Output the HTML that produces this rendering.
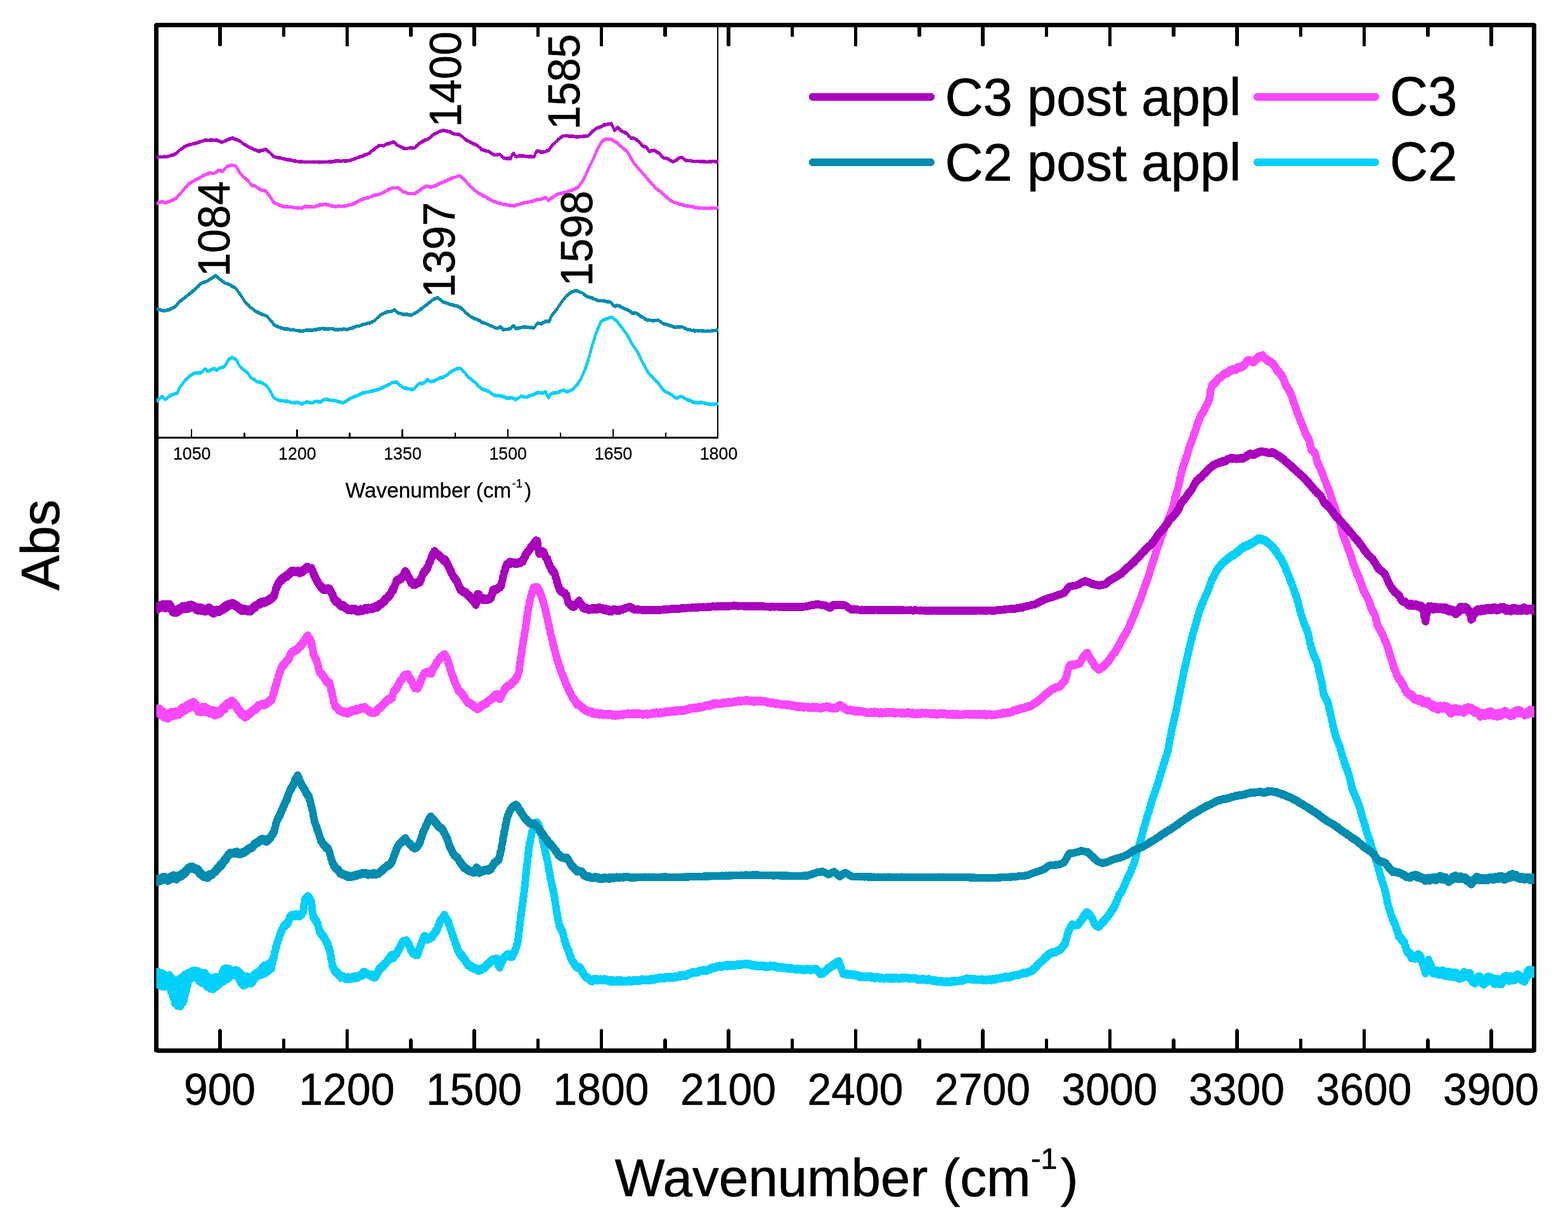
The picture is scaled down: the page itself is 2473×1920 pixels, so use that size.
<!DOCTYPE html>
<html lang="en"><head><meta charset="utf-8"><title>FTIR spectra</title>
<style>html,body{margin:0;padding:0;background:#fff}body{width:2473px;height:1920px;overflow:hidden}svg{display:block}text{font-family:"Liberation Sans",Arial,sans-serif;fill:#000}</style>
</head><body>
<svg xmlns="http://www.w3.org/2000/svg" width="2473" height="1920" viewBox="0 0 2473 1920">
<rect width="2473" height="1920" fill="#fff"/>
<defs><clipPath id="ci"><rect x="246.9" y="39.6" width="886.6" height="650.9"/></clipPath>
<clipPath id="cm"><rect x="246.5" y="39.6" width="2173.4" height="1617.6"/></clipPath></defs>
<g stroke="#000" stroke-width="5.6" stroke-linecap="round" shape-rendering="crispEdges">
<line x1="347.1" y1="39.6" x2="347.1" y2="70.6"/>
<line x1="347.1" y1="1657.2" x2="347.1" y2="1626.2"/>
<line x1="447.4" y1="39.6" x2="447.4" y2="55.6"/>
<line x1="447.4" y1="1657.2" x2="447.4" y2="1641.2"/>
<line x1="547.6" y1="39.6" x2="547.6" y2="70.6"/>
<line x1="547.6" y1="1657.2" x2="547.6" y2="1626.2"/>
<line x1="647.9" y1="39.6" x2="647.9" y2="55.6"/>
<line x1="647.9" y1="1657.2" x2="647.9" y2="1641.2"/>
<line x1="748.1" y1="39.6" x2="748.1" y2="70.6"/>
<line x1="748.1" y1="1657.2" x2="748.1" y2="1626.2"/>
<line x1="848.4" y1="39.6" x2="848.4" y2="55.6"/>
<line x1="848.4" y1="1657.2" x2="848.4" y2="1641.2"/>
<line x1="948.6" y1="39.6" x2="948.6" y2="70.6"/>
<line x1="948.6" y1="1657.2" x2="948.6" y2="1626.2"/>
<line x1="1048.9" y1="39.6" x2="1048.9" y2="55.6"/>
<line x1="1048.9" y1="1657.2" x2="1048.9" y2="1641.2"/>
<line x1="1149.1" y1="39.6" x2="1149.1" y2="70.6"/>
<line x1="1149.1" y1="1657.2" x2="1149.1" y2="1626.2"/>
<line x1="1249.4" y1="39.6" x2="1249.4" y2="55.6"/>
<line x1="1249.4" y1="1657.2" x2="1249.4" y2="1641.2"/>
<line x1="1349.6" y1="39.6" x2="1349.6" y2="70.6"/>
<line x1="1349.6" y1="1657.2" x2="1349.6" y2="1626.2"/>
<line x1="1449.9" y1="39.6" x2="1449.9" y2="55.6"/>
<line x1="1449.9" y1="1657.2" x2="1449.9" y2="1641.2"/>
<line x1="1550.1" y1="39.6" x2="1550.1" y2="70.6"/>
<line x1="1550.1" y1="1657.2" x2="1550.1" y2="1626.2"/>
<line x1="1650.4" y1="39.6" x2="1650.4" y2="55.6"/>
<line x1="1650.4" y1="1657.2" x2="1650.4" y2="1641.2"/>
<line x1="1750.6" y1="39.6" x2="1750.6" y2="70.6"/>
<line x1="1750.6" y1="1657.2" x2="1750.6" y2="1626.2"/>
<line x1="1850.9" y1="39.6" x2="1850.9" y2="55.6"/>
<line x1="1850.9" y1="1657.2" x2="1850.9" y2="1641.2"/>
<line x1="1951.1" y1="39.6" x2="1951.1" y2="70.6"/>
<line x1="1951.1" y1="1657.2" x2="1951.1" y2="1626.2"/>
<line x1="2051.4" y1="39.6" x2="2051.4" y2="55.6"/>
<line x1="2051.4" y1="1657.2" x2="2051.4" y2="1641.2"/>
<line x1="2151.6" y1="39.6" x2="2151.6" y2="70.6"/>
<line x1="2151.6" y1="1657.2" x2="2151.6" y2="1626.2"/>
<line x1="2251.9" y1="39.6" x2="2251.9" y2="55.6"/>
<line x1="2251.9" y1="1657.2" x2="2251.9" y2="1641.2"/>
<line x1="2352.1" y1="39.6" x2="2352.1" y2="70.6"/>
<line x1="2352.1" y1="1657.2" x2="2352.1" y2="1626.2"/>
</g>
<rect x="246.6" y="39.6" width="2172.9" height="1617.6" fill="none" stroke="#000" stroke-width="6.6" stroke-linejoin="round" shape-rendering="crispEdges"/>
<g clip-path="url(#cm)" shape-rendering="crispEdges">
<path d="M246 1551.7L246.1 1551.7L247.1 1532.8L248.1 1553L249.1 1532.5L250.1 1554L251.1 1533.8L252.1 1555.7L253.1 1534.6L254.1 1554.7L255.1 1534.8L256.1 1556.7L257.1 1536.2L258.1 1555.5L259.1 1537.9L260.1 1556.8L261.1 1538.5L262.1 1556.1L263.1 1538.8L264.1 1556.7L265.1 1540.2L266.1 1557.1L267.1 1538.2L268.1 1558.3L269.1 1541L270.1 1565.5L271.1 1544.1L272.1 1571.6L273.1 1544.7L274.1 1576L275.1 1548L276.1 1583.6L277.1 1549.7L278.1 1584.3L279.1 1546.3L280.1 1587.2L281.1 1546.7L282.1 1586L283.1 1546.2L284.1 1588.1L285.1 1542.4L286.1 1583.9L287.1 1541.5L288.1 1582.6L289.1 1541.8L290.1 1578.1L291.1 1537.7L292.1 1569.8L293.1 1537.5L294.1 1562.9L295.1 1535.6L296.1 1554.7L297.1 1534.4L298.1 1546.7L299.1 1534.2L300.1 1544.3L301.1 1533.3L302.1 1543.3L303.1 1531.7L304.1 1542.7L305.1 1531L306.1 1541.5L307.1 1530.8L308.1 1541.2L309.1 1531.1L310.1 1543.5L311.1 1531.5L312.1 1545.6L313.1 1532.6L314.1 1548.4L315.1 1533.3L316.1 1549.6L317.1 1534.3L318.1 1551.5L319.1 1535.2L320.1 1551.4L321.1 1535.6L322.1 1551.9L323.1 1534.7L324.1 1554.3L325.1 1537.6L326.1 1556.2L327.1 1540L328.1 1558L329.1 1541.8L330.1 1558.3L331.1 1543.4L332.1 1560.3L333.1 1542.9L334.1 1560.5L335.1 1542.6L336.1 1560.8L337.1 1542.1L338.1 1558.8L339.1 1542.7L340.1 1557.7L341.1 1541.2L342.1 1555L343.1 1541.3L344.1 1554.3L345.1 1541.4L346.1 1552.6L347.1 1542.1L348.1 1551.1L349.1 1544L350.1 1549.5L351.1 1532.7L352.1 1549L353.1 1528.8L354.1 1547.5L355.1 1527.8L356.1 1545.2L357.1 1527.4L358.1 1545.5L359.1 1527.6L360.1 1543.3L361.1 1528.2L362.1 1541.6L363.1 1530.5L364.1 1540.4L365.1 1531L366.1 1539.5L367.1 1530.8L368.1 1539.2L369.1 1531.2L370.1 1538.8L371.1 1530.2L372.1 1539L373.1 1530.3L374.1 1539.7L375.1 1531.7L376.1 1543.3L377.1 1533.6L378.1 1546.9L379.1 1535.6L380.1 1550.9L381.1 1537.9L382.1 1553.2L383.1 1540.1L384.1 1555.3L385.1 1540.3L386.1 1553.3L387.1 1540.8L388.1 1553.3L389.1 1540.1L390.1 1550.9L391.1 1540.6L392.1 1550.6L393.1 1541.2L394.1 1551.5L395.1 1542.1L396.1 1551.8L397.1 1542.1L398.1 1550.1L399.1 1539.7L400.1 1546.2L401.1 1536.7L402.1 1543.1L403.1 1535.3L404.1 1541.9L405.1 1534.3L406.1 1540.5L407.1 1533L408.1 1539.7L409.1 1531.8L410.1 1538.5L411.1 1529.3L412.1 1538.2L413.1 1527.2L414.1 1537.1L415.1 1524.3L416.1 1536.4L417.1 1522.7L418.1 1535.8L419.1 1523.1L420.1 1534.4L421.1 1522.2L422.1 1532.5L423.1 1520.6L424.1 1531.2L425.1 1518.9L426.1 1529.4L427.1 1517.5L428.1 1528.4L429.1 1514.8L430.1 1518.4L431.1 1511.3L432.1 1510L433.1 1502.2L434.1 1500.9L435.1 1494.4L436.1 1493.6L437.1 1487L438.1 1486.4L439.1 1480.7L440.1 1480.5L441.1 1474.7L442.1 1474.7L443.1 1469.7L444.1 1470.5L445.1 1465.5L446.1 1465.3L447.1 1460.4L448.1 1462.9L449.1 1458.6L450.1 1461L451.1 1456.8L452.1 1459.6L453.1 1454.7L454.1 1457.3L455.1 1451.9L456.1 1451.9L457.1 1445.5L458.1 1446L459.1 1443.8L460.1 1446.3L461.1 1442.7L462.1 1446.1L463.1 1443.3L464.1 1445.2L465.1 1442.4L466.1 1445.7L467.1 1442.2L468.1 1444.6L469.1 1442.5L470.1 1445.7L471.1 1442.8L472.1 1446.4L473.1 1442.2L474.1 1444.7L475.1 1440.9L476.1 1443.1L477.1 1438.4L478.1 1439.9L479.1 1429.7L480.1 1426.2L481.1 1418.2L482.1 1420.6L483.1 1416.1L484.1 1417.8L485.1 1413.4L486.1 1416.8L487.1 1415.1L488.1 1419.5L489.1 1417.8L490.1 1422.9L491.1 1422.4L492.1 1434L493.1 1440.4L494.1 1447.8L495.1 1446.3L496.1 1450.8L497.1 1449.8L498.1 1453.5L499.1 1451.8L500.1 1456.7L501.1 1456.8L502.1 1463.1L503.1 1465.5L504.1 1471L505.1 1469.3L506.1 1473.9L507.1 1471.9L508.1 1476.5L509.1 1474.5L510.1 1479.1L511.1 1477.9L512.1 1482.2L513.1 1481.4L514.1 1485.9L515.1 1485.2L516.1 1490.2L517.1 1488.7L518.1 1496L519.1 1494.8L520.1 1500.5L521.1 1502.5L522.1 1511.7L523.1 1514.8L524.1 1524.3L525.1 1523.9L526.1 1529.6L527.1 1528.2L528.1 1533.2L529.1 1531.6L530.1 1535.6L531.1 1532.6L532.1 1536.2L533.1 1534.9L534.1 1539.2L535.1 1536.9L536.1 1540.5L537.1 1538.6L538.1 1543.2L539.1 1540.3L540.1 1542.9L541.1 1539.8L542.1 1543.7L543.1 1541.3L544.1 1544.6L545.1 1541.6L546.1 1545.4L547.1 1542L548.1 1545.4L549.1 1541.1L550.1 1544.8L551.1 1542.6L552.1 1545L553.1 1541.7L554.1 1544.7L555.1 1540.9L556.1 1543.7L557.1 1541.1L558.1 1543.3L559.1 1539.5L560.1 1543.7L561.1 1540L562.1 1543.3L563.1 1539.6L564.1 1543.1L565.1 1539.3L566.1 1541.1L567.1 1537.9L568.1 1540L569.1 1537.3L570.1 1540.5L571.1 1536.1L572.1 1537.2L573.1 1532.9L574.1 1535.5L575.1 1533.3L576.1 1536.1L577.1 1534.2L578.1 1536.9L579.1 1535.5L580.1 1538L581.1 1536.5L582.1 1538.6L583.1 1536.8L584.1 1540.1L585.1 1536.7L586.1 1540.5L587.1 1538.3L588.1 1542L589.1 1539L590.1 1542.7L591.1 1539.8L592.1 1542.1L593.1 1537.9L594.1 1539L595.1 1534.3L596.1 1535.1L597.1 1530.1L598.1 1531.4L599.1 1526.3L600.1 1529.1L601.1 1525.4L602.1 1527L603.1 1523L604.1 1525.9L605.1 1521.8L606.1 1523.2L607.1 1519.2L608.1 1520.6L609.1 1518.3L610.1 1518.2L611.1 1514.9L612.1 1516.1L613.1 1511.8L614.1 1513.9L615.1 1509.8L616.1 1511.3L617.1 1506.3L618.1 1509.1L619.1 1505.6L620.1 1512.1L621.1 1508.6L622.1 1509.2L623.1 1505.3L624.1 1506.5L625.1 1502.5L626.1 1504.8L627.1 1499.6L628.1 1500.9L629.1 1496.4L630.1 1497.3L631.1 1492.7L632.1 1494L633.1 1488.7L634.1 1489.1L635.1 1484.9L636.1 1487.4L637.1 1483.7L638.1 1486.9L639.1 1483.6L640.1 1486.3L641.1 1483.1L642.1 1485.7L643.1 1486L644.1 1489.9L645.1 1489.2L646.1 1494.6L647.1 1494.3L648.1 1500L649.1 1498.2L650.1 1503.1L651.1 1500.9L652.1 1505.5L653.1 1504.4L654.1 1506.7L655.1 1504.4L656.1 1506.8L657.1 1504.2L658.1 1507.5L659.1 1503.1L660.1 1503.2L661.1 1496.9L662.1 1496.6L663.1 1491.7L664.1 1492L665.1 1485.5L666.1 1485.8L667.1 1480.6L668.1 1481.4L669.1 1476.3L670.1 1478.9L671.1 1476.9L672.1 1480.8L673.1 1478.8L674.1 1482.8L675.1 1480.1L676.1 1481.6L677.1 1478.4L678.1 1481.2L679.1 1478.1L680.1 1480L681.1 1476.3L682.1 1478.2L683.1 1474.2L684.1 1475.1L685.1 1471.5L686.1 1472.4L687.1 1467.8L688.1 1469.7L689.1 1465.9L690.1 1466.2L691.1 1460.3L692.1 1460.6L693.1 1454.8L694.1 1454.9L695.1 1450.4L696.1 1451.9L697.1 1448.3L698.1 1450.9L699.1 1445.6L700.1 1445.9L701.1 1442.9L702.1 1447.1L703.1 1447.5L704.1 1451.2L705.1 1450.4L706.1 1454.3L707.1 1453L708.1 1459.1L709.1 1459.6L710.1 1465.3L711.1 1465.7L712.1 1471.2L713.1 1471.8L714.1 1477.2L715.1 1477.3L716.1 1482.5L717.1 1483.2L718.1 1488.6L719.1 1488.9L720.1 1494.2L721.1 1494.5L722.1 1500L723.1 1499.8L724.1 1504.2L725.1 1502.6L726.1 1507.2L727.1 1505.2L728.1 1509.1L729.1 1507.2L730.1 1511.9L731.1 1510.3L732.1 1514.1L733.1 1512.7L734.1 1517.3L735.1 1516.2L736.1 1520.7L737.1 1519.6L738.1 1523.3L739.1 1520.9L740.1 1524.4L741.1 1522.5L742.1 1526.2L743.1 1524.1L744.1 1526.7L745.1 1525.1L746.1 1528.6L747.1 1525.4L748.1 1528.3L749.1 1527L750.1 1529.7L751.1 1527.9L752.1 1530.8L753.1 1528.4L754.1 1532L755.1 1529.1L756.1 1531.6L757.1 1527.7L758.1 1531.4L759.1 1527.9L760.1 1529.9L761.1 1526.8L762.1 1528.6L763.1 1525.5L764.1 1528L765.1 1524.5L766.1 1525.8L767.1 1522.2L768.1 1523.3L769.1 1519.8L770.1 1521.8L771.1 1518.4L772.1 1519.9L773.1 1516.2L774.1 1518.1L775.1 1515.4L776.1 1516.7L777.1 1513.2L778.1 1515.7L779.1 1512.8L780.1 1515.7L781.1 1512.3L782.1 1514.9L783.1 1512.1L784.1 1517.5L785.1 1518.4L786.1 1524.3L787.1 1523.7L788.1 1526.7L789.1 1521.4L790.1 1521.9L791.1 1517.3L792.1 1517.4L793.1 1512.2L794.1 1512.3L795.1 1509.5L796.1 1511.2L797.1 1508.5L798.1 1509.7L799.1 1506.1L800.1 1507L801.1 1504.7L802.1 1508.7L803.1 1506.1L804.1 1509.3L805.1 1507.2L806.1 1510.5L807.1 1508.3L808.1 1509.8L809.1 1504.7L810.1 1505.3L811.1 1500.7L812.1 1501.1L813.1 1496.5L814.1 1495.3L815.1 1490.3L816.1 1489L817.1 1482.2L818.1 1475.9L819.1 1463.3L820.1 1457.7L821.1 1446.6L822.1 1442.5L823.1 1432.1L824.1 1427.7L825.1 1417.3L826.1 1412L827.1 1402.7L828.1 1395.1L829.1 1382.8L830.1 1375.7L831.1 1363.7L832.1 1357.3L833.1 1346.5L834.1 1339.2L835.1 1330.4L836.1 1329.2L837.1 1321.8L838.1 1318.5L839.1 1311.8L840.1 1311.3L841.1 1305.8L842.1 1305.1L843.1 1298.5L844.1 1300.3L845.1 1297.3L846.1 1300L847.1 1297.1L848.1 1299.5L849.1 1299.7L850.1 1304.8L851.1 1304.9L852.1 1310.3L853.1 1310L854.1 1317.8L855.1 1320.1L856.1 1327.5L857.1 1328.8L858.1 1335.8L859.1 1338.7L860.1 1345.7L861.1 1347.7L862.1 1353.9L863.1 1355.5L864.1 1363.2L865.1 1366.4L866.1 1374.9L867.1 1377.9L868.1 1386.2L869.1 1388.9L870.1 1395.6L871.1 1397.6L872.1 1405L873.1 1406.9L874.1 1413.6L875.1 1417.2L876.1 1426.9L877.1 1431.4L878.1 1440.2L879.1 1443L880.1 1450.9L881.1 1454L882.1 1461.3L883.1 1460.8L884.1 1465.2L885.1 1465.4L886.1 1469.5L887.1 1468.9L888.1 1474.3L889.1 1476.6L890.1 1483.5L891.1 1484.5L892.1 1489.8L893.1 1490.1L894.1 1494.8L895.1 1495.4L896.1 1500.6L897.1 1500L898.1 1505.9L899.1 1507.1L900.1 1511.6L901.1 1510.9L902.1 1516.6L903.1 1515.6L904.1 1519.5L905.1 1518.1L906.1 1522.3L907.1 1521.7L908.1 1525.5L909.1 1523.8L910.1 1527L911.1 1524.4L912.1 1527.1L913.1 1524.7L914.1 1527.2L915.1 1526L916.1 1529.8L917.1 1529.7L918.1 1533.8L919.1 1532.6L920.1 1537L921.1 1536.4L922.1 1540.1L923.1 1538.6L924.1 1542.3L925.1 1540.5L926.1 1543.3L927.1 1541.7L928.1 1545L929.1 1543.4L930.1 1546L931.1 1545.5L932.1 1548.1L933.1 1545.9L934.1 1548.7L935.1 1545.5L936.1 1547.3L937.1 1544L938.1 1546.3L939.1 1544.1L940.1 1546.4L941.1 1544.2L942.1 1547.2L943.1 1544.6L944.1 1547L945.1 1544.8L946.1 1546.8L947.1 1544.4L948.1 1546.9L949.1 1544.7L950.1 1547.5L951.1 1545.4L952.1 1547L953.1 1544.2L954.1 1547L955.1 1545.4L956.1 1547.1L957.1 1545L958.1 1547.7L959.1 1545.6L960.1 1548L961.1 1546.2L962.1 1549L963.1 1546.4L964.1 1548.3L965.1 1546L966.1 1548.9L967.1 1546.2L968.1 1548L969.1 1547.7L970.1 1549.4L971.1 1547L972.1 1549.1L973.1 1546.1L974.1 1548.5L975.1 1546.8L976.1 1548.8L977.1 1546L978.1 1548L979.1 1546.1L980.1 1548.8L981.1 1546.6L982.1 1549.5L983.1 1546.6L984.1 1548.9L985.1 1546.9L986.1 1548.9L987.1 1547.4L988.1 1549.3L989.1 1546.5L990.1 1548.1L991.1 1546.3L992.1 1548.3L993.1 1546.3L994.1 1548.7L995.1 1546.5L996.1 1548.8L997.1 1546.7L998.1 1548.2L999.1 1545.9L1000.1 1547.2L1001.1 1545.7L1002.1 1547.9L1003.1 1545.9L1004.1 1547.8L1005.1 1546L1006.1 1548.2L1007.1 1546.3L1008.1 1547.8L1009.1 1546.5L1010.1 1547.7L1011.1 1545L1012.1 1546.3L1013.1 1544.4L1014.1 1546.7L1015.1 1545.1L1016.1 1546.5L1017.1 1545.2L1018.1 1546.8L1019.1 1544.9L1020.1 1547.4L1021.1 1545.5L1022.1 1547.1L1023.1 1545.2L1024.1 1547.1L1025.1 1544.8L1026.1 1546.7L1027.1 1543.9L1028.1 1546.1L1029.1 1543.9L1030.1 1545.3L1031.1 1543.8L1032.1 1545.7L1033.1 1543.4L1034.1 1545.1L1035.1 1543.3L1036.1 1544.8L1037.1 1542.3L1038.1 1544.4L1039.1 1542.4L1040.1 1544.3L1041.1 1542.4L1042.1 1544.2L1043.1 1542L1044.1 1543.6L1045.1 1541.9L1046.1 1543.9L1047.1 1542.1L1048.1 1543.7L1049.1 1541.3L1050.1 1543L1051.1 1541.2L1052.1 1543.1L1053.1 1541L1054.1 1542.9L1055.1 1540.8L1056.1 1543.1L1057.1 1541.5L1058.1 1543.5L1059.1 1541.8L1060.1 1542.9L1061.1 1540.8L1062.1 1542.8L1063.1 1540.5L1064.1 1542L1065.1 1540.1L1066.1 1541.8L1067.1 1540L1068.1 1541.7L1069.1 1539.3L1070.1 1540.8L1071.1 1538.9L1072.1 1540.4L1073.1 1538.2L1074.1 1540.9L1075.1 1538.7L1076.1 1539.7L1077.1 1537.8L1078.1 1540L1079.1 1537.6L1080.1 1539.5L1081.1 1537.9L1082.1 1540L1083.1 1537.2L1084.1 1538.4L1085.1 1536.1L1086.1 1537.9L1087.1 1535.4L1088.1 1536.8L1089.1 1534.3L1090.1 1536.2L1091.1 1534.5L1092.1 1535.6L1093.1 1533.1L1094.1 1535.5L1095.1 1533.7L1096.1 1535.5L1097.1 1533.7L1098.1 1535.3L1099.1 1532.6L1100.1 1534.5L1101.1 1532L1102.1 1533.7L1103.1 1531.4L1104.1 1532.6L1105.1 1530.5L1106.1 1532.2L1107.1 1530.9L1108.1 1532.2L1109.1 1530.1L1110.1 1532.3L1111.1 1530.1L1112.1 1531.9L1113.1 1530.3L1114.1 1531.9L1115.1 1529.7L1116.1 1531.6L1117.1 1529L1118.1 1530.5L1119.1 1527.9L1120.1 1529.8L1121.1 1527.3L1122.1 1528.6L1123.1 1526.2L1124.1 1528.4L1125.1 1526.7L1126.1 1528L1127.1 1525.6L1128.1 1527.2L1129.1 1525.1L1130.1 1526.4L1131.1 1524L1132.1 1525.8L1133.1 1523.7L1134.1 1525.2L1135.1 1523.4L1136.1 1525.2L1137.1 1524.1L1138.1 1525.9L1139.1 1523.9L1140.1 1525.1L1141.1 1522.9L1142.1 1524.5L1143.1 1522.9L1144.1 1524.1L1145.1 1522.2L1146.1 1524.7L1147.1 1521.9L1148.1 1524.6L1149.1 1522.2L1150.1 1524.5L1151.1 1522.7L1152.1 1524.1L1153.1 1522L1154.1 1523.9L1155.1 1522.3L1156.1 1524.5L1157.1 1522.4L1158.1 1524.1L1159.1 1521.7L1160.1 1523.7L1161.1 1521.8L1162.1 1522.9L1163.1 1520.9L1164.1 1522.7L1165.1 1521L1166.1 1522.9L1167.1 1520.9L1168.1 1522.9L1169.1 1520.6L1170.1 1522.5L1171.1 1520.6L1172.1 1522.3L1173.1 1520.3L1174.1 1521.8L1175.1 1520.3L1176.1 1521.9L1177.1 1520.2L1178.1 1521.7L1179.1 1520L1180.1 1522.2L1181.1 1520.1L1182.1 1522.3L1183.1 1520.7L1184.1 1522.8L1185.1 1521.5L1186.1 1524L1187.1 1522L1188.1 1524.1L1189.1 1522.8L1190.1 1524.1L1191.1 1522.1L1192.1 1524.6L1193.1 1522.9L1194.1 1524.7L1195.1 1522.6L1196.1 1524.7L1197.1 1523.1L1198.1 1525.2L1199.1 1523L1200.1 1525.5L1201.1 1523.3L1202.1 1525.2L1203.1 1523L1204.1 1524.8L1205.1 1523.2L1206.1 1525.6L1207.1 1524.3L1208.1 1526.3L1209.1 1524.3L1210.1 1525.8L1211.1 1523.8L1212.1 1525.7L1213.1 1523.6L1214.1 1525.2L1215.1 1522.9L1216.1 1525.1L1217.1 1523.4L1218.1 1525.5L1219.1 1523.7L1220.1 1525.1L1221.1 1523.2L1222.1 1525.8L1223.1 1523.5L1224.1 1525.8L1225.1 1524.6L1226.1 1526.9L1227.1 1525L1228.1 1526.9L1229.1 1525.2L1230.1 1527.3L1231.1 1525.5L1232.1 1526.7L1233.1 1525.3L1234.1 1527.6L1235.1 1526.3L1236.1 1527.7L1237.1 1526.3L1238.1 1528.1L1239.1 1526.1L1240.1 1528.5L1241.1 1526.6L1242.1 1528.4L1243.1 1526.8L1244.1 1529.1L1245.1 1527L1246.1 1529.4L1247.1 1527.9L1248.1 1529.5L1249.1 1527.1L1250.1 1529.3L1251.1 1527.5L1252.1 1529L1253.1 1527.6L1254.1 1529.8L1255.1 1527.9L1256.1 1529.7L1257.1 1527.8L1258.1 1530.2L1259.1 1528.4L1260.1 1530.3L1261.1 1528L1262.1 1529.8L1263.1 1528.6L1264.1 1530.5L1265.1 1528.8L1266.1 1531.1L1267.1 1529.5L1268.1 1531.1L1269.1 1529L1270.1 1530.8L1271.1 1528.3L1272.1 1530.1L1273.1 1527.9L1274.1 1529.5L1275.1 1528.3L1276.1 1530.5L1277.1 1528.7L1278.1 1531.1L1279.1 1529.1L1280.1 1530.5L1281.1 1528.8L1282.1 1530.4L1283.1 1528.7L1284.1 1530L1285.1 1528.1L1286.1 1530.1L1287.1 1528.2L1288.1 1531L1289.1 1529.9L1290.1 1532.6L1291.1 1532.3L1292.1 1535.6L1293.1 1534.7L1294.1 1537.5L1295.1 1535.5L1296.1 1536.9L1297.1 1534.8L1298.1 1536.1L1299.1 1533.5L1300.1 1534.2L1301.1 1531.4L1302.1 1532.9L1303.1 1530.7L1304.1 1531.1L1305.1 1527.9L1306.1 1528.9L1307.1 1526.1L1308.1 1527.9L1309.1 1525.3L1310.1 1526.6L1311.1 1523.7L1312.1 1524.8L1313.1 1521.9L1314.1 1522.7L1315.1 1520.6L1316.1 1522.7L1317.1 1520L1318.1 1521.1L1319.1 1518L1320.1 1519.7L1321.1 1516.7L1322.1 1518L1323.1 1515.9L1324.1 1520.6L1325.1 1522.2L1326.1 1526.7L1327.1 1527.7L1328.1 1532L1329.1 1533.7L1330.1 1536.9L1331.1 1534.9L1332.1 1537.2L1333.1 1535.2L1334.1 1537.8L1335.1 1535.5L1336.1 1537.5L1337.1 1536.1L1338.1 1538.3L1339.1 1536.5L1340.1 1538.3L1341.1 1536.3L1342.1 1538.5L1343.1 1536.6L1344.1 1538.8L1345.1 1537.2L1346.1 1538.9L1347.1 1536.9L1348.1 1539.5L1349.1 1537.4L1350.1 1539.6L1351.1 1537.9L1352.1 1540.5L1353.1 1538.7L1354.1 1540.9L1355.1 1538.6L1356.1 1541.8L1357.1 1539.6L1358.1 1540.7L1359.1 1539.6L1360.1 1542L1361.1 1539.9L1362.1 1542L1363.1 1539.6L1364.1 1542.1L1365.1 1539.8L1366.1 1541.8L1367.1 1539.8L1368.1 1542.3L1369.1 1540.4L1370.1 1542.1L1371.1 1540.2L1372.1 1541.8L1373.1 1539.9L1374.1 1542.6L1375.1 1541.6L1376.1 1542.8L1377.1 1541L1378.1 1543L1379.1 1541.6L1380.1 1543.9L1381.1 1541.4L1382.1 1543.4L1383.1 1541.2L1384.1 1543.2L1385.1 1541.4L1386.1 1543.6L1387.1 1541.8L1388.1 1543.7L1389.1 1541.8L1390.1 1544L1391.1 1542L1392.1 1544.1L1393.1 1542.5L1394.1 1544.6L1395.1 1542.5L1396.1 1543.9L1397.1 1542.3L1398.1 1544.1L1399.1 1541.7L1400.1 1543.4L1401.1 1541.9L1402.1 1543.6L1403.1 1541.6L1404.1 1544.8L1405.1 1542.5L1406.1 1544.3L1407.1 1542.3L1408.1 1544.6L1409.1 1543.1L1410.1 1544.4L1411.1 1541.6L1412.1 1544.1L1413.1 1541.8L1414.1 1544L1415.1 1542.5L1416.1 1544.4L1417.1 1543L1418.1 1544.7L1419.1 1542.6L1420.1 1543.8L1421.1 1542.2L1422.1 1543.8L1423.1 1542.1L1424.1 1544.3L1425.1 1542L1426.1 1543.7L1427.1 1541.8L1428.1 1543.4L1429.1 1541.8L1430.1 1543.5L1431.1 1541.5L1432.1 1543.9L1433.1 1542.7L1434.1 1544.6L1435.1 1543L1436.1 1544.4L1437.1 1542.5L1438.1 1544.4L1439.1 1542.5L1440.1 1544.4L1441.1 1542.7L1442.1 1544.1L1443.1 1542.4L1444.1 1544.6L1445.1 1543.3L1446.1 1545.2L1447.1 1543.9L1448.1 1546.2L1449.1 1544.4L1450.1 1546.4L1451.1 1544.6L1452.1 1546.4L1453.1 1544.6L1454.1 1546.2L1455.1 1543.5L1456.1 1545.6L1457.1 1544L1458.1 1546.5L1459.1 1544.6L1460.1 1546L1461.1 1544.7L1462.1 1547L1463.1 1544.5L1464.1 1546.1L1465.1 1544.2L1466.1 1546.4L1467.1 1545.1L1468.1 1547.4L1469.1 1546L1470.1 1547.7L1471.1 1546.3L1472.1 1547.8L1473.1 1546.2L1474.1 1548L1475.1 1546L1476.1 1548L1477.1 1546.7L1478.1 1549L1479.1 1547L1480.1 1548.6L1481.1 1547L1482.1 1548.5L1483.1 1547.2L1484.1 1549.3L1485.1 1547.5L1486.1 1549.6L1487.1 1547.5L1488.1 1549.4L1489.1 1547.8L1490.1 1550.4L1491.1 1548.3L1492.1 1550.2L1493.1 1548.6L1494.1 1550.3L1495.1 1548.1L1496.1 1549.6L1497.1 1548.4L1498.1 1549.7L1499.1 1547.9L1500.1 1550L1501.1 1547.2L1502.1 1548.9L1503.1 1546.9L1504.1 1548.7L1505.1 1547.1L1506.1 1548.9L1507.1 1546.7L1508.1 1548.8L1509.1 1547L1510.1 1548.5L1511.1 1546.5L1512.1 1548.1L1513.1 1546.8L1514.1 1547.8L1515.1 1546.1L1516.1 1547.1L1517.1 1545.3L1518.1 1547.7L1519.1 1545L1520.1 1546L1521.1 1544.5L1522.1 1546.1L1523.1 1544L1524.1 1545.3L1525.1 1543.1L1526.1 1545.4L1527.1 1543.7L1528.1 1545L1529.1 1543.5L1530.1 1545.2L1531.1 1543.9L1532.1 1545.6L1533.1 1544.6L1534.1 1546.3L1535.1 1544.2L1536.1 1546L1537.1 1544.2L1538.1 1545.9L1539.1 1544.5L1540.1 1546.4L1541.1 1544.6L1542.1 1546.5L1543.1 1544.5L1544.1 1546.2L1545.1 1544.5L1546.1 1546L1547.1 1544.6L1548.1 1546.5L1549.1 1544.4L1550.1 1546.8L1551.1 1545.3L1552.1 1546.9L1553.1 1545.7L1554.1 1547.1L1555.1 1545.3L1556.1 1547L1557.1 1545L1558.1 1546.5L1559.1 1544.8L1560.1 1546L1561.1 1544.4L1562.1 1546.6L1563.1 1544.5L1564.1 1546.6L1565.1 1544.3L1566.1 1546.1L1567.1 1544.3L1568.1 1545.8L1569.1 1543.9L1570.1 1545.7L1571.1 1543.6L1572.1 1544.9L1573.1 1542.6L1574.1 1544.5L1575.1 1542.6L1576.1 1544.2L1577.1 1542.5L1578.1 1544.1L1579.1 1541.6L1580.1 1543.4L1581.1 1541.5L1582.1 1543.1L1583.1 1541L1584.1 1542.9L1585.1 1541.1L1586.1 1542.3L1587.1 1540.2L1588.1 1542L1589.1 1541.1L1590.1 1542.7L1591.1 1540.5L1592.1 1541.7L1593.1 1539.9L1594.1 1541.8L1595.1 1539.1L1596.1 1540.6L1597.1 1538.9L1598.1 1540.2L1599.1 1538.3L1600.1 1539.6L1601.1 1538L1602.1 1539.4L1603.1 1537.5L1604.1 1539.4L1605.1 1537.5L1606.1 1538.8L1607.1 1536.8L1608.1 1538L1609.1 1536.5L1610.1 1537.5L1611.1 1535.3L1612.1 1536.3L1613.1 1534.5L1614.1 1535.8L1615.1 1534.2L1616.1 1535.9L1617.1 1534.4L1618.1 1536.1L1619.1 1533.9L1620.1 1535.3L1621.1 1533.2L1622.1 1534.5L1623.1 1532.5L1624.1 1533.6L1625.1 1531.4L1626.1 1532.8L1627.1 1530.6L1628.1 1532L1629.1 1528.9L1630.1 1530.1L1631.1 1527.1L1632.1 1528.2L1633.1 1525.9L1634.1 1526L1635.1 1522.4L1636.1 1523.7L1637.1 1520.8L1638.1 1521.6L1639.1 1518.8L1640.1 1519.5L1641.1 1517.3L1642.1 1517.7L1643.1 1515.6L1644.1 1515.7L1645.1 1513.6L1646.1 1514.1L1647.1 1510.6L1648.1 1512.1L1649.1 1509.1L1650.1 1510.6L1651.1 1508.2L1652.1 1508.4L1653.1 1506.1L1654.1 1507L1655.1 1504.1L1656.1 1505.3L1657.1 1503.1L1658.1 1504.3L1659.1 1502L1660.1 1503.8L1661.1 1501.6L1662.1 1502.8L1663.1 1501.3L1664.1 1503.3L1665.1 1500.4L1666.1 1502L1667.1 1499.3L1668.1 1500.9L1669.1 1498.4L1670.1 1499.7L1671.1 1497.6L1672.1 1498.7L1673.1 1496.2L1674.1 1496.8L1675.1 1494L1676.1 1494.5L1677.1 1490.6L1678.1 1491.5L1679.1 1488.3L1680.1 1489L1681.1 1483.5L1682.1 1481.5L1683.1 1475L1684.1 1472.8L1685.1 1468.9L1686.1 1469.1L1687.1 1465.1L1688.1 1464.5L1689.1 1460.9L1690.1 1461.2L1691.1 1458.1L1692.1 1460.5L1693.1 1458.5L1694.1 1460.6L1695.1 1458.9L1696.1 1460.4L1697.1 1458.8L1698.1 1460.5L1699.1 1459.4L1700.1 1459.7L1701.1 1456.4L1702.1 1457.1L1703.1 1454L1704.1 1454.8L1705.1 1451.7L1706.1 1451.6L1707.1 1448.2L1708.1 1449.1L1709.1 1445.4L1710.1 1445.5L1711.1 1442.7L1712.1 1442.3L1713.1 1439.2L1714.1 1440.2L1715.1 1439.2L1716.1 1441.7L1717.1 1441.1L1718.1 1444L1719.1 1443.1L1720.1 1446.4L1721.1 1445.7L1722.1 1448.3L1723.1 1449.5L1724.1 1453.2L1725.1 1453.9L1726.1 1457.8L1727.1 1456.9L1728.1 1460L1729.1 1459.1L1730.1 1461.9L1731.1 1460.8L1732.1 1462.7L1733.1 1460.9L1734.1 1462L1735.1 1458.8L1736.1 1459.4L1737.1 1456.6L1738.1 1457L1739.1 1453.7L1740.1 1455.2L1741.1 1452.1L1742.1 1452.9L1743.1 1449.9L1744.1 1450.5L1745.1 1447.5L1746.1 1448.4L1747.1 1444.7L1748.1 1445L1749.1 1442.5L1750.1 1442.8L1751.1 1439.6L1752.1 1439.8L1753.1 1436.2L1754.1 1436.1L1755.1 1433.2L1756.1 1433.5L1757.1 1430.1L1758.1 1430.4L1759.1 1426.2L1760.1 1425.4L1761.1 1421.4L1762.1 1420.4L1763.1 1416.3L1764.1 1415.5L1765.1 1411.1L1766.1 1411.4L1767.1 1408.4L1768.1 1408.6L1769.1 1405.2L1770.1 1405.7L1771.1 1401.6L1772.1 1401L1773.1 1397L1774.1 1396.1L1775.1 1392L1776.1 1391.5L1777.1 1386.9L1778.1 1386.7L1779.1 1383.2L1780.1 1383.2L1781.1 1378.8L1782.1 1378.7L1783.1 1375.1L1784.1 1374.4L1785.1 1369.5L1786.1 1369.2L1787.1 1365.2L1788.1 1364L1789.1 1359.2L1790.1 1357.8L1791.1 1351.4L1792.1 1349.3L1793.1 1343.3L1794.1 1341.5L1795.1 1337L1796.1 1335.7L1797.1 1331.1L1798.1 1329.9L1799.1 1324.2L1800.1 1323.3L1801.1 1317.5L1802.1 1314.6L1803.1 1308.2L1804.1 1306.6L1805.1 1301.6L1806.1 1300.6L1807.1 1294.9L1808.1 1293.7L1809.1 1288.6L1810.1 1286.8L1811.1 1281.8L1812.1 1280.6L1813.1 1274.9L1814.1 1274.1L1815.1 1268.5L1816.1 1266.6L1817.1 1261.9L1818.1 1260.8L1819.1 1255.9L1820.1 1254.8L1821.1 1249.7L1822.1 1249L1823.1 1243.8L1824.1 1243.2L1825.1 1238.4L1826.1 1237.1L1827.1 1231.8L1828.1 1230.4L1829.1 1225.3L1830.1 1223.7L1831.1 1218.6L1832.1 1217.3L1833.1 1211.8L1834.1 1210.7L1835.1 1205.6L1836.1 1204.1L1837.1 1199.2L1838.1 1198.2L1839.1 1192.9L1840.1 1191.6L1841.1 1186.8L1842.1 1184.6L1843.1 1177.1L1844.1 1174L1845.1 1166.7L1846.1 1162.5L1847.1 1155.6L1848.1 1152.1L1849.1 1146.7L1850.1 1143.7L1851.1 1137L1852.1 1135L1853.1 1129.6L1854.1 1126.6L1855.1 1119.9L1856.1 1116.1L1857.1 1108.7L1858.1 1106.2L1859.1 1099.5L1860.1 1095.8L1861.1 1089.8L1862.1 1086.3L1863.1 1079.7L1864.1 1076.3L1865.1 1069.3L1866.1 1066.4L1867.1 1059.2L1868.1 1057.3L1869.1 1050.9L1870.1 1048.2L1871.1 1042.2L1872.1 1039.4L1873.1 1033.2L1874.1 1031.3L1875.1 1024.6L1876.1 1022.4L1877.1 1015.7L1878.1 1013.5L1879.1 1007.6L1880.1 1006L1881.1 999.9L1882.1 998.6L1883.1 993.4L1884.1 991.9L1885.1 986.8L1886.1 984.7L1887.1 979.1L1888.1 977.8L1889.1 972.3L1890.1 970.7L1891.1 964.9L1892.1 963.5L1893.1 959.1L1894.1 958.9L1895.1 954.1L1896.1 953.7L1897.1 949.4L1898.1 948.8L1899.1 944.5L1900.1 943.9L1901.1 940L1902.1 939.4L1903.1 935.9L1904.1 935.2L1905.1 931.2L1906.1 929.9L1907.1 926.4L1908.1 924.8L1909.1 919.8L1910.1 918.8L1911.1 914.3L1912.1 914.3L1913.1 911.2L1914.1 910.9L1915.1 907.1L1916.1 907L1917.1 902.9L1918.1 903L1919.1 898.6L1920.1 900L1921.1 896.3L1922.1 896.8L1923.1 893.4L1924.1 894L1925.1 891L1926.1 891.9L1927.1 888.4L1928.1 889.4L1929.1 886.5L1930.1 887.8L1931.1 885.1L1932.1 886.1L1933.1 883.5L1934.1 884.4L1935.1 881.8L1936.1 883L1937.1 880L1938.1 881.1L1939.1 878.3L1940.1 879.9L1941.1 876.5L1942.1 878.3L1943.1 875.2L1944.1 877.1L1945.1 874.6L1946.1 876.1L1947.1 873.4L1948.1 874.9L1949.1 871.5L1950.1 872.9L1951.1 869.8L1952.1 871.7L1953.1 868.9L1954.1 870.1L1955.1 867.1L1956.1 868.1L1957.1 865.1L1958.1 866L1959.1 863.2L1960.1 865.5L1961.1 861.7L1962.1 864.1L1963.1 862.2L1964.1 862.8L1965.1 860.2L1966.1 861.9L1967.1 859.2L1968.1 862.1L1969.1 859L1970.1 860.2L1971.1 857.2L1972.1 859.5L1973.1 856.8L1974.1 857.8L1975.1 855.5L1976.1 857.2L1977.1 854.7L1978.1 856L1979.1 853.3L1980.1 854.6L1981.1 851.4L1982.1 853.2L1983.1 850.3L1984.1 851.6L1985.1 848.8L1986.1 851L1987.1 848.8L1988.1 851.1L1989.1 850.3L1990.1 852.6L1991.1 850.3L1992.1 852.9L1993.1 850.6L1994.1 852.5L1995.1 851.5L1996.1 853.5L1997.1 853.1L1998.1 856L1999.1 854.6L2000.1 857.7L2001.1 856.7L2002.1 859.6L2003.1 858.5L2004.1 860.8L2005.1 859.5L2006.1 863.4L2007.1 862.4L2008.1 865.4L2009.1 864.1L2010.1 867.6L2011.1 866.7L2012.1 871L2013.1 869.2L2014.1 873.4L2015.1 873.2L2016.1 877.1L2017.1 876.1L2018.1 878.7L2019.1 878.8L2020.1 881.8L2021.1 882.4L2022.1 886.3L2023.1 886.3L2024.1 889.8L2025.1 890L2026.1 894.5L2027.1 894.4L2028.1 899.5L2029.1 899.5L2030.1 904.4L2031.1 904.3L2032.1 908.5L2033.1 909.1L2034.1 913.9L2035.1 914.9L2036.1 919.2L2037.1 919.3L2038.1 924.4L2039.1 925.5L2040.1 929.7L2041.1 930.8L2042.1 936L2043.1 936.5L2044.1 941.1L2045.1 941.5L2046.1 947.4L2047.1 948.8L2048.1 955.3L2049.1 957.7L2050.1 962.8L2051.1 965L2052.1 970.2L2053.1 971.5L2054.1 975.8L2055.1 977.4L2056.1 982.2L2057.1 982.8L2058.1 987.7L2059.1 988.3L2060.1 992.5L2061.1 992.4L2062.1 997.3L2063.1 998.9L2064.1 1005.3L2065.1 1008.2L2066.1 1015.1L2067.1 1016.9L2068.1 1022.5L2069.1 1023.8L2070.1 1029.3L2071.1 1030.9L2072.1 1034.4L2073.1 1034.7L2074.1 1039.1L2075.1 1039.1L2076.1 1042.9L2077.1 1043.9L2078.1 1050.1L2079.1 1052.3L2080.1 1059L2081.1 1061.8L2082.1 1068.3L2083.1 1069.7L2084.1 1076L2085.1 1077.8L2086.1 1086.1L2087.1 1091.8L2088.1 1097.6L2089.1 1096.7L2090.1 1101.2L2091.1 1100.9L2092.1 1104.8L2093.1 1104.8L2094.1 1108.4L2095.1 1110.5L2096.1 1117.6L2097.1 1119.7L2098.1 1125.7L2099.1 1128.1L2100.1 1135.2L2101.1 1138L2102.1 1144.8L2103.1 1146.4L2104.1 1152.4L2105.1 1154.4L2106.1 1161.1L2107.1 1161.8L2108.1 1166.4L2109.1 1167.2L2110.1 1171.4L2111.1 1172.3L2112.1 1176.4L2113.1 1177.8L2114.1 1183L2115.1 1184.3L2116.1 1189.9L2117.1 1191.3L2118.1 1196.6L2119.1 1197.2L2120.1 1203.6L2121.1 1204.7L2122.1 1209L2123.1 1209L2124.1 1214.2L2125.1 1214.1L2126.1 1219.4L2127.1 1220.4L2128.1 1226.1L2129.1 1228.4L2130.1 1234.4L2131.1 1236.7L2132.1 1243.7L2133.1 1243.8L2134.1 1248.9L2135.1 1248.9L2136.1 1253.5L2137.1 1254.2L2138.1 1258.5L2139.1 1258.7L2140.1 1263.3L2141.1 1263L2142.1 1268L2143.1 1268.7L2144.1 1274.2L2145.1 1275.1L2146.1 1280.8L2147.1 1282.3L2148.1 1288.4L2149.1 1289.5L2150.1 1295.1L2151.1 1295.6L2152.1 1301.5L2153.1 1302.8L2154.1 1307.8L2155.1 1309.1L2156.1 1314.9L2157.1 1316.1L2158.1 1320.6L2159.1 1321.7L2160.1 1327L2161.1 1327.3L2162.1 1333.4L2163.1 1335L2164.1 1339.7L2165.1 1340.1L2166.1 1344.5L2167.1 1345.5L2168.1 1351.1L2169.1 1352L2170.1 1358.2L2171.1 1359.4L2172.1 1364.8L2173.1 1366.3L2174.1 1371.8L2175.1 1373.6L2176.1 1379.2L2177.1 1379.8L2178.1 1385.9L2179.1 1387L2180.1 1392.7L2181.1 1393.2L2182.1 1398.2L2183.1 1399.4L2184.1 1405.1L2185.1 1407L2186.1 1412.8L2187.1 1416.2L2188.1 1423.6L2189.1 1426.4L2190.1 1431.6L2191.1 1433.1L2192.1 1437.8L2193.1 1439.2L2194.1 1444.6L2195.1 1445.8L2196.1 1450.7L2197.1 1450.3L2198.1 1454.8L2199.1 1454.7L2200.1 1458.8L2201.1 1459.3L2202.1 1464.8L2203.1 1464.7L2204.1 1470.4L2205.1 1471.7L2206.1 1477.8L2207.1 1477.1L2208.1 1480L2209.1 1478.3L2210.1 1482.9L2211.1 1481.2L2212.1 1485.6L2213.1 1483.9L2214.1 1487.2L2215.1 1486.1L2216.1 1493.1L2217.1 1492.8L2218.1 1499.2L2219.1 1498.8L2220.1 1503.7L2221.1 1500.9L2222.1 1505.2L2223.1 1502.4L2224.1 1507.7L2225.1 1505.2L2226.1 1511.8L2227.1 1508.8L2228.1 1512.1L2229.1 1507.4L2230.1 1512.5L2231.1 1508.1L2232.1 1512.9L2233.1 1507.7L2234.1 1511.1L2235.1 1506.4L2236.1 1509.7L2237.1 1504.7L2238.1 1508.7L2239.1 1506.4L2240.1 1513.4L2241.1 1510.3L2242.1 1517.3L2243.1 1516.2L2244.1 1522.2L2245.1 1520.9L2246.1 1528.7L2247.1 1525.9L2248.1 1535.8L2249.1 1529.6L2250.1 1530.6L2251.1 1519L2252.1 1519.6L2253.1 1513.8L2254.1 1522.8L2255.1 1518.8L2256.1 1526.7L2257.1 1523.3L2258.1 1533.2L2259.1 1530.2L2260.1 1535.9L2261.1 1529.3L2262.1 1534L2263.1 1529.6L2264.1 1536.2L2265.1 1530.4L2266.1 1537.4L2267.1 1532.1L2268.1 1538.1L2269.1 1532.3L2270.1 1538L2271.1 1533.3L2272.1 1537.7L2273.1 1532.1L2274.1 1537.4L2275.1 1530.4L2276.1 1539L2277.1 1532.9L2278.1 1537.1L2279.1 1534.3L2280.1 1540.5L2281.1 1532.6L2282.1 1539.1L2283.1 1533.6L2284.1 1538.6L2285.1 1532.7L2286.1 1541.3L2287.1 1533.3L2288.1 1541.3L2289.1 1535.9L2290.1 1541.7L2291.1 1535.9L2292.1 1542.3L2293.1 1534.2L2294.1 1542.4L2295.1 1533.7L2296.1 1540.8L2297.1 1534.8L2298.1 1542L2299.1 1537.4L2300.1 1544L2301.1 1538L2302.1 1544.6L2303.1 1539.4L2304.1 1542.9L2305.1 1537.1L2306.1 1543.3L2307.1 1536.7L2308.1 1540.1L2309.1 1533.2L2310.1 1540.8L2311.1 1535.9L2312.1 1541L2313.1 1535.5L2314.1 1541.6L2315.1 1534.7L2316.1 1541.3L2317.1 1534.5L2318.1 1542.6L2319.1 1536.4L2320.1 1546L2321.1 1542.1L2322.1 1549.4L2323.1 1544.1L2324.1 1550.5L2325.1 1545.2L2326.1 1551.9L2327.1 1544.8L2328.1 1548.6L2329.1 1542.7L2330.1 1548.8L2331.1 1540.7L2332.1 1546.4L2333.1 1539.7L2334.1 1548.2L2335.1 1542.6L2336.1 1550.5L2337.1 1547.6L2338.1 1552.4L2339.1 1546.7L2340.1 1553.6L2341.1 1546.6L2342.1 1552.1L2343.1 1545.1L2344.1 1550.2L2345.1 1541.7L2346.1 1547.2L2347.1 1540.3L2348.1 1548.7L2349.1 1540.9L2350.1 1548.3L2351.1 1541.7L2352.1 1547.6L2353.1 1542.2L2354.1 1548.7L2355.1 1545.1L2356.1 1552.2L2357.1 1546.7L2358.1 1552.8L2359.1 1545.1L2360.1 1549.5L2361.1 1543.7L2362.1 1550.6L2363.1 1545.1L2364.1 1552.9L2365.1 1545L2366.1 1551.2L2367.1 1547.2L2368.1 1553.3L2369.1 1547.7L2370.1 1549.9L2371.1 1541.7L2372.1 1545.9L2373.1 1540.7L2374.1 1544.8L2375.1 1539.1L2376.1 1546.5L2377.1 1540.2L2378.1 1547L2379.1 1540.2L2380.1 1547.8L2381.1 1542.1L2382.1 1547.4L2383.1 1540.1L2384.1 1547.2L2385.1 1542L2386.1 1546.4L2387.1 1543.2L2388.1 1546.8L2389.1 1539.6L2390.1 1544.9L2391.1 1539.8L2392.1 1544.8L2393.1 1537L2394.1 1542.1L2395.1 1537.8L2396.1 1544.2L2397.1 1539.4L2398.1 1545.7L2399.1 1540.9L2400.1 1547.5L2401.1 1541.4L2402.1 1547.2L2403.1 1540.6L2404.1 1549.2L2405.1 1541.3L2406.1 1544.9L2407.1 1538.2L2408.1 1541.4L2409.1 1532L2410.1 1538.1L2411.1 1529.5L2412.1 1536.9L2413.1 1530.6L2414.1 1535.9L2415.1 1530.4L2416.1 1537.3L2417.1 1530.1L2418.1 1535.3L2419.1 1530.7L2420.1 1537.6L2420 1537.6" fill="none" stroke="#00D0FA" stroke-width="12" stroke-linejoin="round" stroke-linecap="butt"/>
<path d="M246 1391.9L246.4 1391.9L247.4 1386.8L248.4 1390.7L249.4 1385.6L250.4 1391.2L251.4 1387L252.4 1390.5L253.4 1384.8L254.4 1389.3L255.4 1384.3L256.4 1388.9L257.4 1382.8L258.4 1386.4L259.4 1382.9L260.4 1387.6L261.4 1384L262.4 1388.5L263.4 1385.1L264.4 1390L265.4 1384.9L266.4 1389.1L267.4 1384.2L268.4 1387.8L269.4 1382.5L270.4 1386.7L271.4 1381.5L272.4 1385.2L273.4 1380.4L274.4 1385.3L275.4 1382.4L276.4 1387.4L277.4 1383L278.4 1387.7L279.4 1383.8L280.4 1386L281.4 1380.5L282.4 1384.2L283.4 1379.8L284.4 1383.9L285.4 1379.9L286.4 1382.7L287.4 1377.6L288.4 1380.8L289.4 1377.5L290.4 1379.9L291.4 1374.1L292.4 1377.8L293.4 1372.9L294.4 1375.5L295.4 1370.2L296.4 1372.6L297.4 1368.4L298.4 1371.8L299.4 1367.2L300.4 1371L301.4 1367.1L302.4 1369.8L303.4 1366.8L304.4 1370.5L305.4 1367.6L306.4 1371.6L307.4 1368.9L308.4 1373L309.4 1369.7L310.4 1373.5L311.4 1370.4L312.4 1375.4L313.4 1372.4L314.4 1378.2L315.4 1375.3L316.4 1380.2L317.4 1377.6L318.4 1381L319.4 1378.9L320.4 1383.7L321.4 1381.3L322.4 1384L323.4 1380.9L324.4 1384.2L325.4 1381.7L326.4 1385.6L327.4 1382.1L328.4 1385L329.4 1379.7L330.4 1382L331.4 1378.7L332.4 1381.9L333.4 1378.3L334.4 1380.8L335.4 1377.1L336.4 1378.1L337.4 1375.2L338.4 1376.8L339.4 1373.4L340.4 1375.6L341.4 1371L342.4 1372.8L343.4 1368.5L344.4 1370.9L345.4 1366L346.4 1368.6L347.4 1363.6L348.4 1367.2L349.4 1362.8L350.4 1364.3L351.4 1359.1L352.4 1361.4L353.4 1356.9L354.4 1359.2L355.4 1354.9L356.4 1356.6L357.4 1351.9L358.4 1353.1L359.4 1348.2L360.4 1349.5L361.4 1346.1L362.4 1348.7L363.4 1345.1L364.4 1347.4L365.4 1344.9L366.4 1347.3L367.4 1344.7L368.4 1346.8L369.4 1344.4L370.4 1346.8L371.4 1344.4L372.4 1347.1L373.4 1343.2L374.4 1347L375.4 1345L376.4 1348.1L377.4 1345.6L378.4 1347.5L379.4 1344.7L380.4 1347.8L381.4 1344.2L382.4 1346.8L383.4 1343.8L384.4 1346L385.4 1343.5L386.4 1345L387.4 1341.4L388.4 1343.8L389.4 1340L390.4 1341.5L391.4 1338.4L392.4 1340.3L393.4 1337.2L394.4 1339.4L395.4 1337.4L396.4 1338.7L397.4 1335L398.4 1337.3L399.4 1333.3L400.4 1334.4L401.4 1330.3L402.4 1332.4L403.4 1329.2L404.4 1330.3L405.4 1328.1L406.4 1330L407.4 1327.1L408.4 1329L409.4 1325.8L410.4 1327L411.4 1323.8L412.4 1325.8L413.4 1323L414.4 1326L415.4 1323.4L416.4 1327L417.4 1324.2L418.4 1326.9L419.4 1325.8L420.4 1328.5L421.4 1325.7L422.4 1326.8L423.4 1322.5L424.4 1324.3L425.4 1321.3L426.4 1322.8L427.4 1319L428.4 1319.3L429.4 1315.5L430.4 1316.6L431.4 1312.7L432.4 1312.9L433.4 1306.3L434.4 1304.4L435.4 1298L436.4 1296.7L437.4 1292.8L438.4 1292.8L439.4 1288.4L440.4 1289L441.4 1285L442.4 1285L443.4 1279.9L444.4 1279.9L445.4 1275.3L446.4 1275.3L447.4 1270.4L448.4 1270.7L449.4 1266.6L450.4 1266.5L451.4 1261.9L452.4 1262.8L453.4 1256.6L454.4 1256.2L455.4 1251.5L456.4 1250L457.4 1246L458.4 1246.5L459.4 1242.2L460.4 1243.3L461.4 1239.3L462.4 1239.3L463.4 1235.1L464.4 1234L465.4 1229.9L466.4 1230.4L467.4 1226.8L468.4 1227.2L469.4 1223L470.4 1226.5L471.4 1226.8L472.4 1231.5L473.4 1231.8L474.4 1236.4L475.4 1236L476.4 1240.1L477.4 1240.2L478.4 1243.6L479.4 1242.9L480.4 1246.6L481.4 1246.4L482.4 1251.3L483.4 1250.6L484.4 1254.3L485.4 1253.4L486.4 1256.7L487.4 1256.7L488.4 1262.9L489.4 1264.3L490.4 1270.8L491.4 1272.4L492.4 1278L493.4 1281.2L494.4 1287.9L495.4 1291.6L496.4 1297.8L497.4 1299.1L498.4 1303.3L499.4 1304.1L500.4 1309.5L501.4 1310.2L502.4 1314.8L503.4 1315.7L504.4 1321.3L505.4 1322.9L506.4 1327.8L507.4 1326.5L508.4 1331L509.4 1329.9L510.4 1333.3L511.4 1332.7L512.4 1335.9L513.4 1334.3L514.4 1338.3L515.4 1336.7L516.4 1339.4L517.4 1338L518.4 1341.5L519.4 1343L520.4 1348.3L521.4 1350.8L522.4 1356L523.4 1357.1L524.4 1362L525.4 1361.6L526.4 1366.1L527.4 1365.2L528.4 1369.6L529.4 1368.7L530.4 1371.4L531.4 1369.9L532.4 1372.4L533.4 1371.5L534.4 1375.3L535.4 1374.2L536.4 1378.3L537.4 1376.6L538.4 1379.3L539.4 1378L540.4 1380.4L541.4 1378.2L542.4 1380.7L543.4 1379.1L544.4 1381.9L545.4 1380.1L546.4 1382.1L547.4 1380.5L548.4 1383.9L549.4 1380.9L550.4 1383.7L551.4 1381.9L552.4 1384.1L553.4 1381.6L554.4 1383.8L555.4 1381.3L556.4 1383.1L557.4 1380.9L558.4 1383.1L559.4 1380.4L560.4 1382.5L561.4 1380L562.4 1382.2L563.4 1379.2L564.4 1381.2L565.4 1378.7L566.4 1380.5L567.4 1378.3L568.4 1380L569.4 1377.9L570.4 1379.6L571.4 1376.8L572.4 1379.2L573.4 1377L574.4 1378.7L575.4 1376.6L576.4 1378.7L577.4 1377.2L578.4 1379.8L579.4 1378L580.4 1380.8L581.4 1379L582.4 1380.5L583.4 1378.4L584.4 1380L585.4 1378L586.4 1380.2L587.4 1377.7L588.4 1379.7L589.4 1377.1L590.4 1380L591.4 1377.8L592.4 1379.8L593.4 1377.8L594.4 1379.7L595.4 1377.7L596.4 1378.9L597.4 1376.9L598.4 1378.2L599.4 1374.9L600.4 1375.8L601.4 1373.4L602.4 1374.8L603.4 1371.2L604.4 1372.6L605.4 1369.9L606.4 1370.8L607.4 1367.9L608.4 1369L609.4 1366.5L610.4 1367.7L611.4 1364.6L612.4 1366.6L613.4 1364L614.4 1365.3L615.4 1363L616.4 1363.4L617.4 1359.6L618.4 1360.1L619.4 1355.6L620.4 1353.8L621.4 1349.5L622.4 1348.8L623.4 1344.4L624.4 1343.8L625.4 1338.2L626.4 1338.1L627.4 1335L628.4 1335L629.4 1331.2L630.4 1331.8L631.4 1329.1L632.4 1330.3L633.4 1327.4L634.4 1328.6L635.4 1325.7L636.4 1327L637.4 1323.5L638.4 1324.8L639.4 1321.8L640.4 1325.3L641.4 1324.9L642.4 1328.7L643.4 1328.5L644.4 1330.8L645.4 1329.3L646.4 1332.5L647.4 1331.6L648.4 1334.9L649.4 1334.2L650.4 1337.1L651.4 1335.8L652.4 1338.3L653.4 1336.6L654.4 1338.9L655.4 1336.1L656.4 1338.2L657.4 1335.5L658.4 1336.4L659.4 1332.4L660.4 1332.7L661.4 1329.4L662.4 1329.6L663.4 1324.5L664.4 1323.2L665.4 1318L666.4 1316.6L667.4 1311.7L668.4 1311.7L669.4 1308.1L670.4 1307.5L671.4 1302.8L672.4 1302.7L673.4 1299.4L674.4 1298.7L675.4 1294.3L676.4 1294.5L677.4 1290.4L678.4 1289.7L679.4 1287.7L680.4 1290.7L681.4 1290.2L682.4 1293.4L683.4 1291.9L684.4 1295.2L685.4 1294.2L686.4 1298.1L687.4 1297.2L688.4 1300.4L689.4 1299.4L690.4 1303.8L691.4 1302.8L692.4 1305.4L693.4 1303.8L694.4 1306.3L695.4 1305.6L696.4 1308.8L697.4 1307.5L698.4 1310.8L699.4 1310.7L700.4 1314.4L701.4 1314.5L702.4 1317.9L703.4 1318.1L704.4 1322.4L705.4 1322.5L706.4 1327.3L707.4 1328.6L708.4 1334L709.4 1334.1L710.4 1338.9L711.4 1337.9L712.4 1342.8L713.4 1342.8L714.4 1346.8L715.4 1347.3L716.4 1350.1L717.4 1349.4L718.4 1351.6L719.4 1351L720.4 1353.3L721.4 1352.6L722.4 1355.7L723.4 1355.9L724.4 1359.2L725.4 1358.6L726.4 1362.6L727.4 1361.6L728.4 1365L729.4 1364.6L730.4 1368L731.4 1366.5L732.4 1370.1L733.4 1368.6L734.4 1370.1L735.4 1369.4L736.4 1372.7L737.4 1371.2L738.4 1374.1L739.4 1372.2L740.4 1375.1L741.4 1373.6L742.4 1375.3L743.4 1374.1L744.4 1375.9L745.4 1374.4L746.4 1377.2L747.4 1375.5L748.4 1377.1L749.4 1373.3L750.4 1372.5L751.4 1368.3L752.4 1369.9L753.4 1369.9L754.4 1374.9L755.4 1375.8L756.4 1377.6L757.4 1374.8L758.4 1375.9L759.4 1373.7L760.4 1375.5L761.4 1373.1L762.4 1375.1L763.4 1372L764.4 1373.3L765.4 1371.6L766.4 1373.1L767.4 1371.4L768.4 1373.6L769.4 1371.3L770.4 1373.8L771.4 1371.2L772.4 1373L773.4 1370.5L774.4 1371.7L775.4 1367.6L776.4 1368.2L777.4 1364.8L778.4 1365.1L779.4 1360.9L780.4 1362.1L781.4 1359.8L782.4 1360.3L783.4 1357.7L784.4 1359.2L785.4 1356.1L786.4 1357.2L787.4 1352L788.4 1350L789.4 1343.4L790.4 1341.8L791.4 1334L792.4 1330.4L793.4 1322.2L794.4 1318.6L795.4 1311.5L796.4 1308L797.4 1301.4L798.4 1298.4L799.4 1291L800.4 1290.4L801.4 1285.6L802.4 1284.9L803.4 1280.1L804.4 1279.5L805.4 1276.3L806.4 1277.2L807.4 1273.9L808.4 1274.6L809.4 1271.7L810.4 1272.6L811.4 1270.5L812.4 1272.1L813.4 1269.4L814.4 1272.7L815.4 1270.5L816.4 1272.5L817.4 1273.2L818.4 1276.8L819.4 1277.2L820.4 1280.3L821.4 1279.4L822.4 1283.2L823.4 1282.9L824.4 1286.4L825.4 1285.9L826.4 1289.8L827.4 1289.2L828.4 1292.2L829.4 1291.8L830.4 1294.5L831.4 1293.3L832.4 1296.7L833.4 1295L834.4 1298.8L835.4 1297.2L836.4 1299.3L837.4 1297.9L838.4 1300.7L839.4 1298.8L840.4 1301.1L841.4 1299.5L842.4 1301.5L843.4 1299.4L844.4 1302.2L845.4 1301.1L846.4 1305.1L847.4 1304.2L848.4 1307L849.4 1306.7L850.4 1310.2L851.4 1309.6L852.4 1313.2L853.4 1311.8L854.4 1314.6L855.4 1313.8L856.4 1318.1L857.4 1317.4L858.4 1320.7L859.4 1320L860.4 1323.8L861.4 1323.3L862.4 1326.4L863.4 1325.4L864.4 1329.4L865.4 1328.5L866.4 1331.5L867.4 1330.6L868.4 1333.6L869.4 1332.4L870.4 1335.8L871.4 1334.9L872.4 1338.1L873.4 1337.2L874.4 1340L875.4 1340.2L876.4 1343.3L877.4 1342.1L878.4 1345.7L879.4 1345.8L880.4 1349.3L881.4 1347.7L882.4 1350.6L883.4 1349.5L884.4 1352.8L885.4 1350.6L886.4 1353.2L887.4 1352L888.4 1354.2L889.4 1352.4L890.4 1354.5L891.4 1352.6L892.4 1354.7L893.4 1352.5L894.4 1353.9L895.4 1354L896.4 1357.3L897.4 1357.8L898.4 1361L899.4 1361.2L900.4 1365L901.4 1364.4L902.4 1367.4L903.4 1365.8L904.4 1368.8L905.4 1368.5L906.4 1371.6L907.4 1370.7L908.4 1373.7L909.4 1372.9L910.4 1375.5L911.4 1373.2L912.4 1375.2L913.4 1373.4L914.4 1375.2L915.4 1373.7L916.4 1375.8L917.4 1374.5L918.4 1377.8L919.4 1377.4L920.4 1380.4L921.4 1379L922.4 1382.2L923.4 1380.8L924.4 1383.2L925.4 1381.4L926.4 1383.9L927.4 1382.2L928.4 1384.4L929.4 1382.3L930.4 1384.8L931.4 1383.2L932.4 1385.2L933.4 1383.8L934.4 1385.6L935.4 1383.6L936.4 1385.3L937.4 1383.2L938.4 1385.1L939.4 1382.9L940.4 1385.4L941.4 1384L942.4 1386.2L943.4 1383.9L944.4 1386.7L945.4 1384.9L946.4 1387.2L947.4 1384.7L948.4 1387L949.4 1385.1L950.4 1387.1L951.4 1384.5L952.4 1386.5L953.4 1384.4L954.4 1386.2L955.4 1384.3L956.4 1386.4L957.4 1384.8L958.4 1386.4L959.4 1384.9L960.4 1387.1L961.4 1384.1L962.4 1385.7L963.4 1384L964.4 1385.7L965.4 1384.4L966.4 1386.1L967.4 1384.3L968.4 1385.8L969.4 1384.4L970.4 1385.5L971.4 1383.6L972.4 1385.1L973.4 1383.4L974.4 1385L975.4 1384.3L976.4 1385.4L977.4 1384L978.4 1384.9L979.4 1383.5L980.4 1384.5L981.4 1383.7L982.4 1384.7L983.4 1383.2L984.4 1384.6L985.4 1383.1L986.4 1384.1L987.4 1383.4L988.4 1384.1L989.4 1383.3L990.4 1384.2L991.4 1383.3L992.4 1384.3L993.4 1383.7L994.4 1384.8L995.4 1384.1L996.4 1384.7L997.4 1384.3L998.4 1384.8L999.4 1384.4L1000.4 1384.7L1001.4 1384.1L1002.4 1384.5L1003.4 1384.1L1004.4 1384.5L1005.4 1384L1006.4 1384.5L1007.4 1384.2L1008.4 1384.4L1009.4 1383.9L1010.4 1384.3L1011.4 1383.8L1012.4 1384.4L1013.4 1383.8L1014.4 1384.3L1015.4 1383.7L1016.4 1384L1017.4 1383.5L1018.4 1384L1019.4 1383.6L1020.4 1384.2L1021.4 1383.7L1022.4 1384.2L1023.4 1383.5L1024.4 1384.2L1025.4 1383.7L1026.4 1384.1L1027.4 1383.6L1028.4 1384.1L1029.4 1383.5L1030.4 1384.1L1031.4 1383.6L1032.4 1384.1L1033.4 1383.8L1034.4 1384.2L1035.4 1383.8L1036.4 1384.2L1037.4 1383.8L1038.4 1384.1L1039.4 1383.6L1040.4 1384L1041.4 1383.7L1042.4 1384.1L1043.4 1383.5L1044.4 1384.1L1045.4 1383.5L1046.4 1384L1047.4 1383.4L1048.4 1384L1049.4 1383.4L1050.4 1383.8L1051.4 1383.4L1052.4 1384.1L1053.4 1383.7L1054.4 1384.2L1055.4 1383.8L1056.4 1384.2L1057.4 1383.7L1058.4 1383.9L1059.4 1383.6L1060.4 1384L1061.4 1383.7L1062.4 1384L1063.4 1383.6L1064.4 1383.9L1065.4 1383.6L1066.4 1384L1067.4 1383.6L1068.4 1384.1L1069.4 1383.8L1070.4 1384.3L1071.4 1383.7L1072.4 1384.2L1073.4 1383.7L1074.4 1384.1L1075.4 1383.5L1076.4 1384L1077.4 1383.5L1078.4 1383.9L1079.4 1383.5L1080.4 1383.9L1081.4 1383.4L1082.4 1383.8L1083.4 1383.2L1084.4 1383.6L1085.4 1383.1L1086.4 1383.6L1087.4 1382.9L1088.4 1383.2L1089.4 1382.7L1090.4 1383.3L1091.4 1382.7L1092.4 1383.1L1093.4 1382.7L1094.4 1383.3L1095.4 1383L1096.4 1383.3L1097.4 1382.8L1098.4 1383.1L1099.4 1382.8L1100.4 1383.3L1101.4 1382.8L1102.4 1383.1L1103.4 1382.7L1104.4 1383.2L1105.4 1382.8L1106.4 1383.1L1107.4 1382.6L1108.4 1383.1L1109.4 1382.5L1110.4 1383L1111.4 1382.4L1112.4 1383L1113.4 1382.4L1114.4 1382.8L1115.4 1382.3L1116.4 1382.7L1117.4 1382.3L1118.4 1382.6L1119.4 1382.1L1120.4 1382.5L1121.4 1382L1122.4 1382.5L1123.4 1382.1L1124.4 1382.4L1125.4 1381.8L1126.4 1382.4L1127.4 1382L1128.4 1382.4L1129.4 1381.8L1130.4 1382L1131.4 1381.7L1132.4 1382.1L1133.4 1381.6L1134.4 1382L1135.4 1381.6L1136.4 1381.8L1137.4 1381.5L1138.4 1382.1L1139.4 1381.5L1140.4 1381.9L1141.4 1381.5L1142.4 1382L1143.4 1381.5L1144.4 1381.9L1145.4 1381.4L1146.4 1381.9L1147.4 1381.6L1148.4 1382L1149.4 1381.4L1150.4 1381.8L1151.4 1381.2L1152.4 1381.6L1153.4 1381.1L1154.4 1381.5L1155.4 1380.9L1156.4 1381.3L1157.4 1381L1158.4 1381.4L1159.4 1380.8L1160.4 1381.2L1161.4 1380.8L1162.4 1381.1L1163.4 1380.7L1164.4 1381.1L1165.4 1380.6L1166.4 1381L1167.4 1380.6L1168.4 1381.1L1169.4 1380.5L1170.4 1381L1171.4 1380.6L1172.4 1381L1173.4 1380.6L1174.4 1381L1175.4 1380.4L1176.4 1381L1177.4 1380.4L1178.4 1380.9L1179.4 1380.6L1180.4 1381L1181.4 1380.5L1182.4 1380.9L1183.4 1380.5L1184.4 1380.9L1185.4 1380.5L1186.4 1380.9L1187.4 1380.4L1188.4 1380.8L1189.4 1380.3L1190.4 1380.8L1191.4 1380.3L1192.4 1380.7L1193.4 1380.3L1194.4 1380.9L1195.4 1380.4L1196.4 1380.9L1197.4 1380.6L1198.4 1381.1L1199.4 1380.7L1200.4 1381.2L1201.4 1380.7L1202.4 1381.3L1203.4 1380.8L1204.4 1381.2L1205.4 1380.9L1206.4 1381.3L1207.4 1381L1208.4 1381.3L1209.4 1380.9L1210.4 1381.4L1211.4 1381L1212.4 1381.4L1213.4 1380.9L1214.4 1381.4L1215.4 1380.9L1216.4 1381.4L1217.4 1381L1218.4 1381.5L1219.4 1381.1L1220.4 1381.6L1221.4 1381.1L1222.4 1381.5L1223.4 1381L1224.4 1381.4L1225.4 1381.1L1226.4 1381.5L1227.4 1381L1228.4 1381.5L1229.4 1381.2L1230.4 1381.8L1231.4 1381.5L1232.4 1381.9L1233.4 1381.4L1234.4 1381.8L1235.4 1381.2L1236.4 1381.7L1237.4 1381.2L1238.4 1381.7L1239.4 1381.3L1240.4 1381.7L1241.4 1381.4L1242.4 1381.8L1243.4 1381.5L1244.4 1381.9L1245.4 1381.6L1246.4 1382.2L1247.4 1381.7L1248.4 1382L1249.4 1381.6L1250.4 1382.1L1251.4 1381.7L1252.4 1382.1L1253.4 1381.7L1254.4 1382.1L1255.4 1381.7L1256.4 1382.1L1257.4 1381.6L1258.4 1382L1259.4 1381.6L1260.4 1382L1261.4 1381.7L1262.4 1382L1263.4 1381.6L1264.4 1381.9L1265.4 1381.5L1266.4 1382L1267.4 1381.5L1268.4 1381.8L1269.4 1381.4L1270.4 1381.8L1271.4 1381.2L1272.4 1381.7L1273.4 1381.3L1274.4 1381.6L1275.4 1380.9L1276.4 1380.9L1277.4 1380.1L1278.4 1380.2L1279.4 1379.5L1280.4 1379.4L1281.4 1378.7L1282.4 1378.9L1283.4 1377.9L1284.4 1378L1285.4 1377.3L1286.4 1377.3L1287.4 1376.5L1288.4 1376.7L1289.4 1376.1L1290.4 1376.4L1291.4 1375.8L1292.4 1376L1293.4 1375.5L1294.4 1375.7L1295.4 1375.1L1296.4 1375.4L1297.4 1374.8L1298.4 1375.8L1299.4 1375.8L1300.4 1376.8L1301.4 1376.9L1302.4 1377.7L1303.4 1377.8L1304.4 1378.7L1305.4 1378.8L1306.4 1379.7L1307.4 1379.4L1308.4 1379.3L1309.4 1378.2L1310.4 1378L1311.4 1376.8L1312.4 1376.7L1313.4 1375.8L1314.4 1375.6L1315.4 1375.2L1316.4 1376.3L1317.4 1376.7L1318.4 1377.9L1319.4 1378.4L1320.4 1379.7L1321.4 1380.1L1322.4 1381.5L1323.4 1381.9L1324.4 1383L1325.4 1382.2L1326.4 1381.8L1327.4 1380.5L1328.4 1380.1L1329.4 1378.8L1330.4 1378.4L1331.4 1377.3L1332.4 1376.8L1333.4 1376.6L1334.4 1377.7L1335.4 1377.9L1336.4 1378.8L1337.4 1378.9L1338.4 1380L1339.4 1380.1L1340.4 1381.2L1341.4 1381.3L1342.4 1382.3L1343.4 1382.5L1344.4 1383.1L1345.4 1382.8L1346.4 1383.1L1347.4 1382.7L1348.4 1383.2L1349.4 1382.8L1350.4 1383.3L1351.4 1383L1352.4 1383.3L1353.4 1382.9L1354.4 1383.3L1355.4 1382.9L1356.4 1383.4L1357.4 1383.1L1358.4 1383.4L1359.4 1383.1L1360.4 1383.5L1361.4 1383.1L1362.4 1383.4L1363.4 1383L1364.4 1383.6L1365.4 1383.1L1366.4 1383.5L1367.4 1383.2L1368.4 1383.6L1369.4 1383.3L1370.4 1383.7L1371.4 1383.2L1372.4 1383.8L1373.4 1383.4L1374.4 1383.8L1375.4 1383.4L1376.4 1383.9L1377.4 1383.5L1378.4 1383.8L1379.4 1383.5L1380.4 1384L1381.4 1383.6L1382.4 1384L1383.4 1383.6L1384.4 1383.9L1385.4 1383.5L1386.4 1384.1L1387.4 1383.8L1388.4 1384.1L1389.4 1383.6L1390.4 1384.1L1391.4 1383.7L1392.4 1384L1393.4 1383.6L1394.4 1384L1395.4 1383.5L1396.4 1383.9L1397.4 1383.6L1398.4 1383.9L1399.4 1383.5L1400.4 1383.9L1401.4 1383.5L1402.4 1383.9L1403.4 1383.5L1404.4 1384L1405.4 1383.6L1406.4 1383.8L1407.4 1383.7L1408.4 1384.1L1409.4 1383.7L1410.4 1384.2L1411.4 1383.7L1412.4 1384.1L1413.4 1383.7L1414.4 1384.1L1415.4 1383.8L1416.4 1384.1L1417.4 1383.8L1418.4 1384.2L1419.4 1383.8L1420.4 1384.1L1421.4 1383.5L1422.4 1383.9L1423.4 1383.5L1424.4 1383.9L1425.4 1383.6L1426.4 1384.1L1427.4 1383.7L1428.4 1384.2L1429.4 1383.8L1430.4 1384.2L1431.4 1383.7L1432.4 1384.2L1433.4 1383.8L1434.4 1384.1L1435.4 1383.8L1436.4 1384.1L1437.4 1383.7L1438.4 1384.1L1439.4 1383.7L1440.4 1384L1441.4 1383.6L1442.4 1384L1443.4 1383.7L1444.4 1384L1445.4 1383.8L1446.4 1384.1L1447.4 1383.7L1448.4 1384.1L1449.4 1383.6L1450.4 1384L1451.4 1383.7L1452.4 1384.2L1453.4 1383.7L1454.4 1384.1L1455.4 1383.8L1456.4 1384.1L1457.4 1383.8L1458.4 1384.2L1459.4 1383.7L1460.4 1384.1L1461.4 1383.9L1462.4 1384.2L1463.4 1383.7L1464.4 1384.1L1465.4 1383.6L1466.4 1384.1L1467.4 1383.7L1468.4 1384.2L1469.4 1383.6L1470.4 1384.1L1471.4 1383.7L1472.4 1384.2L1473.4 1383.9L1474.4 1384.2L1475.4 1383.6L1476.4 1384L1477.4 1383.6L1478.4 1383.8L1479.4 1383.6L1480.4 1384L1481.4 1383.5L1482.4 1384L1483.4 1383.6L1484.4 1384L1485.4 1383.6L1486.4 1383.9L1487.4 1383.5L1488.4 1383.9L1489.4 1383.7L1490.4 1384L1491.4 1383.8L1492.4 1384.2L1493.4 1383.9L1494.4 1384.1L1495.4 1383.8L1496.4 1384.1L1497.4 1383.7L1498.4 1384L1499.4 1383.7L1500.4 1384L1501.4 1383.6L1502.4 1384L1503.4 1383.7L1504.4 1384.2L1505.4 1383.8L1506.4 1384.1L1507.4 1383.8L1508.4 1384L1509.4 1383.7L1510.4 1384L1511.4 1383.9L1512.4 1384.1L1513.4 1383.8L1514.4 1384.3L1515.4 1383.9L1516.4 1384.3L1517.4 1383.9L1518.4 1384.3L1519.4 1384L1520.4 1384.4L1521.4 1383.9L1522.4 1384.4L1523.4 1384.2L1524.4 1384.5L1525.4 1384.2L1526.4 1384.5L1527.4 1384.1L1528.4 1384.6L1529.4 1384.2L1530.4 1384.6L1531.4 1384.2L1532.4 1384.6L1533.4 1384.2L1534.4 1384.6L1535.4 1384.3L1536.4 1384.7L1537.4 1384.4L1538.4 1384.9L1539.4 1384.6L1540.4 1384.8L1541.4 1384.6L1542.4 1385L1543.4 1384.7L1544.4 1385L1545.4 1384.8L1546.4 1385L1547.4 1384.6L1548.4 1385.1L1549.4 1384.8L1550.4 1385.1L1551.4 1384.7L1552.4 1385.2L1553.4 1384.8L1554.4 1385.2L1555.4 1384.9L1556.4 1385.3L1557.4 1385L1558.4 1385.5L1559.4 1385.1L1560.4 1385.4L1561.4 1385L1562.4 1385.3L1563.4 1384.9L1564.4 1385.3L1565.4 1384.9L1566.4 1385.2L1567.4 1384.8L1568.4 1385.1L1569.4 1384.8L1570.4 1385.1L1571.4 1384.6L1572.4 1384.9L1573.4 1384.5L1574.4 1384.8L1575.4 1384.5L1576.4 1384.8L1577.4 1384.4L1578.4 1384.6L1579.4 1384L1580.4 1384.3L1581.4 1384L1582.4 1384.4L1583.4 1384L1584.4 1384.3L1585.4 1383.9L1586.4 1384.2L1587.4 1383.7L1588.4 1384L1589.4 1383.6L1590.4 1384L1591.4 1383.5L1592.4 1383.9L1593.4 1383.5L1594.4 1383.7L1595.4 1383.2L1596.4 1383.6L1597.4 1383.2L1598.4 1383.5L1599.4 1383.1L1600.4 1383.5L1601.4 1383.1L1602.4 1383.3L1603.4 1382.8L1604.4 1383.1L1605.4 1382.4L1606.4 1382.6L1607.4 1382.2L1608.4 1382.4L1609.4 1382L1610.4 1382.2L1611.4 1381.9L1612.4 1382.1L1613.4 1381.6L1614.4 1381.8L1615.4 1381.5L1616.4 1381.7L1617.4 1381.2L1618.4 1381.4L1619.4 1380.9L1620.4 1381L1621.4 1380.2L1622.4 1380.1L1623.4 1379.6L1624.4 1379.5L1625.4 1378.8L1626.4 1378.7L1627.4 1378L1628.4 1377.9L1629.4 1377.2L1630.4 1377.1L1631.4 1376.4L1632.4 1376.5L1633.4 1375.8L1634.4 1375.6L1635.4 1375.1L1636.4 1375.1L1637.4 1374.5L1638.4 1374.5L1639.4 1373.8L1640.4 1373.8L1641.4 1373.1L1642.4 1373L1643.4 1372.3L1644.4 1372.4L1645.4 1371.7L1646.4 1371.7L1647.4 1370.6L1648.4 1370.2L1649.4 1369.2L1650.4 1368.8L1651.4 1367.6L1652.4 1367.2L1653.4 1366.2L1654.4 1365.8L1655.4 1365.2L1656.4 1365.4L1657.4 1365L1658.4 1365.3L1659.4 1364.9L1660.4 1365.1L1661.4 1364.6L1662.4 1364.9L1663.4 1364.5L1664.4 1364.8L1665.4 1364.3L1666.4 1364.6L1667.4 1364.2L1668.4 1364.5L1669.4 1364.1L1670.4 1364L1671.4 1363.4L1672.4 1363.3L1673.4 1362.6L1674.4 1362.5L1675.4 1361.8L1676.4 1361.7L1677.4 1361.2L1678.4 1360.4L1679.4 1358.5L1680.4 1357L1681.4 1355L1682.4 1353.6L1683.4 1351.5L1684.4 1350.2L1685.4 1348.1L1686.4 1346.6L1687.4 1346.1L1688.4 1346.3L1689.4 1345.9L1690.4 1346.1L1691.4 1345.6L1692.4 1345.8L1693.4 1345.5L1694.4 1345.6L1695.4 1345L1696.4 1345.2L1697.4 1344.5L1698.4 1344.5L1699.4 1344L1700.4 1344L1701.4 1343.3L1702.4 1343.3L1703.4 1342.6L1704.4 1342.7L1705.4 1342.1L1706.4 1342.6L1707.4 1342.5L1708.4 1343L1709.4 1342.9L1710.4 1343.5L1711.4 1343.4L1712.4 1343.9L1713.4 1343.7L1714.4 1344.2L1715.4 1343.9L1716.4 1345L1717.4 1345.7L1718.4 1347.1L1719.4 1347.8L1720.4 1349.1L1721.4 1349.7L1722.4 1351L1723.4 1351.6L1724.4 1353L1725.4 1353.5L1726.4 1355.1L1727.4 1355.6L1728.4 1356.9L1729.4 1357.5L1730.4 1358.8L1731.4 1358.9L1732.4 1359.7L1733.4 1359.6L1734.4 1360.4L1735.4 1360.4L1736.4 1361.3L1737.4 1361.2L1738.4 1362.1L1739.4 1361.7L1740.4 1361.8L1741.4 1360.9L1742.4 1361L1743.4 1360.3L1744.4 1360.7L1745.4 1360L1746.4 1360.3L1747.4 1359.3L1748.4 1359.3L1749.4 1358.5L1750.4 1358.6L1751.4 1357.6L1752.4 1357.7L1753.4 1356.6L1754.4 1356.9L1755.4 1356.2L1756.4 1356.2L1757.4 1355.2L1758.4 1355.3L1759.4 1354.4L1760.4 1354.7L1761.4 1353.9L1762.4 1354.3L1763.4 1353.5L1764.4 1353.9L1765.4 1352.8L1766.4 1353.3L1767.4 1352.4L1768.4 1352.8L1769.4 1351.7L1770.4 1352.1L1771.4 1351.3L1772.4 1351.2L1773.4 1350.1L1774.4 1350.4L1775.4 1349.3L1776.4 1349.4L1777.4 1348.1L1778.4 1348.1L1779.4 1347L1780.4 1347L1781.4 1345.8L1782.4 1345.8L1783.4 1344.5L1784.4 1344.4L1785.4 1343.2L1786.4 1343.4L1787.4 1341.7L1788.4 1342L1789.4 1340.9L1790.4 1341.3L1791.4 1339.8L1792.4 1340.3L1793.4 1339.2L1794.4 1339.4L1795.4 1338L1796.4 1338.5L1797.4 1337.2L1798.4 1337.8L1799.4 1336.7L1800.4 1337.2L1801.4 1335.9L1802.4 1336.3L1803.4 1334.9L1804.4 1335.1L1805.4 1333.6L1806.4 1333.8L1807.4 1332.6L1808.4 1332.7L1809.4 1331.3L1810.4 1331.5L1811.4 1330.2L1812.4 1330.3L1813.4 1328.7L1814.4 1329L1815.4 1327.5L1816.4 1327.8L1817.4 1326.4L1818.4 1326.6L1819.4 1325.3L1820.4 1325.4L1821.4 1324.1L1822.4 1324.1L1823.4 1322.5L1824.4 1322.6L1825.4 1321.3L1826.4 1321.4L1827.4 1320.2L1828.4 1320.4L1829.4 1318.6L1830.4 1318.8L1831.4 1317.1L1832.4 1317.2L1833.4 1315.7L1834.4 1316L1835.4 1314.2L1836.4 1314.8L1837.4 1313.3L1838.4 1313.4L1839.4 1311.9L1840.4 1312.2L1841.4 1310.7L1842.4 1311.2L1843.4 1309.4L1844.4 1309.8L1845.4 1308.6L1846.4 1308.4L1847.4 1307L1848.4 1307.1L1849.4 1305.7L1850.4 1305.7L1851.4 1304.3L1852.4 1304.6L1853.4 1303.1L1854.4 1303.1L1855.4 1301.7L1856.4 1301.9L1857.4 1300.3L1858.4 1300.7L1859.4 1298.9L1860.4 1298.9L1861.4 1297L1862.4 1297.1L1863.4 1295.4L1864.4 1295.9L1865.4 1294.5L1866.4 1294.8L1867.4 1293.3L1868.4 1293.2L1869.4 1291.4L1870.4 1291.8L1871.4 1290.3L1872.4 1290.5L1873.4 1289.2L1874.4 1289.2L1875.4 1287.4L1876.4 1287.8L1877.4 1286.3L1878.4 1286.5L1879.4 1284.8L1880.4 1285.1L1881.4 1283.8L1882.4 1284.2L1883.4 1282.6L1884.4 1282.9L1885.4 1281.4L1886.4 1282L1887.4 1280.3L1888.4 1280.7L1889.4 1279.1L1890.4 1279.6L1891.4 1278L1892.4 1278.2L1893.4 1276.6L1894.4 1276.9L1895.4 1275.3L1896.4 1275.8L1897.4 1274.2L1898.4 1274.7L1899.4 1273.1L1900.4 1273.4L1901.4 1272.2L1902.4 1272.6L1903.4 1271L1904.4 1271.5L1905.4 1270.3L1906.4 1270.7L1907.4 1269.1L1908.4 1269.2L1909.4 1268.2L1910.4 1269L1911.4 1267.4L1912.4 1267.7L1913.4 1266.3L1914.4 1266.7L1915.4 1265.3L1916.4 1265.6L1917.4 1264.2L1918.4 1264.7L1919.4 1263.2L1920.4 1263.8L1921.4 1262.4L1922.4 1263.1L1923.4 1262.1L1924.4 1262.7L1925.4 1261.6L1926.4 1262L1927.4 1260.7L1928.4 1261.7L1929.4 1260.3L1930.4 1261.2L1931.4 1260.3L1932.4 1260.7L1933.4 1259.8L1934.4 1260.6L1935.4 1259.3L1936.4 1259.9L1937.4 1258.9L1938.4 1259.3L1939.4 1258.1L1940.4 1258.9L1941.4 1257.4L1942.4 1258L1943.4 1256.6L1944.4 1257.6L1945.4 1256.6L1946.4 1257.2L1947.4 1255.7L1948.4 1256.7L1949.4 1254.9L1950.4 1255.9L1951.4 1255L1952.4 1255.9L1953.4 1254.8L1954.4 1255.3L1955.4 1254.1L1956.4 1254.8L1957.4 1253.9L1958.4 1254.8L1959.4 1253.6L1960.4 1254.4L1961.4 1253.1L1962.4 1254L1963.4 1252.6L1964.4 1253L1965.4 1252.1L1966.4 1252.8L1967.4 1251.5L1968.4 1252.5L1969.4 1251.2L1970.4 1251.8L1971.4 1250.4L1972.4 1251.5L1973.4 1250.3L1974.4 1251.2L1975.4 1250L1976.4 1251.2L1977.4 1250L1978.4 1251.1L1979.4 1249.8L1980.4 1250.7L1981.4 1249.7L1982.4 1250.5L1983.4 1249.5L1984.4 1250.3L1985.4 1249.1L1986.4 1249.9L1987.4 1248.5L1988.4 1249.9L1989.4 1249.5L1990.4 1250.6L1991.4 1249.6L1992.4 1250.7L1993.4 1249.5L1994.4 1250.7L1995.4 1249.7L1996.4 1250.4L1997.4 1249.4L1998.4 1250.3L1999.4 1247.8L2000.4 1248.2L2001.4 1247.5L2002.4 1249L2003.4 1248.3L2004.4 1249L2005.4 1248.3L2006.4 1249.4L2007.4 1248.5L2008.4 1249.5L2009.4 1248.8L2010.4 1250.4L2011.4 1249.1L2012.4 1249.9L2013.4 1249.3L2014.4 1251L2015.4 1250.2L2016.4 1251.6L2017.4 1250.9L2018.4 1252.5L2019.4 1251.6L2020.4 1253.2L2021.4 1252.1L2022.4 1253.9L2023.4 1252.9L2024.4 1254.2L2025.4 1253.6L2026.4 1254.9L2027.4 1254.4L2028.4 1255.9L2029.4 1255.1L2030.4 1257L2031.4 1256.2L2032.4 1257.8L2033.4 1256.9L2034.4 1258.5L2035.4 1257.8L2036.4 1259.1L2037.4 1258.6L2038.4 1260.6L2039.4 1260.1L2040.4 1261.8L2041.4 1260.7L2042.4 1262.6L2043.4 1262.2L2044.4 1263.5L2045.4 1262.8L2046.4 1264.8L2047.4 1264.5L2048.4 1266.4L2049.4 1265.7L2050.4 1267.2L2051.4 1266.9L2052.4 1268.7L2053.4 1268.1L2054.4 1269.7L2055.4 1268.9L2056.4 1270.7L2057.4 1270.5L2058.4 1272L2059.4 1271.8L2060.4 1273.1L2061.4 1272.6L2062.4 1274.6L2063.4 1273.7L2064.4 1275.7L2065.4 1275.1L2066.4 1276.9L2067.4 1276.6L2068.4 1278.3L2069.4 1278L2070.4 1279.7L2071.4 1279.1L2072.4 1281.1L2073.4 1280.3L2074.4 1282.1L2075.4 1281.6L2076.4 1283.4L2077.4 1283L2078.4 1284.9L2079.4 1284.7L2080.4 1286.3L2081.4 1285.9L2082.4 1288L2083.4 1287.6L2084.4 1289.9L2085.4 1289.3L2086.4 1291.4L2087.4 1290.7L2088.4 1292.5L2089.4 1291.9L2090.4 1293.5L2091.4 1293.6L2092.4 1295.6L2093.4 1295L2094.4 1296.8L2095.4 1296.3L2096.4 1297.9L2097.4 1297.3L2098.4 1298.9L2099.4 1298.2L2100.4 1299.9L2101.4 1299.4L2102.4 1301.2L2103.4 1300.5L2104.4 1302.6L2105.4 1302L2106.4 1303.8L2107.4 1303.2L2108.4 1305.5L2109.4 1304.4L2110.4 1306.4L2111.4 1306.1L2112.4 1308.1L2113.4 1308L2114.4 1309.6L2115.4 1309.1L2116.4 1311.3L2117.4 1310.9L2118.4 1312.5L2119.4 1312.1L2120.4 1313.8L2121.4 1313.7L2122.4 1315.3L2123.4 1314.6L2124.4 1316.6L2125.4 1316L2126.4 1318.3L2127.4 1317.4L2128.4 1319.1L2129.4 1319.1L2130.4 1320.9L2131.4 1320.6L2132.4 1322.3L2133.4 1321.9L2134.4 1323.6L2135.4 1323.3L2136.4 1325.2L2137.4 1324.1L2138.4 1326.3L2139.4 1325.5L2140.4 1327.5L2141.4 1327.6L2142.4 1329.8L2143.4 1329.2L2144.4 1331L2145.4 1330.9L2146.4 1332.9L2147.4 1332.1L2148.4 1334.1L2149.4 1333.6L2150.4 1336.4L2151.4 1335.6L2152.4 1337.8L2153.4 1337.4L2154.4 1339.1L2155.4 1338.5L2156.4 1340.5L2157.4 1339.6L2158.4 1341.4L2159.4 1341.2L2160.4 1343.1L2161.4 1342.6L2162.4 1344.6L2163.4 1344.3L2164.4 1346.2L2165.4 1346.2L2166.4 1348.5L2167.4 1348.5L2168.4 1351.3L2169.4 1351.4L2170.4 1353.4L2171.4 1353.7L2172.4 1356.4L2173.4 1356.2L2174.4 1358L2175.4 1357.8L2176.4 1359.6L2177.4 1358.3L2178.4 1359.5L2179.4 1358.8L2180.4 1360.3L2181.4 1359.6L2182.4 1361L2183.4 1360.1L2184.4 1361.8L2185.4 1361.3L2186.4 1364.2L2187.4 1364.5L2188.4 1366.6L2189.4 1366.5L2190.4 1369.1L2191.4 1369.2L2192.4 1371.6L2193.4 1371.7L2194.4 1373.9L2195.4 1374L2196.4 1375.9L2197.4 1374.5L2198.4 1375.9L2199.4 1374.4L2200.4 1376L2201.4 1374.8L2202.4 1376.5L2203.4 1375.9L2204.4 1377.4L2205.4 1376.2L2206.4 1377.8L2207.4 1376.4L2208.4 1377.9L2209.4 1377.2L2210.4 1379.3L2211.4 1378.2L2212.4 1380.8L2213.4 1379.1L2214.4 1381.5L2215.4 1380.4L2216.4 1382.9L2217.4 1381.8L2218.4 1384.2L2219.4 1383L2220.4 1384.4L2221.4 1383.4L2222.4 1384.7L2223.4 1382.6L2224.4 1385L2225.4 1382L2226.4 1383.6L2227.4 1380.9L2228.4 1383.4L2229.4 1380.9L2230.4 1382.7L2231.4 1379.9L2232.4 1382.3L2233.4 1380.3L2234.4 1383.4L2235.4 1380.4L2236.4 1385.2L2237.4 1382.5L2238.4 1385.2L2239.4 1382.8L2240.4 1386.1L2241.4 1383.2L2242.4 1386.7L2243.4 1384.5L2244.4 1386.6L2245.4 1384.7L2246.4 1388.2L2247.4 1385.8L2248.4 1390.3L2249.4 1387.2L2250.4 1389.1L2251.4 1384.9L2252.4 1387.9L2253.4 1384.5L2254.4 1389.8L2255.4 1386.4L2256.4 1389.2L2257.4 1384.9L2258.4 1388.3L2259.4 1384.1L2260.4 1388.5L2261.4 1383.8L2262.4 1387.8L2263.4 1383.9L2264.4 1389.3L2265.4 1384.5L2266.4 1386.6L2267.4 1383.8L2268.4 1387.3L2269.4 1382.5L2270.4 1386.3L2271.4 1381.5L2272.4 1386.1L2273.4 1383.1L2274.4 1388L2275.4 1382.8L2276.4 1387.9L2277.4 1384.3L2278.4 1387.8L2279.4 1383.6L2280.4 1388.7L2281.4 1385.9L2282.4 1390.1L2283.4 1387.3L2284.4 1391.8L2285.4 1387.3L2286.4 1391L2287.4 1386.4L2288.4 1389.3L2289.4 1385.6L2290.4 1388.4L2291.4 1382.9L2292.4 1386L2293.4 1382.7L2294.4 1384.9L2295.4 1380.9L2296.4 1386L2297.4 1383.1L2298.4 1387L2299.4 1383.6L2300.4 1386.8L2301.4 1383.5L2302.4 1387L2303.4 1382.3L2304.4 1386.5L2305.4 1383.4L2306.4 1386.5L2307.4 1383.6L2308.4 1387.6L2309.4 1384L2310.4 1387.9L2311.4 1384.2L2312.4 1389.9L2313.4 1386.6L2314.4 1390.4L2315.4 1387.6L2316.4 1391.3L2317.4 1388.6L2318.4 1393.3L2319.4 1389.6L2320.4 1395.6L2321.4 1390L2322.4 1393.1L2323.4 1388.7L2324.4 1391.1L2325.4 1386.1L2326.4 1389.4L2327.4 1385L2328.4 1387.1L2329.4 1382.7L2330.4 1387.8L2331.4 1383.8L2332.4 1388.7L2333.4 1385.9L2334.4 1388.5L2335.4 1385.2L2336.4 1389.2L2337.4 1385.2L2338.4 1389.5L2339.4 1384.9L2340.4 1387.6L2341.4 1384.6L2342.4 1388.1L2343.4 1386L2344.4 1388.9L2345.4 1385.9L2346.4 1389L2347.4 1384.9L2348.4 1387.7L2349.4 1384.1L2350.4 1387.1L2351.4 1384.4L2352.4 1387.7L2353.4 1385L2354.4 1388L2355.4 1384L2356.4 1387.9L2357.4 1384.2L2358.4 1387.6L2359.4 1382.6L2360.4 1386.6L2361.4 1382.9L2362.4 1387.1L2363.4 1382.4L2364.4 1384.8L2365.4 1382.4L2366.4 1385.3L2367.4 1382.3L2368.4 1386.6L2369.4 1382.1L2370.4 1386.4L2371.4 1384.1L2372.4 1388.3L2373.4 1383.8L2374.4 1387.7L2375.4 1383.1L2376.4 1386.4L2377.4 1383.1L2378.4 1385.9L2379.4 1381.8L2380.4 1385.6L2381.4 1379.9L2382.4 1383.4L2383.4 1380L2384.4 1383.2L2385.4 1378.3L2386.4 1383L2387.4 1379.8L2388.4 1384.3L2389.4 1380.7L2390.4 1384.2L2391.4 1380L2392.4 1385.2L2393.4 1382.1L2394.4 1385.9L2395.4 1383.3L2396.4 1386.8L2397.4 1382.8L2398.4 1387.1L2399.4 1383L2400.4 1387.1L2401.4 1383.3L2402.4 1387.5L2403.4 1383.6L2404.4 1388.1L2405.4 1384.7L2406.4 1387.4L2407.4 1384.6L2408.4 1387.3L2409.4 1383.5L2410.4 1387.4L2411.4 1383.7L2412.4 1388.8L2413.4 1385.1L2414.4 1389.4L2415.4 1385L2416.4 1388.5L2417.4 1383.9L2418.4 1388.6L2419.4 1386.1L2420 1386.1" fill="none" stroke="#008CAF" stroke-width="12" stroke-linejoin="round" stroke-linecap="butt"/>
<path d="M246 1123.6L246.4 1123.6L247.4 1119.4L248.4 1123.1L249.4 1117.3L250.4 1124.9L251.4 1117.7L252.4 1127.7L253.4 1123.1L254.4 1129.2L255.4 1123.1L256.4 1129.8L257.4 1122.2L258.4 1132L259.4 1125.2L260.4 1130.4L261.4 1124.4L262.4 1130.9L263.4 1124.7L264.4 1134L265.4 1126.2L266.4 1131.9L267.4 1124.9L268.4 1129.7L269.4 1123.2L270.4 1130.7L271.4 1123.1L272.4 1130L273.4 1123L274.4 1128.7L275.4 1122.7L276.4 1129L277.4 1122.2L278.4 1127.6L279.4 1122.4L280.4 1128.3L281.4 1122.5L282.4 1128L283.4 1120.3L284.4 1123.5L285.4 1117.9L286.4 1124.5L287.4 1116.2L288.4 1122.9L289.4 1116.3L290.4 1122.1L291.4 1115.1L292.4 1121L293.4 1113.5L294.4 1118.9L295.4 1111.6L296.4 1118.5L297.4 1114.1L298.4 1117.6L299.4 1109.9L300.4 1113.7L301.4 1108.4L302.4 1114.6L303.4 1108.4L304.4 1112.6L305.4 1107.1L306.4 1112.8L307.4 1109.6L308.4 1116.6L309.4 1111.2L310.4 1119.8L311.4 1115.3L312.4 1123.1L313.4 1119.4L314.4 1123.1L315.4 1118L316.4 1124.3L317.4 1117.1L318.4 1121.6L319.4 1115.2L320.4 1121.1L321.4 1115.4L322.4 1120.4L323.4 1115L324.4 1123.7L325.4 1119L326.4 1123.5L327.4 1117.7L328.4 1123.6L329.4 1119.2L330.4 1125.9L331.4 1122.1L332.4 1126.3L333.4 1122.7L334.4 1126.8L335.4 1119.7L336.4 1125.7L337.4 1120.6L338.4 1129.1L339.4 1122.5L340.4 1128.3L341.4 1122.7L342.4 1127.2L343.4 1122L344.4 1127L345.4 1122.9L346.4 1126.3L347.4 1120.3L348.4 1124.3L349.4 1118.2L350.4 1121.3L351.4 1115.7L352.4 1119.7L353.4 1114.8L354.4 1119.5L355.4 1112.6L356.4 1115.4L357.4 1109.9L358.4 1113.5L359.4 1108.7L360.4 1113.6L361.4 1109.1L362.4 1111.8L363.4 1106.6L364.4 1111.1L365.4 1105L366.4 1110.4L367.4 1107.8L368.4 1112.8L369.4 1108L370.4 1113.8L371.4 1111.3L372.4 1116.6L373.4 1113.6L374.4 1119.3L375.4 1116.7L376.4 1122.6L377.4 1119.6L378.4 1125L379.4 1121.9L380.4 1127.3L381.4 1124.3L382.4 1129.2L383.4 1125.7L384.4 1130.2L385.4 1128.1L386.4 1132.2L387.4 1128L388.4 1131.2L389.4 1126.8L390.4 1130.1L391.4 1126L392.4 1128.4L393.4 1124.3L394.4 1126.9L395.4 1122.8L396.4 1125.2L397.4 1121L398.4 1122.6L399.4 1119.3L400.4 1121.3L401.4 1118.6L402.4 1120.6L403.4 1116.8L404.4 1119.3L405.4 1114.3L406.4 1116.4L407.4 1112.1L408.4 1114.7L409.4 1111.5L410.4 1113.4L411.4 1110.7L412.4 1113.4L413.4 1109.9L414.4 1112.9L415.4 1110.4L416.4 1112.9L417.4 1109.9L418.4 1111.9L419.4 1108.9L420.4 1111.1L421.4 1108.1L422.4 1109.5L423.4 1106.5L424.4 1107.8L425.4 1104.7L426.4 1107.2L427.4 1102.7L428.4 1104.7L429.4 1099.9L430.4 1098.9L431.4 1092.6L432.4 1091.7L433.4 1085L434.4 1084.8L435.4 1079.3L436.4 1079L437.4 1072.5L438.4 1071.1L439.4 1065.3L440.4 1063.9L441.4 1059.6L442.4 1059L443.4 1054L444.4 1054L445.4 1049.5L446.4 1050.8L447.4 1047.8L448.4 1049.4L449.4 1045.5L450.4 1045.5L451.4 1042L452.4 1044.2L453.4 1040.2L454.4 1041.9L455.4 1038.2L456.4 1038.2L457.4 1032.7L458.4 1033.1L459.4 1029.7L460.4 1030.8L461.4 1027.4L462.4 1029.5L463.4 1026.1L464.4 1027.7L465.4 1025.5L466.4 1027.1L467.4 1024.2L468.4 1026.1L469.4 1022.6L470.4 1023.8L471.4 1020.3L472.4 1021.2L473.4 1017.8L474.4 1019.8L475.4 1016.1L476.4 1017.9L477.4 1013.5L478.4 1014.5L479.4 1010.2L480.4 1011.2L481.4 1007.2L482.4 1007.7L483.4 1004.6L484.4 1005.3L485.4 1002.3L486.4 1006.4L487.4 1005.8L488.4 1009.2L489.4 1008.1L490.4 1012.3L491.4 1013.3L492.4 1021.4L493.4 1024.7L494.4 1032.7L495.4 1033.3L496.4 1037.3L497.4 1036.9L498.4 1041.4L499.4 1040.8L500.4 1046.2L501.4 1048.6L502.4 1055L503.4 1057.4L504.4 1061.8L505.4 1060.4L506.4 1063.9L507.4 1061.9L508.4 1066L509.4 1065L510.4 1069L511.4 1067.3L512.4 1071.9L513.4 1070.9L514.4 1075.4L515.4 1073.4L516.4 1077.7L517.4 1075.2L518.4 1077.9L519.4 1076.4L520.4 1081.3L521.4 1083.6L522.4 1089.5L523.4 1091.1L524.4 1098.7L525.4 1100.6L526.4 1108.6L527.4 1110.8L528.4 1114.5L529.4 1113.4L530.4 1116.8L531.4 1115.7L532.4 1118.9L533.4 1117.8L534.4 1121.2L535.4 1119.6L536.4 1122.3L537.4 1120.4L538.4 1123L539.4 1121.3L540.4 1123.3L541.4 1121.9L542.4 1124.5L543.4 1122.4L544.4 1125.4L545.4 1122.6L546.4 1125.4L547.4 1123.4L548.4 1126.2L549.4 1123.5L550.4 1124.7L551.4 1122L552.4 1123.9L553.4 1121.1L554.4 1123.5L555.4 1119.8L556.4 1122L557.4 1119.8L558.4 1122.3L559.4 1119.7L560.4 1120.9L561.4 1118.1L562.4 1120.9L563.4 1118.3L564.4 1120.6L565.4 1117.7L566.4 1120.4L567.4 1117.2L568.4 1118.7L569.4 1115.9L570.4 1117.8L571.4 1116.2L572.4 1118.5L573.4 1116.1L574.4 1117.9L575.4 1115L576.4 1118.9L577.4 1117L578.4 1119.5L579.4 1118.7L580.4 1121.4L581.4 1120.6L582.4 1123.7L583.4 1121.5L584.4 1124.5L585.4 1122.2L586.4 1124.8L587.4 1123.4L588.4 1124.8L589.4 1122.7L590.4 1125L591.4 1122.7L592.4 1124.4L593.4 1121.5L594.4 1122.7L595.4 1118.9L596.4 1119.4L597.4 1116.2L598.4 1118.5L599.4 1115.1L600.4 1116.6L601.4 1113.6L602.4 1114.8L603.4 1111.1L604.4 1112.5L605.4 1109.2L606.4 1109.9L607.4 1106.8L608.4 1109L609.4 1105.1L610.4 1107L611.4 1103.3L612.4 1105.4L613.4 1101.9L614.4 1104.6L615.4 1101L616.4 1102.7L617.4 1100.2L618.4 1101.6L619.4 1095.8L620.4 1092.6L621.4 1089.1L622.4 1090.3L623.4 1087.3L624.4 1088.4L625.4 1084.7L626.4 1085.6L627.4 1081.3L628.4 1082.2L629.4 1077.5L630.4 1078L631.4 1073.3L632.4 1073.8L633.4 1071L634.4 1072.1L635.4 1067.7L636.4 1068.7L637.4 1065.1L638.4 1066L639.4 1063.9L640.4 1066.2L641.4 1063.9L642.4 1065.6L643.4 1063.2L644.4 1067L645.4 1066.9L646.4 1071.7L647.4 1070.2L648.4 1074.9L649.4 1074.3L650.4 1078.3L651.4 1078.3L652.4 1082.6L653.4 1081.1L654.4 1086.2L655.4 1083.7L656.4 1085.9L657.4 1083.5L658.4 1086.8L659.4 1084.1L660.4 1083.6L661.4 1079L662.4 1079.3L663.4 1074.2L664.4 1073.4L665.4 1068.9L666.4 1069.4L667.4 1064.8L668.4 1065.1L669.4 1061.2L670.4 1063.3L671.4 1060.9L672.4 1062.3L673.4 1059.6L674.4 1061.7L675.4 1059.4L676.4 1062.4L677.4 1059.7L678.4 1062.6L679.4 1060.5L680.4 1063.2L681.4 1058.8L682.4 1057.8L683.4 1053L684.4 1053.9L685.4 1050L686.4 1050.7L687.4 1047.5L688.4 1047.6L689.4 1043.5L690.4 1044.2L691.4 1040.9L692.4 1042L693.4 1038L694.4 1039.4L695.4 1035.9L696.4 1037.2L697.4 1034.1L698.4 1035.7L699.4 1032.5L700.4 1034.4L701.4 1032L702.4 1034.2L703.4 1034.7L704.4 1039.1L705.4 1038.7L706.4 1044.4L707.4 1044.5L708.4 1050L709.4 1051.6L710.4 1057.1L711.4 1059L712.4 1063.8L713.4 1064L714.4 1069.3L715.4 1069.5L716.4 1074.4L717.4 1074.7L718.4 1079.4L719.4 1079.8L720.4 1083.9L721.4 1084.5L722.4 1089.3L723.4 1088L724.4 1091.4L725.4 1089.8L726.4 1093L727.4 1091.6L728.4 1095.5L729.4 1094.4L730.4 1098.7L731.4 1097.5L732.4 1101.6L733.4 1100.2L734.4 1104.1L735.4 1103.8L736.4 1107.6L737.4 1106.6L738.4 1109.8L739.4 1107.3L740.4 1110.6L741.4 1108.6L742.4 1111.8L743.4 1110.1L744.4 1113.5L745.4 1111.4L746.4 1114.6L747.4 1113.2L748.4 1116.5L749.4 1114.6L750.4 1117L751.4 1115.9L752.4 1118.9L753.4 1117.7L754.4 1118.7L755.4 1116.6L756.4 1117.1L757.4 1114.5L758.4 1116.2L759.4 1112.7L760.4 1113.6L761.4 1110.9L762.4 1112.2L763.4 1109.9L764.4 1111.9L765.4 1109.9L766.4 1111.1L767.4 1107.8L768.4 1109.4L769.4 1105.9L770.4 1107.1L771.4 1104.1L772.4 1105.7L773.4 1103.4L774.4 1104.1L775.4 1101L776.4 1103.4L777.4 1100.2L778.4 1101.8L779.4 1097.7L780.4 1098.9L781.4 1095.3L782.4 1096.4L783.4 1094.5L784.4 1097.7L785.4 1096.4L786.4 1100.2L787.4 1099.1L788.4 1103.1L789.4 1099.5L790.4 1099.5L791.4 1095.4L792.4 1095.2L793.4 1091.3L794.4 1091.7L795.4 1087.3L796.4 1088.4L797.4 1084.8L798.4 1085.7L799.4 1082L800.4 1084.2L801.4 1081.1L802.4 1083.1L803.4 1080.2L804.4 1081.8L805.4 1079.6L806.4 1080.4L807.4 1076.9L808.4 1077.8L809.4 1074.5L810.4 1076.2L811.4 1073L812.4 1074L813.4 1069.9L814.4 1070.4L815.4 1066.8L816.4 1067.3L817.4 1063.3L818.4 1060.8L819.4 1051.5L820.4 1046L821.4 1036.7L822.4 1032.2L823.4 1023.1L824.4 1018.8L825.4 1010.6L826.4 1006.4L827.4 998.6L828.4 994.4L829.4 985.7L830.4 980.6L831.4 971L832.4 965.6L833.4 958.3L834.4 955L835.4 948L836.4 945.1L837.4 940L838.4 939L839.4 933.4L840.4 931.6L841.4 926.9L842.4 928.2L843.4 925.9L844.4 927.4L845.4 925.9L846.4 927.1L847.4 926L848.4 930.1L849.4 929.5L850.4 933.1L851.4 932.5L852.4 937.5L853.4 937.9L854.4 942.9L855.4 944.1L856.4 949.7L857.4 950.6L858.4 956.4L859.4 958.6L860.4 964.4L861.4 966.7L862.4 973.2L863.4 976.1L864.4 982.4L865.4 984.7L866.4 991.5L867.4 993.8L868.4 1000.2L869.4 1002.4L870.4 1008.6L871.4 1010.7L872.4 1017.6L873.4 1018.8L874.4 1025.1L875.4 1027.1L876.4 1033.4L877.4 1034L878.4 1040.1L879.4 1040.7L880.4 1046.9L881.4 1047.9L882.4 1052.9L883.4 1053.2L884.4 1058.2L885.4 1059.8L886.4 1063.9L887.4 1064.3L888.4 1068.6L889.4 1069.1L890.4 1073.7L891.4 1073.8L892.4 1079L893.4 1079.6L894.4 1084L895.4 1084.3L896.4 1088.8L897.4 1088L898.4 1092.5L899.4 1092.4L900.4 1096.1L901.4 1096.4L902.4 1100.1L903.4 1099.8L904.4 1103.6L905.4 1102.4L906.4 1105.7L907.4 1105.6L908.4 1109.5L909.4 1109.2L910.4 1112.3L911.4 1109.6L912.4 1112.6L913.4 1111.4L914.4 1114L915.4 1113.5L916.4 1116.1L917.4 1115.3L918.4 1117.9L919.4 1115.9L920.4 1119L921.4 1117.6L922.4 1120.7L923.4 1118.8L924.4 1122.2L925.4 1120.3L926.4 1123.1L927.4 1121.9L928.4 1123.4L929.4 1122.3L930.4 1124.3L931.4 1121.7L932.4 1124.2L933.4 1122.3L934.4 1126.1L935.4 1124.3L936.4 1126.5L937.4 1124.4L938.4 1126.3L939.4 1124.8L940.4 1126.9L941.4 1124.5L942.4 1126.8L943.4 1124.8L944.4 1127.7L945.4 1125.4L946.4 1127.5L947.4 1124.8L948.4 1127.5L949.4 1125.4L950.4 1127.6L951.4 1125.8L952.4 1128.5L953.4 1126.7L954.4 1128L955.4 1126L956.4 1127.8L957.4 1125.7L958.4 1128.5L959.4 1126.3L960.4 1128.5L961.4 1126.4L962.4 1128.2L963.4 1125.9L964.4 1128.4L965.4 1127.7L966.4 1129.5L967.4 1127.3L968.4 1129.1L969.4 1127.4L970.4 1129.7L971.4 1127.5L972.4 1129.4L973.4 1126.6L974.4 1129.2L975.4 1127.1L976.4 1128.9L977.4 1127.1L978.4 1128.4L979.4 1127.1L980.4 1128.1L981.4 1126.7L982.4 1128.5L983.4 1126.1L984.4 1127.9L985.4 1126.3L986.4 1127.2L987.4 1125.6L988.4 1127L989.4 1125.4L990.4 1127L991.4 1125.2L992.4 1127.3L993.4 1125.6L994.4 1127.1L995.4 1125.2L996.4 1126.9L997.4 1125L998.4 1126.9L999.4 1126L1000.4 1126.4L1001.4 1125.3L1002.4 1127.1L1003.4 1124.8L1004.4 1126.4L1005.4 1125.2L1006.4 1127.2L1007.4 1124.8L1008.4 1126.7L1009.4 1125.1L1010.4 1126.8L1011.4 1125.6L1012.4 1127.6L1013.4 1125.9L1014.4 1127.6L1015.4 1126.1L1016.4 1127.6L1017.4 1125.7L1018.4 1126.9L1019.4 1125.4L1020.4 1126.7L1021.4 1125.5L1022.4 1127.9L1023.4 1126L1024.4 1127.2L1025.4 1125.6L1026.4 1126.3L1027.4 1124.9L1028.4 1126.6L1029.4 1124.6L1030.4 1125.7L1031.4 1124L1032.4 1126.2L1033.4 1124.2L1034.4 1125.3L1035.4 1123.3L1036.4 1125.5L1037.4 1123.6L1038.4 1125.6L1039.4 1123.8L1040.4 1125.6L1041.4 1123.2L1042.4 1125.5L1043.4 1124.4L1044.4 1125.6L1045.4 1123.7L1046.4 1125.3L1047.4 1123.6L1048.4 1124.4L1049.4 1122.4L1050.4 1123.4L1051.4 1121.6L1052.4 1124L1053.4 1122.4L1054.4 1123.7L1055.4 1121.5L1056.4 1123.8L1057.4 1121.6L1058.4 1123.1L1059.4 1121.2L1060.4 1123.2L1061.4 1121.1L1062.4 1122.7L1063.4 1121.1L1064.4 1123.1L1065.4 1121.1L1066.4 1122.8L1067.4 1120.1L1068.4 1121.9L1069.4 1120.6L1070.4 1122.3L1071.4 1121.1L1072.4 1122.3L1073.4 1120L1074.4 1122.1L1075.4 1119.9L1076.4 1121.9L1077.4 1119.9L1078.4 1121.7L1079.4 1119.5L1080.4 1120.6L1081.4 1119.2L1082.4 1120.8L1083.4 1118.6L1084.4 1120L1085.4 1118L1086.4 1118.9L1087.4 1116.8L1088.4 1119L1089.4 1116.9L1090.4 1118.6L1091.4 1116.9L1092.4 1118.4L1093.4 1116.3L1094.4 1117.9L1095.4 1116.2L1096.4 1117.7L1097.4 1116L1098.4 1117.7L1099.4 1115.8L1100.4 1116.9L1101.4 1114.9L1102.4 1116.8L1103.4 1115.3L1104.4 1116.8L1105.4 1114.7L1106.4 1116.1L1107.4 1114.5L1108.4 1115.9L1109.4 1114.4L1110.4 1115.4L1111.4 1113.2L1112.4 1114.9L1113.4 1113.2L1114.4 1114.5L1115.4 1112.4L1116.4 1113.8L1117.4 1112.2L1118.4 1114L1119.4 1111.4L1120.4 1112.7L1121.4 1110.9L1122.4 1112.7L1123.4 1110.2L1124.4 1112L1125.4 1109.4L1126.4 1111.2L1127.4 1109.6L1128.4 1111.6L1129.4 1109.4L1130.4 1111.3L1131.4 1109.5L1132.4 1111.3L1133.4 1109.7L1134.4 1111.3L1135.4 1109.7L1136.4 1111.2L1137.4 1108.9L1138.4 1110.5L1139.4 1108.5L1140.4 1109.9L1141.4 1108L1142.4 1109.9L1143.4 1107.8L1144.4 1109.4L1145.4 1107.8L1146.4 1109.6L1147.4 1107.5L1148.4 1109.5L1149.4 1107.2L1150.4 1109.1L1151.4 1107.6L1152.4 1109.4L1153.4 1108.2L1154.4 1108.9L1155.4 1106.9L1156.4 1108.4L1157.4 1106.8L1158.4 1107.8L1159.4 1105.9L1160.4 1107.8L1161.4 1106.1L1162.4 1107.5L1163.4 1105.2L1164.4 1107.5L1165.4 1105.5L1166.4 1107.1L1167.4 1105.4L1168.4 1107.1L1169.4 1105.4L1170.4 1106.8L1171.4 1105.1L1172.4 1106.3L1173.4 1104.6L1174.4 1106.5L1175.4 1104.4L1176.4 1106.3L1177.4 1104.3L1178.4 1106.1L1179.4 1104.3L1180.4 1106.3L1181.4 1104.9L1182.4 1106.8L1183.4 1105.1L1184.4 1106.4L1185.4 1105.1L1186.4 1106.8L1187.4 1105.3L1188.4 1107.7L1189.4 1105.7L1190.4 1107.6L1191.4 1105L1192.4 1106.3L1193.4 1105.3L1194.4 1106.8L1195.4 1105.4L1196.4 1106.9L1197.4 1104.9L1198.4 1107.2L1199.4 1104.9L1200.4 1107.2L1201.4 1105.4L1202.4 1107L1203.4 1105.5L1204.4 1107.3L1205.4 1106.2L1206.4 1107.4L1207.4 1105.9L1208.4 1108.2L1209.4 1107.4L1210.4 1109.1L1211.4 1107.8L1212.4 1109.4L1213.4 1107.4L1214.4 1109.6L1215.4 1108.2L1216.4 1109.3L1217.4 1107.6L1218.4 1110.1L1219.4 1108.6L1220.4 1110.4L1221.4 1108.6L1222.4 1110.6L1223.4 1109L1224.4 1111.1L1225.4 1109.7L1226.4 1111.3L1227.4 1109.5L1228.4 1111.1L1229.4 1109.8L1230.4 1111.3L1231.4 1110.3L1232.4 1112.5L1233.4 1110.7L1234.4 1112.2L1235.4 1110.6L1236.4 1112.4L1237.4 1110.9L1238.4 1112.4L1239.4 1111.1L1240.4 1113.1L1241.4 1111.5L1242.4 1112.9L1243.4 1111L1244.4 1112.5L1245.4 1111.8L1246.4 1113.4L1247.4 1112.7L1248.4 1114L1249.4 1112.2L1250.4 1113.6L1251.4 1112.5L1252.4 1114.4L1253.4 1113L1254.4 1115L1255.4 1113.1L1256.4 1115.6L1257.4 1113.9L1258.4 1115.8L1259.4 1113.5L1260.4 1115.3L1261.4 1114L1262.4 1116.1L1263.4 1114.2L1264.4 1116L1265.4 1114.7L1266.4 1116.2L1267.4 1114.2L1268.4 1116.6L1269.4 1114.7L1270.4 1115.9L1271.4 1114.5L1272.4 1116.4L1273.4 1115.1L1274.4 1116.8L1275.4 1115.2L1276.4 1117.5L1277.4 1115.7L1278.4 1117.2L1279.4 1115.5L1280.4 1117.1L1281.4 1115.2L1282.4 1116.8L1283.4 1114.9L1284.4 1116.7L1285.4 1115L1286.4 1116.6L1287.4 1115.3L1288.4 1117.1L1289.4 1115.4L1290.4 1117L1291.4 1115.5L1292.4 1117.6L1293.4 1116.3L1294.4 1117.8L1295.4 1115.6L1296.4 1117.7L1297.4 1115.5L1298.4 1116.9L1299.4 1114.6L1300.4 1116.4L1301.4 1114.7L1302.4 1116.3L1303.4 1113.8L1304.4 1115.7L1305.4 1114.3L1306.4 1116.1L1307.4 1114.5L1308.4 1116.9L1309.4 1115.7L1310.4 1117.7L1311.4 1116L1312.4 1118.3L1313.4 1116.9L1314.4 1118.4L1315.4 1116.2L1316.4 1118.4L1317.4 1117.2L1318.4 1118.5L1319.4 1115.7L1320.4 1116.4L1321.4 1114L1322.4 1115.3L1323.4 1113.2L1324.4 1114.1L1325.4 1111.6L1326.4 1114.5L1327.4 1113.7L1328.4 1115.5L1329.4 1114.4L1330.4 1117.2L1331.4 1116.1L1332.4 1118.8L1333.4 1117.6L1334.4 1119.8L1335.4 1118.8L1336.4 1121.1L1337.4 1119.5L1338.4 1121.3L1339.4 1119.6L1340.4 1121.2L1341.4 1119.3L1342.4 1121.4L1343.4 1120.1L1344.4 1122.1L1345.4 1120.3L1346.4 1122.2L1347.4 1120.4L1348.4 1122.6L1349.4 1120.8L1350.4 1122.8L1351.4 1121L1352.4 1123.4L1353.4 1121L1354.4 1123.1L1355.4 1121.3L1356.4 1122.7L1357.4 1121.4L1358.4 1123.1L1359.4 1121.6L1360.4 1122.9L1361.4 1121.7L1362.4 1123.6L1363.4 1122.4L1364.4 1124.4L1365.4 1123L1366.4 1124.9L1367.4 1124.1L1368.4 1125.3L1369.4 1123.8L1370.4 1125.1L1371.4 1123.5L1372.4 1124.8L1373.4 1123.3L1374.4 1124.7L1375.4 1122.8L1376.4 1124.7L1377.4 1122.7L1378.4 1123.9L1379.4 1122.4L1380.4 1125.1L1381.4 1122.9L1382.4 1124.7L1383.4 1123.1L1384.4 1125.3L1385.4 1123.9L1386.4 1125.8L1387.4 1123.8L1388.4 1125.3L1389.4 1123.3L1390.4 1125.6L1391.4 1123.7L1392.4 1125.6L1393.4 1123.8L1394.4 1125.5L1395.4 1123.7L1396.4 1125.4L1397.4 1122.9L1398.4 1125L1399.4 1123.4L1400.4 1125.2L1401.4 1122.9L1402.4 1124.9L1403.4 1123.2L1404.4 1125.1L1405.4 1123.2L1406.4 1124.8L1407.4 1122.9L1408.4 1125.1L1409.4 1123.1L1410.4 1125.6L1411.4 1123.8L1412.4 1125.9L1413.4 1123.6L1414.4 1124.8L1415.4 1123.7L1416.4 1125.3L1417.4 1123.9L1418.4 1125.5L1419.4 1124L1420.4 1125.6L1421.4 1124.4L1422.4 1125.8L1423.4 1124.3L1424.4 1125.8L1425.4 1124.4L1426.4 1126.4L1427.4 1124.5L1428.4 1126.1L1429.4 1123.8L1430.4 1125L1431.4 1123.2L1432.4 1124.9L1433.4 1123.4L1434.4 1125.8L1435.4 1124.4L1436.4 1126.4L1437.4 1124.7L1438.4 1126.6L1439.4 1124.4L1440.4 1126.6L1441.4 1124.9L1442.4 1126.8L1443.4 1125.4L1444.4 1127.5L1445.4 1125L1446.4 1126.4L1447.4 1124.8L1448.4 1127L1449.4 1125.1L1450.4 1127.1L1451.4 1125.2L1452.4 1126.2L1453.4 1124.3L1454.4 1125.8L1455.4 1124.4L1456.4 1126.4L1457.4 1124.6L1458.4 1126L1459.4 1124.3L1460.4 1125.9L1461.4 1124.9L1462.4 1126.4L1463.4 1125.4L1464.4 1126.5L1465.4 1125L1466.4 1126.7L1467.4 1125.3L1468.4 1126.4L1469.4 1124.5L1470.4 1126.9L1471.4 1124.8L1472.4 1126.3L1473.4 1125.2L1474.4 1126.9L1475.4 1125.2L1476.4 1127.3L1477.4 1125.9L1478.4 1127.9L1479.4 1125.7L1480.4 1127.4L1481.4 1125.1L1482.4 1126.7L1483.4 1124.7L1484.4 1126.7L1485.4 1125.1L1486.4 1126.9L1487.4 1125.3L1488.4 1126.4L1489.4 1124.8L1490.4 1127.1L1491.4 1125.7L1492.4 1127.5L1493.4 1126L1494.4 1127.8L1495.4 1125.9L1496.4 1127.2L1497.4 1125.9L1498.4 1128.2L1499.4 1126.5L1500.4 1128L1501.4 1126L1502.4 1127.5L1503.4 1125.8L1504.4 1127.9L1505.4 1125.9L1506.4 1128.1L1507.4 1126.5L1508.4 1128L1509.4 1126.2L1510.4 1127.9L1511.4 1126.4L1512.4 1128.5L1513.4 1126.7L1514.4 1128.3L1515.4 1126.8L1516.4 1128.1L1517.4 1126.6L1518.4 1128.1L1519.4 1126.2L1520.4 1127.9L1521.4 1126.2L1522.4 1127.6L1523.4 1125.8L1524.4 1127.4L1525.4 1125.8L1526.4 1127.3L1527.4 1126.1L1528.4 1127.7L1529.4 1126L1530.4 1128.2L1531.4 1126.5L1532.4 1127.9L1533.4 1126.6L1534.4 1127.9L1535.4 1126.1L1536.4 1127.6L1537.4 1125.8L1538.4 1128.1L1539.4 1126.9L1540.4 1128.1L1541.4 1126.5L1542.4 1128.1L1543.4 1126L1544.4 1127.8L1545.4 1125.8L1546.4 1127.9L1547.4 1126.5L1548.4 1128.2L1549.4 1126.5L1550.4 1128.1L1551.4 1126.4L1552.4 1127.8L1553.4 1126L1554.4 1128.7L1555.4 1126.7L1556.4 1128.6L1557.4 1126.7L1558.4 1128.2L1559.4 1126.3L1560.4 1127.8L1561.4 1126.4L1562.4 1127.8L1563.4 1126.7L1564.4 1128.8L1565.4 1126.8L1566.4 1128.3L1567.4 1126.8L1568.4 1128.2L1569.4 1126.6L1570.4 1127.9L1571.4 1126.3L1572.4 1127.9L1573.4 1126.1L1574.4 1127.3L1575.4 1125.8L1576.4 1127.2L1577.4 1125.5L1578.4 1127.2L1579.4 1124.7L1580.4 1126.3L1581.4 1124.3L1582.4 1126.2L1583.4 1124.3L1584.4 1126L1585.4 1124.4L1586.4 1125.6L1587.4 1123.9L1588.4 1125.4L1589.4 1123.5L1590.4 1125.4L1591.4 1123.5L1592.4 1124.7L1593.4 1122.9L1594.4 1123.9L1595.4 1122.3L1596.4 1123.5L1597.4 1121.3L1598.4 1122.1L1599.4 1119.8L1600.4 1121.2L1601.4 1120.1L1602.4 1121.3L1603.4 1119.1L1604.4 1120.7L1605.4 1118.5L1606.4 1120L1607.4 1118.5L1608.4 1119.4L1609.4 1117.4L1610.4 1118.7L1611.4 1117.2L1612.4 1118.1L1613.4 1116.6L1614.4 1118.2L1615.4 1116.4L1616.4 1117.4L1617.4 1114.9L1618.4 1116.3L1619.4 1114.8L1620.4 1116.3L1621.4 1114.1L1622.4 1115.3L1623.4 1113.5L1624.4 1115.4L1625.4 1112.7L1626.4 1114L1627.4 1111.8L1628.4 1112.5L1629.4 1110.5L1630.4 1111.2L1631.4 1109.1L1632.4 1110.2L1633.4 1108L1634.4 1108.7L1635.4 1106L1636.4 1107L1637.4 1104.9L1638.4 1106L1639.4 1103.6L1640.4 1104L1641.4 1101.8L1642.4 1102.4L1643.4 1100.1L1644.4 1100.3L1645.4 1097.9L1646.4 1099.1L1647.4 1096.2L1648.4 1096.5L1649.4 1094.3L1650.4 1095.3L1651.4 1093L1652.4 1094L1653.4 1091.3L1654.4 1092.2L1655.4 1089.7L1656.4 1090.9L1657.4 1088.4L1658.4 1089.2L1659.4 1087L1660.4 1087.7L1661.4 1086.1L1662.4 1087.1L1663.4 1085.2L1664.4 1085.9L1665.4 1084L1666.4 1085.4L1667.4 1083.8L1668.4 1084.7L1669.4 1083.2L1670.4 1084.2L1671.4 1081.7L1672.4 1082.9L1673.4 1079.9L1674.4 1080.2L1675.4 1077.2L1676.4 1078L1677.4 1075.4L1678.4 1075.8L1679.4 1072.8L1680.4 1072.6L1681.4 1067.8L1682.4 1065.7L1683.4 1060.5L1684.4 1058.1L1685.4 1053L1686.4 1050.8L1687.4 1049.1L1688.4 1050.6L1689.4 1048.3L1690.4 1049.8L1691.4 1048L1692.4 1050.1L1693.4 1048.6L1694.4 1049.8L1695.4 1048.1L1696.4 1049.4L1697.4 1047.3L1698.4 1048.5L1699.4 1046.5L1700.4 1047.9L1701.4 1046.3L1702.4 1047.5L1703.4 1044.2L1704.4 1044.4L1705.4 1041.2L1706.4 1040.8L1707.4 1037.4L1708.4 1037.4L1709.4 1034.6L1710.4 1034.9L1711.4 1032.1L1712.4 1032.5L1713.4 1030L1714.4 1030.1L1715.4 1030L1716.4 1034.3L1717.4 1034.2L1718.4 1037.6L1719.4 1037.7L1720.4 1040.9L1721.4 1040.6L1722.4 1044.4L1723.4 1043.3L1724.4 1046.9L1725.4 1047.3L1726.4 1051.2L1727.4 1050L1728.4 1053.1L1729.4 1052.1L1730.4 1054.8L1731.4 1054.1L1732.4 1056.7L1733.4 1055.5L1734.4 1056.3L1735.4 1053.9L1736.4 1054.8L1737.4 1052L1738.4 1053.5L1739.4 1051.1L1740.4 1052.3L1741.4 1049.8L1742.4 1050.2L1743.4 1046.9L1744.4 1048L1745.4 1045L1746.4 1045.4L1747.4 1042.8L1748.4 1043.6L1749.4 1040.1L1750.4 1040.8L1751.4 1037.3L1752.4 1037.6L1753.4 1034.2L1754.4 1034.5L1755.4 1031.7L1756.4 1032.1L1757.4 1029.3L1758.4 1030.4L1759.4 1026.4L1760.4 1026.3L1761.4 1022.8L1762.4 1023.4L1763.4 1019.5L1764.4 1019.6L1765.4 1015.3L1766.4 1016.5L1767.4 1012.5L1768.4 1012.4L1769.4 1008.7L1770.4 1008.5L1771.4 1004.5L1772.4 1004.8L1773.4 1001.2L1774.4 1002.1L1775.4 998.2L1776.4 998.2L1777.4 994.6L1778.4 995.1L1779.4 990.8L1780.4 990.7L1781.4 986.7L1782.4 986L1783.4 981L1784.4 980.8L1785.4 977.3L1786.4 976.7L1787.4 972.8L1788.4 972L1789.4 967.2L1790.4 966.5L1791.4 962.4L1792.4 961.6L1793.4 957.5L1794.4 956.3L1795.4 952L1796.4 952L1797.4 947.4L1798.4 946.5L1799.4 942.1L1800.4 941L1801.4 936.2L1802.4 935.9L1803.4 930.5L1804.4 929.4L1805.4 924.3L1806.4 924.2L1807.4 919L1808.4 918.9L1809.4 914.1L1810.4 913.1L1811.4 908.7L1812.4 907L1813.4 901.7L1814.4 900.4L1815.4 894.9L1816.4 894.1L1817.4 888.5L1818.4 887.6L1819.4 882.5L1820.4 881.7L1821.4 876.4L1822.4 874.7L1823.4 869.8L1824.4 869.3L1825.4 863.9L1826.4 862.7L1827.4 857.5L1828.4 856.6L1829.4 851.5L1830.4 850.8L1831.4 846.2L1832.4 846L1833.4 841.6L1834.4 841.4L1835.4 836.1L1836.4 835.3L1837.4 830.2L1838.4 829.9L1839.4 825.8L1840.4 825.3L1841.4 820.8L1842.4 821.1L1843.4 816.3L1844.4 816.2L1845.4 811.9L1846.4 810.6L1847.4 806.6L1848.4 805.9L1849.4 800.1L1850.4 798.3L1851.4 792.8L1852.4 790L1853.4 784.3L1854.4 783L1855.4 778L1856.4 776.2L1857.4 770.8L1858.4 769.4L1859.4 762.9L1860.4 760.5L1861.4 753.5L1862.4 750.9L1863.4 745L1864.4 743.3L1865.4 737.1L1866.4 736.2L1867.4 731L1868.4 730.5L1869.4 725.3L1870.4 724.7L1871.4 719.5L1872.4 718.2L1873.4 712.7L1874.4 711.3L1875.4 705.9L1876.4 705.5L1877.4 700.6L1878.4 699.5L1879.4 695L1880.4 694.3L1881.4 689.9L1882.4 688.4L1883.4 683.5L1884.4 683.3L1885.4 678.4L1886.4 676.5L1887.4 671.8L1888.4 670.7L1889.4 665.5L1890.4 665.3L1891.4 660.1L1892.4 660L1893.4 655.9L1894.4 655.9L1895.4 652L1896.4 652.7L1897.4 649.1L1898.4 649.3L1899.4 645.8L1900.4 646.1L1901.4 641.7L1902.4 641.2L1903.4 637.8L1904.4 638.1L1905.4 633.8L1906.4 633L1907.4 628L1908.4 625.1L1909.4 615L1910.4 612.1L1911.4 607.9L1912.4 608.5L1913.4 605.3L1914.4 606.8L1915.4 603.9L1916.4 604.5L1917.4 601.4L1918.4 602.4L1919.4 599.3L1920.4 599.9L1921.4 596.6L1922.4 597.8L1923.4 595.4L1924.4 596.8L1925.4 594.1L1926.4 595.1L1927.4 592.4L1928.4 593.2L1929.4 590.1L1930.4 591.8L1931.4 589L1932.4 590.3L1933.4 587.7L1934.4 589.3L1935.4 587L1936.4 589.1L1937.4 586.3L1938.4 587.2L1939.4 584.1L1940.4 586.1L1941.4 583.4L1942.4 584.7L1943.4 582.3L1944.4 584.6L1945.4 582.4L1946.4 583.6L1947.4 581.7L1948.4 584L1949.4 581.5L1950.4 583L1951.4 579.4L1952.4 581L1953.4 578.9L1954.4 581.3L1955.4 579.1L1956.4 580.5L1957.4 578.1L1958.4 579.9L1959.4 577.8L1960.4 578.7L1961.4 575.5L1962.4 576.7L1963.4 573L1964.4 574.3L1965.4 570.6L1966.4 571.8L1967.4 568.6L1968.4 569.2L1969.4 567.5L1970.4 570L1971.4 568.5L1972.4 570.5L1973.4 568.9L1974.4 570.9L1975.4 569.9L1976.4 572.3L1977.4 569.5L1978.4 570.8L1979.4 567.4L1980.4 568.2L1981.4 565.2L1982.4 567L1983.4 563.3L1984.4 564.3L1985.4 561.9L1986.4 563.6L1987.4 561.2L1988.4 563L1989.4 561.2L1990.4 562.3L1991.4 559.9L1992.4 563L1993.4 562.6L1994.4 565.2L1995.4 564.6L1996.4 567.4L1997.4 567L1998.4 569.6L1999.4 567.4L2000.4 570.3L2001.4 568.8L2002.4 571.4L2003.4 570L2004.4 572.5L2005.4 571.1L2006.4 573.2L2007.4 572.6L2008.4 576.2L2009.4 575.3L2010.4 578.4L2011.4 577.8L2012.4 582.1L2013.4 581.6L2014.4 585.5L2015.4 584.4L2016.4 587.3L2017.4 586.2L2018.4 589.5L2019.4 589.2L2020.4 592.2L2021.4 591.4L2022.4 595.1L2023.4 595.2L2024.4 599.9L2025.4 600.5L2026.4 605L2027.4 604.7L2028.4 609.5L2029.4 609.2L2030.4 612.8L2031.4 612.4L2032.4 615.5L2033.4 615.6L2034.4 619.1L2035.4 619.1L2036.4 624L2037.4 624.5L2038.4 629.2L2039.4 630.1L2040.4 635.7L2041.4 636.7L2042.4 641.2L2043.4 642L2044.4 646.7L2045.4 647.8L2046.4 652.5L2047.4 653L2048.4 657.9L2049.4 659.3L2050.4 663.2L2051.4 662.9L2052.4 667.8L2053.4 668.3L2054.4 672.5L2055.4 673.2L2056.4 678L2057.4 678.8L2058.4 683.6L2059.4 683.8L2060.4 687.9L2061.4 687.3L2062.4 691L2063.4 690.8L2064.4 694.3L2065.4 696.1L2066.4 702.5L2067.4 704.8L2068.4 710.5L2069.4 709.8L2070.4 711.9L2071.4 711.1L2072.4 714.3L2073.4 713.3L2074.4 716.7L2075.4 718.8L2076.4 724.8L2077.4 727.1L2078.4 731.5L2079.4 731.7L2080.4 735.9L2081.4 736.3L2082.4 740.3L2083.4 740.7L2084.4 744.6L2085.4 745.5L2086.4 750L2087.4 751L2088.4 755.5L2089.4 756.3L2090.4 759.9L2091.4 760.8L2092.4 766L2093.4 766.1L2094.4 770.3L2095.4 770.6L2096.4 775.7L2097.4 776.6L2098.4 781.2L2099.4 782.8L2100.4 787.9L2101.4 788.4L2102.4 794L2103.4 794.5L2104.4 799.1L2105.4 799.6L2106.4 804.7L2107.4 805.8L2108.4 811L2109.4 812L2110.4 816.8L2111.4 817.3L2112.4 822.7L2113.4 825L2114.4 831.4L2115.4 833.6L2116.4 839.1L2117.4 840.8L2118.4 845.7L2119.4 846.2L2120.4 850.9L2121.4 851.4L2122.4 855.8L2123.4 856L2124.4 861.4L2125.4 861.7L2126.4 866.6L2127.4 867.2L2128.4 872L2129.4 872.3L2130.4 878.1L2131.4 878.4L2132.4 884.2L2133.4 885.1L2134.4 891.1L2135.4 890.9L2136.4 895.6L2137.4 896L2138.4 900.9L2139.4 901.3L2140.4 906.5L2141.4 906.5L2142.4 910.8L2143.4 910.8L2144.4 915.6L2145.4 915.7L2146.4 920.3L2147.4 921.3L2148.4 927.2L2149.4 927.3L2150.4 932.3L2151.4 932.2L2152.4 935.9L2153.4 935.5L2154.4 939.6L2155.4 939.8L2156.4 943.7L2157.4 944.4L2158.4 948.1L2159.4 948.4L2160.4 953.7L2161.4 954L2162.4 959.5L2163.4 960.4L2164.4 963.6L2165.4 963.5L2166.4 967.5L2167.4 967.4L2168.4 971.3L2169.4 973L2170.4 978.9L2171.4 980.5L2172.4 986.7L2173.4 986.9L2174.4 991L2175.4 990.7L2176.4 994.1L2177.4 994.3L2178.4 998L2179.4 997.8L2180.4 1001.7L2181.4 1002L2182.4 1006.3L2183.4 1007.6L2184.4 1011.4L2185.4 1011.6L2186.4 1015.6L2187.4 1015.9L2188.4 1021.2L2189.4 1022.2L2190.4 1028.2L2191.4 1029.4L2192.4 1034.8L2193.4 1036.3L2194.4 1041L2195.4 1041.9L2196.4 1047.3L2197.4 1048.4L2198.4 1053.4L2199.4 1054.1L2200.4 1058.8L2201.4 1059.4L2202.4 1064L2203.4 1064.1L2204.4 1068.7L2205.4 1068L2206.4 1072.1L2207.4 1070.4L2208.4 1074.7L2209.4 1073.6L2210.4 1078.1L2211.4 1076.9L2212.4 1081.3L2213.4 1079.9L2214.4 1084.9L2215.4 1085L2216.4 1089.8L2217.4 1088.5L2218.4 1093.3L2219.4 1091.3L2220.4 1094.8L2221.4 1093.3L2222.4 1097L2223.4 1093.7L2224.4 1097.5L2225.4 1094.6L2226.4 1099L2227.4 1096.3L2228.4 1101.3L2229.4 1100L2230.4 1103.3L2231.4 1101L2232.4 1104.3L2233.4 1101.9L2234.4 1105.1L2235.4 1102.4L2236.4 1105.9L2237.4 1102.1L2238.4 1105.4L2239.4 1101.7L2240.4 1106.9L2241.4 1103.3L2242.4 1107.6L2243.4 1104L2244.4 1109.5L2245.4 1106L2246.4 1110L2247.4 1107.4L2248.4 1109.3L2249.4 1106.1L2250.4 1109.9L2251.4 1105.5L2252.4 1111.3L2253.4 1108.1L2254.4 1113.2L2255.4 1110L2256.4 1114.1L2257.4 1110.2L2258.4 1115.2L2259.4 1111.8L2260.4 1117.3L2261.4 1112L2262.4 1117.2L2263.4 1114.1L2264.4 1118.2L2265.4 1113.9L2266.4 1119.5L2267.4 1116.8L2268.4 1120L2269.4 1115.1L2270.4 1118.3L2271.4 1113.4L2272.4 1117.6L2273.4 1115L2274.4 1118.6L2275.4 1114.7L2276.4 1117.5L2277.4 1113.3L2278.4 1117.4L2279.4 1114.4L2280.4 1118.4L2281.4 1114L2282.4 1118.7L2283.4 1114.9L2284.4 1121.2L2285.4 1118.9L2286.4 1124.6L2287.4 1120.6L2288.4 1126.3L2289.4 1120.5L2290.4 1124.6L2291.4 1118.2L2292.4 1123.5L2293.4 1119L2294.4 1122.3L2295.4 1116.9L2296.4 1122.9L2297.4 1117.1L2298.4 1123.6L2299.4 1118.2L2300.4 1122.2L2301.4 1118.4L2302.4 1122.8L2303.4 1119.1L2304.4 1122.5L2305.4 1118.6L2306.4 1123L2307.4 1119.1L2308.4 1124.9L2309.4 1119.7L2310.4 1122.6L2311.4 1116.5L2312.4 1120L2313.4 1116.3L2314.4 1120.2L2315.4 1115.3L2316.4 1119.5L2317.4 1116.5L2318.4 1119.8L2319.4 1115.7L2320.4 1120.1L2321.4 1117.3L2322.4 1122.8L2323.4 1119.5L2324.4 1124L2325.4 1119.5L2326.4 1125L2327.4 1121.3L2328.4 1124.9L2329.4 1121.4L2330.4 1126L2331.4 1122.8L2332.4 1127.1L2333.4 1125.4L2334.4 1131L2335.4 1125.9L2336.4 1129.4L2337.4 1124.4L2338.4 1129.1L2339.4 1125.9L2340.4 1129.4L2341.4 1124.6L2342.4 1129.9L2343.4 1124.5L2344.4 1127.9L2345.4 1123.7L2346.4 1127.3L2347.4 1122.7L2348.4 1128.7L2349.4 1122.3L2350.4 1127.5L2351.4 1121.9L2352.4 1128.5L2353.4 1123.9L2354.4 1129.4L2355.4 1124.5L2356.4 1130.2L2357.4 1124.8L2358.4 1129.4L2359.4 1125.8L2360.4 1129.9L2361.4 1124.7L2362.4 1130.9L2363.4 1126.5L2364.4 1130.5L2365.4 1125.5L2366.4 1129.6L2367.4 1123.7L2368.4 1128.6L2369.4 1124.2L2370.4 1127.7L2371.4 1122.7L2372.4 1125.9L2373.4 1121.4L2374.4 1125.7L2375.4 1122L2376.4 1127.6L2377.4 1123.9L2378.4 1126.9L2379.4 1125.5L2380.4 1129L2381.4 1124.6L2382.4 1130L2383.4 1125L2384.4 1128.8L2385.4 1124.8L2386.4 1129.3L2387.4 1122.9L2388.4 1126.6L2389.4 1121.3L2390.4 1126.6L2391.4 1120.7L2392.4 1123.2L2393.4 1119.9L2394.4 1125L2395.4 1120.3L2396.4 1124.8L2397.4 1120.5L2398.4 1126.4L2399.4 1123.5L2400.4 1126.4L2401.4 1123.2L2402.4 1126.4L2403.4 1124.1L2404.4 1128.9L2405.4 1123.6L2406.4 1128L2407.4 1123.7L2408.4 1125.9L2409.4 1121.9L2410.4 1127L2411.4 1121.6L2412.4 1124.7L2413.4 1119.3L2414.4 1124.2L2415.4 1119.7L2416.4 1124.8L2417.4 1120L2418.4 1126.4L2419.4 1120.8L2420 1120.8" fill="none" stroke="#FA48FF" stroke-width="12" stroke-linejoin="round" stroke-linecap="butt"/>
<path d="M246 961.6L246.4 961.6L247.4 956.1L248.4 962L249.4 956.4L250.4 960.6L251.4 954.8L252.4 958.8L253.4 954L254.4 959.4L255.4 954.1L256.4 957.6L257.4 952.7L258.4 958.3L259.4 954.2L260.4 960.1L261.4 955L262.4 958.5L263.4 953.1L264.4 958.3L265.4 953.4L266.4 958.1L267.4 952.8L268.4 959.6L269.4 955.9L270.4 962.7L271.4 959.7L272.4 966.3L273.4 962.3L274.4 967.3L275.4 963.1L276.4 967.5L277.4 963L278.4 967.3L279.4 960.7L280.4 964.5L281.4 959.8L282.4 964.7L283.4 958.9L284.4 963.1L285.4 957.9L286.4 960.7L287.4 956L288.4 961L289.4 956.3L290.4 959.1L291.4 955.5L292.4 961.4L293.4 956L294.4 961.5L295.4 955.3L296.4 961.1L297.4 955L298.4 959.4L299.4 953.6L300.4 958.3L301.4 953.5L302.4 958.1L303.4 954.2L304.4 959.2L305.4 955.1L306.4 959.4L307.4 956.4L308.4 960.9L309.4 958L310.4 963.1L311.4 958.9L312.4 963.8L313.4 958.9L314.4 962.9L315.4 957.7L316.4 963.8L317.4 960.5L318.4 964.2L319.4 958.9L320.4 963.6L321.4 960.2L322.4 964.9L323.4 962.4L324.4 965.2L325.4 960.4L326.4 964.1L327.4 959.9L328.4 964.4L329.4 957.8L330.4 963.4L331.4 959.5L332.4 965L333.4 961.5L334.4 967.1L335.4 961.8L336.4 968.6L337.4 963.7L338.4 967.7L339.4 964.1L340.4 966.7L341.4 961.4L342.4 965L343.4 961.9L344.4 966.5L345.4 961.6L346.4 965.3L347.4 960.9L348.4 964.3L349.4 959.9L350.4 962.9L351.4 959.1L352.4 962L353.4 956.6L354.4 960L355.4 955.6L356.4 959.7L357.4 953.9L358.4 956.9L359.4 952.9L360.4 956.7L361.4 952.2L362.4 955.6L363.4 951.7L364.4 954.1L365.4 951.2L366.4 955.3L367.4 951.1L368.4 955.3L369.4 952L370.4 956.8L371.4 953.3L372.4 957.4L373.4 954.2L374.4 958.9L375.4 956.8L376.4 960.9L377.4 957.1L378.4 961.3L379.4 958.3L380.4 963.6L381.4 960.5L382.4 964.5L383.4 959.9L384.4 963.1L385.4 959.9L386.4 964L387.4 960.6L388.4 963.4L389.4 960.7L390.4 964.5L391.4 961.1L392.4 965.4L393.4 961.9L394.4 965.5L395.4 960.9L396.4 963.8L397.4 959.3L398.4 961.3L399.4 957.1L400.4 959.7L401.4 955.7L402.4 959.3L403.4 954.5L404.4 956.9L405.4 953.2L406.4 955.3L407.4 952.2L408.4 954.3L409.4 950.7L410.4 954.1L411.4 949.4L412.4 952.4L413.4 948.7L414.4 951.4L415.4 948.4L416.4 952L417.4 948L418.4 951L419.4 948.1L420.4 950.2L421.4 946.8L422.4 949.4L423.4 945.2L424.4 947.3L425.4 944.7L426.4 946.7L427.4 942.8L428.4 945.5L429.4 942.1L430.4 943.3L431.4 939.3L432.4 941.2L433.4 934.8L434.4 933.6L435.4 927.2L436.4 927.2L437.4 922.2L438.4 923.9L439.4 918.6L440.4 919.7L441.4 915.1L442.4 917.5L443.4 914.1L444.4 916.3L445.4 911.6L446.4 912.9L447.4 910.5L448.4 912.8L449.4 908.9L450.4 911L451.4 907.1L452.4 910.6L453.4 906.5L454.4 908.3L455.4 904.8L456.4 906.6L457.4 902.5L458.4 903.6L459.4 900.2L460.4 902.6L461.4 900.2L462.4 903.2L463.4 900.2L464.4 903.2L465.4 900.5L466.4 903.1L467.4 901L468.4 903.3L469.4 900L470.4 903.2L471.4 900.8L472.4 904.8L473.4 901.1L474.4 904L475.4 900.9L476.4 903.2L477.4 898.8L478.4 902.1L479.4 897.9L480.4 900.5L481.4 896.6L482.4 897.7L483.4 894.1L484.4 896.8L485.4 894L486.4 897.2L487.4 895.4L488.4 898.1L489.4 896L490.4 898.1L491.4 895.6L492.4 901L493.4 900.4L494.4 906.3L495.4 905.3L496.4 910.6L497.4 909.9L498.4 914.7L499.4 913.6L500.4 918.6L501.4 917.2L502.4 921.4L503.4 920.9L504.4 924.7L505.4 923.5L506.4 927.3L507.4 924.9L508.4 929.1L509.4 927.7L510.4 931.2L511.4 929.7L512.4 931L513.4 928.4L514.4 930.9L515.4 927.9L516.4 930.7L517.4 927.5L518.4 929.6L519.4 928.4L520.4 932.5L521.4 931.1L522.4 935.4L523.4 934.7L524.4 939.8L525.4 938.8L526.4 945.6L527.4 944.7L528.4 948.2L529.4 946.6L530.4 950.7L531.4 948.2L532.4 951.8L533.4 949.2L534.4 953.5L535.4 952.1L536.4 955.6L537.4 953.8L538.4 957.3L539.4 954.4L540.4 956.7L541.4 954.2L542.4 958.3L543.4 956L544.4 959.9L545.4 957.5L546.4 961L547.4 959L548.4 962.7L549.4 959.5L550.4 962.3L551.4 959.9L552.4 963.2L553.4 961L554.4 963.5L555.4 960.4L556.4 963L557.4 960.3L558.4 962.2L559.4 960L560.4 963.5L561.4 960.9L562.4 964.8L563.4 962.1L564.4 964.9L565.4 961.6L566.4 965L567.4 962.3L568.4 964.2L569.4 960.4L570.4 963.5L571.4 960.8L572.4 964.1L573.4 960.5L574.4 962.5L575.4 959.1L576.4 962.1L577.4 959.2L578.4 962.7L579.4 959.2L580.4 961.4L581.4 958.4L582.4 961.6L583.4 958.7L584.4 960.8L585.4 959.2L586.4 961.5L587.4 957.9L588.4 960.7L589.4 957.4L590.4 959.2L591.4 956.3L592.4 958.7L593.4 956.5L594.4 959.3L595.4 956.4L596.4 958.2L597.4 953.8L598.4 955.2L599.4 951.8L600.4 954.1L601.4 950.8L602.4 953L603.4 949.6L604.4 950.6L605.4 947.6L606.4 949.7L607.4 944.6L608.4 947.2L609.4 942.8L610.4 944.5L611.4 941.1L612.4 942.9L613.4 938.5L614.4 941L615.4 937.3L616.4 938L617.4 932.9L618.4 933.3L619.4 928.9L620.4 931.7L621.4 926L622.4 926.1L623.4 921.1L624.4 921.3L625.4 915.1L626.4 917.5L627.4 914L628.4 916.2L629.4 913.4L630.4 915.5L631.4 911.7L632.4 913.5L633.4 910L634.4 911.8L635.4 907.6L636.4 908.3L637.4 903.8L638.4 904.6L639.4 900.5L640.4 903.4L641.4 903.5L642.4 908.1L643.4 907.7L644.4 912.6L645.4 911.1L646.4 915.4L647.4 914.7L648.4 920.1L649.4 917.7L650.4 921.5L651.4 918.8L652.4 923.4L653.4 920.4L654.4 922.9L655.4 919.8L656.4 922.2L657.4 918.1L658.4 920.3L659.4 917.2L660.4 920.3L661.4 916.8L662.4 918.7L663.4 913.6L664.4 913.9L665.4 909.1L666.4 908.4L667.4 903.7L668.4 904.7L669.4 900.3L670.4 902.5L671.4 898.3L672.4 899.6L673.4 895L674.4 896.7L675.4 892.5L676.4 891.4L677.4 886L678.4 886.6L679.4 881.9L680.4 881.2L681.4 876.2L682.4 877.8L683.4 872.3L684.4 873.2L685.4 869L686.4 873.4L687.4 871.4L688.4 874.4L689.4 873.4L690.4 876.1L691.4 874.4L692.4 877.3L693.4 875.8L694.4 879.3L695.4 878.1L696.4 881.3L697.4 879.9L698.4 883.9L699.4 881.3L700.4 885.3L701.4 881.6L702.4 885.1L703.4 884.5L704.4 889.6L705.4 888.3L706.4 892.5L707.4 892.2L708.4 896.6L709.4 896.5L710.4 901.2L711.4 900.1L712.4 905.8L713.4 905.5L714.4 909.2L715.4 908.7L716.4 912.8L717.4 911.3L718.4 916L719.4 913.8L720.4 917.8L721.4 917L722.4 922.6L723.4 921.7L724.4 927.2L725.4 926.9L726.4 931.5L727.4 929.2L728.4 932.3L729.4 930.9L730.4 934.7L731.4 932.5L732.4 934.8L733.4 933.7L734.4 936.7L735.4 934.4L736.4 938.8L737.4 936.8L738.4 940.9L739.4 938.3L740.4 941.8L741.4 940.2L742.4 944.1L743.4 942.3L744.4 946.4L745.4 944.2L746.4 948.7L747.4 948.2L748.4 951.9L749.4 950.6L750.4 954.8L751.4 949.8L752.4 945.4L753.4 936.7L754.4 938.9L755.4 937.3L756.4 942.4L757.4 941.3L758.4 945.2L759.4 943.9L760.4 946.8L761.4 943.7L762.4 946.5L763.4 943.4L764.4 946.6L765.4 944L766.4 947L767.4 944.2L768.4 947.2L769.4 944.9L770.4 946.5L771.4 943L772.4 945.8L773.4 942.7L774.4 943.9L775.4 937.9L776.4 937.5L777.4 930.6L778.4 933L779.4 929.4L780.4 932L781.4 929.2L782.4 931L783.4 928.5L784.4 930.2L785.4 927.2L786.4 928L787.4 925.4L788.4 927.6L789.4 923.7L790.4 924.9L791.4 918.5L792.4 916.1L793.4 909.2L794.4 907.6L795.4 901.5L796.4 900.8L797.4 894.4L798.4 893.8L799.4 889.6L800.4 891.5L801.4 888L802.4 889.8L803.4 886.5L804.4 889L805.4 885.7L806.4 889.8L807.4 886.4L808.4 889.3L809.4 886.8L810.4 889.2L811.4 886.9L812.4 890.1L813.4 888.4L814.4 890.4L815.4 888.2L816.4 889.9L817.4 887.3L818.4 889L819.4 885.8L820.4 888.7L821.4 885.2L822.4 887.2L823.4 884.7L824.4 886.6L825.4 881.9L826.4 882.4L827.4 877.8L828.4 878.5L829.4 873.6L830.4 874.3L831.4 870.1L832.4 871.7L833.4 868L834.4 869L835.4 865.7L836.4 866.4L837.4 862L838.4 863.8L839.4 860.3L840.4 861.2L841.4 857.1L842.4 858.4L843.4 854.7L844.4 856.7L845.4 852.4L846.4 853.8L847.4 852.8L848.4 863L849.4 868.1L850.4 874L851.4 871L852.4 872.4L853.4 869.1L854.4 871.6L855.4 869.4L856.4 871.3L857.4 870.3L858.4 875.5L859.4 874.9L860.4 879.7L861.4 878.9L862.4 882.4L863.4 881.3L864.4 887.7L865.4 887.2L866.4 892.5L867.4 892.1L868.4 896.6L869.4 896.6L870.4 900.4L871.4 898.5L872.4 903.3L873.4 901.3L874.4 904.7L875.4 904.8L876.4 911.6L877.4 911.9L878.4 918.8L879.4 919.6L880.4 925.1L881.4 924.8L882.4 930.3L883.4 930L884.4 933.4L885.4 931.4L886.4 934.8L887.4 933.2L888.4 936L889.4 934.3L890.4 937.7L891.4 935.5L892.4 938.6L893.4 938.7L894.4 944.4L895.4 946.8L896.4 951.7L897.4 951L898.4 954L899.4 952.2L900.4 955.8L901.4 954.6L902.4 957.4L903.4 956.2L904.4 958.3L905.4 954.9L906.4 956.7L907.4 953.6L908.4 954.8L909.4 952.2L910.4 952.6L911.4 949.3L912.4 950.2L913.4 947.4L914.4 951.5L915.4 951.1L916.4 954L917.4 952.9L918.4 957.5L919.4 956.3L920.4 960.2L921.4 958.1L922.4 960.9L923.4 957.6L924.4 960.9L925.4 959.6L926.4 961.7L927.4 960.1L928.4 962.8L929.4 959.8L930.4 961.9L931.4 960L932.4 962.1L933.4 959.4L934.4 962L935.4 959L936.4 961.7L937.4 959.6L938.4 962.1L939.4 959.2L940.4 961.7L941.4 959.7L942.4 961.9L943.4 958.4L944.4 960.2L945.4 957.7L946.4 961.5L947.4 958.6L948.4 961.4L949.4 959L950.4 961.8L951.4 960.1L952.4 962.9L953.4 960.1L954.4 963.6L955.4 960.3L956.4 963.5L957.4 960.6L958.4 963.7L959.4 960.7L960.4 964.7L961.4 962.1L962.4 965.1L963.4 962.5L964.4 965L965.4 961.8L966.4 963.8L967.4 961L968.4 963.2L969.4 960.9L970.4 962.6L971.4 961.4L972.4 963.6L973.4 962.1L974.4 964L975.4 962.1L976.4 964.1L977.4 961.5L978.4 962.9L979.4 961.4L980.4 962.3L981.4 960.5L982.4 961.7L983.4 960.1L984.4 961L985.4 959.2L986.4 960.3L987.4 958.7L988.4 959.4L989.4 957.9L990.4 958.9L991.4 957.2L992.4 957.9L993.4 956.7L994.4 958.2L995.4 957.7L996.4 959.6L997.4 959.4L998.4 961.3L999.4 960.8L1000.4 962L1001.4 961.4L1002.4 962L1003.4 961.4L1004.4 962.1L1005.4 961.5L1006.4 962.3L1007.4 961.4L1008.4 962.2L1009.4 961.8L1010.4 962.4L1011.4 961.9L1012.4 962.8L1013.4 961.9L1014.4 962.7L1015.4 961.6L1016.4 962.5L1017.4 961.9L1018.4 962.8L1019.4 961.9L1020.4 962.8L1021.4 961.9L1022.4 962.8L1023.4 962.1L1024.4 962.9L1025.4 962L1026.4 962.7L1027.4 962L1028.4 962.9L1029.4 962L1030.4 963L1031.4 962.1L1032.4 963L1033.4 962.2L1034.4 962.8L1035.4 962L1036.4 963L1037.4 962L1038.4 962.8L1039.4 962L1040.4 962.6L1041.4 961.9L1042.4 962.5L1043.4 961.6L1044.4 962.5L1045.4 961.5L1046.4 962.4L1047.4 961.3L1048.4 961.8L1049.4 960.9L1050.4 961.7L1051.4 961.2L1052.4 961.8L1053.4 961.1L1054.4 961.6L1055.4 960.8L1056.4 961.4L1057.4 960.4L1058.4 961.2L1059.4 960.3L1060.4 961.2L1061.4 960.2L1062.4 961L1063.4 960.3L1064.4 960.9L1065.4 960.2L1066.4 961L1067.4 960.3L1068.4 961.1L1069.4 960.2L1070.4 960.9L1071.4 960.2L1072.4 960.6L1073.4 959.6L1074.4 960.3L1075.4 959.2L1076.4 960L1077.4 959.2L1078.4 959.7L1079.4 958.7L1080.4 959.6L1081.4 958.8L1082.4 959.4L1083.4 958.5L1084.4 959.4L1085.4 958.6L1086.4 959.3L1087.4 958.8L1088.4 959.4L1089.4 958.5L1090.4 958.9L1091.4 958.2L1092.4 958.8L1093.4 958L1094.4 958.8L1095.4 958L1096.4 958.9L1097.4 958L1098.4 958.8L1099.4 957.9L1100.4 958.6L1101.4 957.7L1102.4 958.5L1103.4 957.7L1104.4 958.2L1105.4 957.5L1106.4 958.3L1107.4 957.8L1108.4 958.4L1109.4 957.4L1110.4 958.1L1111.4 957.6L1112.4 958.4L1113.4 957.7L1114.4 958L1115.4 957.3L1116.4 957.9L1117.4 957.3L1118.4 958L1119.4 957.2L1120.4 957.7L1121.4 956.6L1122.4 957.4L1123.4 956.3L1124.4 957.2L1125.4 956.5L1126.4 957L1127.4 956.5L1128.4 957.4L1129.4 956.6L1130.4 957.3L1131.4 956.4L1132.4 956.8L1133.4 956.3L1134.4 957.2L1135.4 956.3L1136.4 957L1137.4 956.3L1138.4 957.2L1139.4 956.4L1140.4 957L1141.4 955.9L1142.4 956.9L1143.4 956L1144.4 956.9L1145.4 956.1L1146.4 956.8L1147.4 956.1L1148.4 956.7L1149.4 955.9L1150.4 956.6L1151.4 955.7L1152.4 956.2L1153.4 955.6L1154.4 956.2L1155.4 955.5L1156.4 956.2L1157.4 955.4L1158.4 956.3L1159.4 955.5L1160.4 956L1161.4 955.5L1162.4 956.4L1163.4 955.7L1164.4 956.7L1165.4 955.6L1166.4 956.4L1167.4 955.8L1168.4 956.4L1169.4 955.8L1170.4 956.4L1171.4 955.8L1172.4 956.5L1173.4 955.9L1174.4 956.7L1175.4 955.8L1176.4 956.7L1177.4 955.9L1178.4 956.6L1179.4 955.7L1180.4 956.6L1181.4 955.8L1182.4 956.7L1183.4 956.2L1184.4 956.7L1185.4 956.1L1186.4 956.8L1187.4 955.9L1188.4 956.9L1189.4 956L1190.4 956.7L1191.4 955.8L1192.4 956.7L1193.4 956L1194.4 956.7L1195.4 955.8L1196.4 956.5L1197.4 956L1198.4 956.8L1199.4 955.9L1200.4 956.9L1201.4 956.2L1202.4 957L1203.4 956.1L1204.4 956.9L1205.4 956.5L1206.4 957.2L1207.4 956.7L1208.4 957.6L1209.4 956.7L1210.4 957.4L1211.4 956.7L1212.4 957.5L1213.4 957L1214.4 957.6L1215.4 957.1L1216.4 957.6L1217.4 956.5L1218.4 957.3L1219.4 956.7L1220.4 957.5L1221.4 956.8L1222.4 957.5L1223.4 956.5L1224.4 957.5L1225.4 956.7L1226.4 957.5L1227.4 957.2L1228.4 958L1229.4 956.9L1230.4 957.7L1231.4 957L1232.4 957.9L1233.4 957L1234.4 957.8L1235.4 956.8L1236.4 957.6L1237.4 957L1238.4 958L1239.4 957.4L1240.4 958.4L1241.4 957.5L1242.4 958.2L1243.4 957.2L1244.4 958.2L1245.4 957.4L1246.4 957.9L1247.4 957L1248.4 957.9L1249.4 957.2L1250.4 957.9L1251.4 957.2L1252.4 957.5L1253.4 957L1254.4 957.8L1255.4 957L1256.4 957.9L1257.4 957L1258.4 957.6L1259.4 956.8L1260.4 957.7L1261.4 957.1L1262.4 957.8L1263.4 957.1L1264.4 957.6L1265.4 956.7L1266.4 957.6L1267.4 956.8L1268.4 957.4L1269.4 956.7L1270.4 957.2L1271.4 956.3L1272.4 957.3L1273.4 956.2L1274.4 956.5L1275.4 955.5L1276.4 956L1277.4 955L1278.4 955.4L1279.4 954.5L1280.4 955.1L1281.4 954.4L1282.4 954.9L1283.4 954.2L1284.4 954.6L1285.4 953.7L1286.4 954.1L1287.4 953.2L1288.4 953.7L1289.4 953.3L1290.4 954.1L1291.4 953.4L1292.4 954L1293.4 953.6L1294.4 954.7L1295.4 954.2L1296.4 955L1297.4 954.5L1298.4 955.2L1299.4 954.6L1300.4 955.5L1301.4 954.8L1302.4 956L1303.4 956L1304.4 957.3L1305.4 956.9L1306.4 958.1L1307.4 958.1L1308.4 959.4L1309.4 959.1L1310.4 958.7L1311.4 956.9L1312.4 956.3L1313.4 954.4L1314.4 954.3L1315.4 953.7L1316.4 954.4L1317.4 953.7L1318.4 954.6L1319.4 953.9L1320.4 954.8L1321.4 954.1L1322.4 955L1323.4 954.3L1324.4 955L1325.4 954.1L1326.4 954.9L1327.4 954.4L1328.4 955.2L1329.4 954.4L1330.4 955.2L1331.4 954.6L1332.4 955.4L1333.4 955.1L1334.4 956.3L1335.4 956.3L1336.4 957.8L1337.4 957.7L1338.4 959.2L1339.4 959.2L1340.4 960.6L1341.4 960.6L1342.4 962L1343.4 961.2L1344.4 961.8L1345.4 961.1L1346.4 961.9L1347.4 961.3L1348.4 962.1L1349.4 961.2L1350.4 961.9L1351.4 961.2L1352.4 962.1L1353.4 961.5L1354.4 962.3L1355.4 961.7L1356.4 962.7L1357.4 961.9L1358.4 962.6L1359.4 961.7L1360.4 962.5L1361.4 961.9L1362.4 962.7L1363.4 962.2L1364.4 962.7L1365.4 961.9L1366.4 962.6L1367.4 961.7L1368.4 962.6L1369.4 962L1370.4 962.8L1371.4 961.9L1372.4 962.5L1373.4 961.8L1374.4 962.6L1375.4 961.8L1376.4 962.6L1377.4 962.2L1378.4 962.9L1379.4 962.1L1380.4 962.6L1381.4 961.8L1382.4 962.5L1383.4 961.9L1384.4 962.9L1385.4 962.3L1386.4 963L1387.4 962.2L1388.4 962.8L1389.4 962.1L1390.4 962.9L1391.4 962.2L1392.4 962.8L1393.4 962.1L1394.4 962.9L1395.4 962.2L1396.4 963L1397.4 962.2L1398.4 963.2L1399.4 962.2L1400.4 963L1401.4 962.3L1402.4 962.9L1403.4 962.2L1404.4 963L1405.4 962.1L1406.4 963L1407.4 962.2L1408.4 963.1L1409.4 962.4L1410.4 963.1L1411.4 962.5L1412.4 963.2L1413.4 962.4L1414.4 963.2L1415.4 962.3L1416.4 963.1L1417.4 962.3L1418.4 963L1419.4 962.2L1420.4 962.9L1421.4 962.4L1422.4 963.1L1423.4 962.1L1424.4 963.1L1425.4 962.5L1426.4 963.2L1427.4 962.5L1428.4 963.2L1429.4 962.6L1430.4 963.2L1431.4 962.5L1432.4 963.2L1433.4 962.5L1434.4 963.3L1435.4 962.6L1436.4 963.3L1437.4 962.5L1438.4 963.3L1439.4 962.8L1440.4 963.6L1441.4 962.7L1442.4 963.2L1443.4 962.3L1444.4 963L1445.4 962.5L1446.4 963.3L1447.4 962.7L1448.4 963.3L1449.4 962.8L1450.4 963.5L1451.4 962.7L1452.4 963.6L1453.4 962.7L1454.4 963.6L1455.4 962.7L1456.4 963.4L1457.4 962.9L1458.4 963.6L1459.4 962.9L1460.4 963.7L1461.4 963.1L1462.4 964L1463.4 963.3L1464.4 963.9L1465.4 963.5L1466.4 964L1467.4 963.1L1468.4 963.9L1469.4 963.2L1470.4 964L1471.4 963.1L1472.4 963.4L1473.4 962.9L1474.4 963.5L1475.4 963L1476.4 963.9L1477.4 963.3L1478.4 963.8L1479.4 963.3L1480.4 963.9L1481.4 963.3L1482.4 964.1L1483.4 963.2L1484.4 963.9L1485.4 963.3L1486.4 963.7L1487.4 963.1L1488.4 964L1489.4 963.2L1490.4 963.9L1491.4 963.2L1492.4 964L1493.4 963.3L1494.4 964L1495.4 963.4L1496.4 964L1497.4 963.4L1498.4 964.1L1499.4 963.3L1500.4 963.9L1501.4 963.1L1502.4 963.7L1503.4 963.1L1504.4 963.9L1505.4 963.1L1506.4 963.9L1507.4 963.3L1508.4 963.8L1509.4 963.3L1510.4 963.8L1511.4 963L1512.4 963.6L1513.4 963L1514.4 963.6L1515.4 963L1516.4 964L1517.4 963.1L1518.4 964L1519.4 963.2L1520.4 963.8L1521.4 963.3L1522.4 964.1L1523.4 963.5L1524.4 964L1525.4 963.3L1526.4 964L1527.4 963.3L1528.4 964.1L1529.4 963.4L1530.4 964.2L1531.4 963.5L1532.4 964.1L1533.4 963.1L1534.4 964L1535.4 963.2L1536.4 963.8L1537.4 963.1L1538.4 963.8L1539.4 963L1540.4 963.6L1541.4 962.9L1542.4 963.4L1543.4 962.7L1544.4 963.5L1545.4 962.9L1546.4 963.6L1547.4 963.1L1548.4 963.6L1549.4 963.2L1550.4 963.8L1551.4 963.3L1552.4 964L1553.4 963.1L1554.4 963.7L1555.4 963L1556.4 963.9L1557.4 963.2L1558.4 963.6L1559.4 963.1L1560.4 963.4L1561.4 962.8L1562.4 963.6L1563.4 963.1L1564.4 963.7L1565.4 962.9L1566.4 963.5L1567.4 963L1568.4 963.6L1569.4 962.6L1570.4 963.1L1571.4 962.5L1572.4 963.1L1573.4 962.3L1574.4 962.8L1575.4 962.1L1576.4 962.8L1577.4 961.9L1578.4 962.5L1579.4 961.9L1580.4 962.5L1581.4 961.7L1582.4 962.2L1583.4 961.4L1584.4 961.9L1585.4 961L1586.4 961.6L1587.4 960.9L1588.4 961.4L1589.4 960.7L1590.4 961.3L1591.4 960.5L1592.4 961L1593.4 960.3L1594.4 961.1L1595.4 960.3L1596.4 960.8L1597.4 960.4L1598.4 960.7L1599.4 960.2L1600.4 960.9L1601.4 959.8L1602.4 960.1L1603.4 959.4L1604.4 960.1L1605.4 959.1L1606.4 959.7L1607.4 958.8L1608.4 959.3L1609.4 958.4L1610.4 959L1611.4 958.4L1612.4 959L1613.4 957.9L1614.4 958.2L1615.4 957.2L1616.4 957.6L1617.4 956.6L1618.4 956.9L1619.4 956L1620.4 956.5L1621.4 955.7L1622.4 956.2L1623.4 955.2L1624.4 955.4L1625.4 954.7L1626.4 955.1L1627.4 954.2L1628.4 954.6L1629.4 953.6L1630.4 954.3L1631.4 953.4L1632.4 953.7L1633.4 952.7L1634.4 952.9L1635.4 951.7L1636.4 951.8L1637.4 950.7L1638.4 950.8L1639.4 949.6L1640.4 949.6L1641.4 948.6L1642.4 948.6L1643.4 947.3L1644.4 947.5L1645.4 946.3L1646.4 946.5L1647.4 945.5L1648.4 945.7L1649.4 944.8L1650.4 945.2L1651.4 944.2L1652.4 944.5L1653.4 943.4L1654.4 943.8L1655.4 942.9L1656.4 943.1L1657.4 942.4L1658.4 942.7L1659.4 941.7L1660.4 942.3L1661.4 941.2L1662.4 941.3L1663.4 940.3L1664.4 940.5L1665.4 939.6L1666.4 940L1667.4 939L1668.4 939.1L1669.4 938.2L1670.4 938.6L1671.4 937.5L1672.4 938L1673.4 937.1L1674.4 937.2L1675.4 936.2L1676.4 936.5L1677.4 935.4L1678.4 935.4L1679.4 933.7L1680.4 933L1681.4 931.1L1682.4 930.6L1683.4 928.7L1684.4 927.9L1685.4 926.2L1686.4 925.8L1687.4 925L1688.4 925.4L1689.4 924.9L1690.4 925.2L1691.4 924.3L1692.4 924.6L1693.4 924L1694.4 924.4L1695.4 923.9L1696.4 924.3L1697.4 923.2L1698.4 923.4L1699.4 922.2L1700.4 922.5L1701.4 921.5L1702.4 921.7L1703.4 920.4L1704.4 920.4L1705.4 919L1706.4 919.3L1707.4 918.2L1708.4 918.6L1709.4 917.4L1710.4 917.5L1711.4 916.4L1712.4 916.8L1713.4 916.7L1714.4 917.9L1715.4 917.6L1716.4 919L1717.4 918.5L1718.4 919.7L1719.4 919.1L1720.4 920.6L1721.4 920.3L1722.4 921.7L1723.4 920.8L1724.4 921.8L1725.4 921.2L1726.4 922.5L1727.4 921.6L1728.4 923.1L1729.4 922.3L1730.4 923.4L1731.4 922.8L1732.4 924.2L1733.4 923.6L1734.4 924L1735.4 922.8L1736.4 923.6L1737.4 922.6L1738.4 923.4L1739.4 922.1L1740.4 922.6L1741.4 921.5L1742.4 922.5L1743.4 920.9L1744.4 921.1L1745.4 919.3L1746.4 919.6L1747.4 917.7L1748.4 917.8L1749.4 915.8L1750.4 916.4L1751.4 914.6L1752.4 915.2L1753.4 913.4L1754.4 914L1755.4 912.2L1756.4 912.7L1757.4 911L1758.4 911.6L1759.4 909.9L1760.4 910.5L1761.4 908.7L1762.4 909.3L1763.4 907.5L1764.4 907.7L1765.4 906.2L1766.4 906.7L1767.4 904.7L1768.4 905.5L1769.4 903.2L1770.4 903L1771.4 901.3L1772.4 901.8L1773.4 899.7L1774.4 900L1775.4 897.9L1776.4 897.9L1777.4 895.2L1778.4 895.8L1779.4 893.8L1780.4 894.3L1781.4 892.3L1782.4 892.9L1783.4 890.8L1784.4 891.1L1785.4 888.8L1786.4 888.9L1787.4 886.6L1788.4 887.5L1789.4 884.4L1790.4 884.5L1791.4 882.1L1792.4 882.6L1793.4 880.4L1794.4 880.8L1795.4 878.7L1796.4 879.2L1797.4 876.5L1798.4 876.7L1799.4 873.9L1800.4 874.4L1801.4 872L1802.4 871.9L1803.4 870L1804.4 870.2L1805.4 867.5L1806.4 868.3L1807.4 865.6L1808.4 866.1L1809.4 863.6L1810.4 863.8L1811.4 861.6L1812.4 862.4L1813.4 860.2L1814.4 861.1L1815.4 858.4L1816.4 858.5L1817.4 855.7L1818.4 855.9L1819.4 853L1820.4 853.4L1821.4 850.2L1822.4 850.5L1823.4 847.5L1824.4 847.6L1825.4 844.4L1826.4 844.3L1827.4 841.7L1828.4 841.9L1829.4 839.2L1830.4 839.9L1831.4 837.2L1832.4 837.5L1833.4 834.6L1834.4 834.8L1835.4 832.2L1836.4 832.6L1837.4 829.5L1838.4 830.1L1839.4 827.8L1840.4 827.8L1841.4 825.2L1842.4 824.7L1843.4 821.6L1844.4 821.2L1845.4 818.7L1846.4 819L1847.4 816.9L1848.4 817.4L1849.4 815L1850.4 815.1L1851.4 812.6L1852.4 813.2L1853.4 810.4L1854.4 810.2L1855.4 807.3L1856.4 807.3L1857.4 804.6L1858.4 805.4L1859.4 802.1L1860.4 800.6L1861.4 796.3L1862.4 795.2L1863.4 792.2L1864.4 792.2L1865.4 789.8L1866.4 790.2L1867.4 787.7L1868.4 788.2L1869.4 785.4L1870.4 785.1L1871.4 782.7L1872.4 782.5L1873.4 779.8L1874.4 779.7L1875.4 776.7L1876.4 777L1877.4 774.7L1878.4 774.5L1879.4 771.9L1880.4 771.5L1881.4 768.2L1882.4 767.3L1883.4 764.1L1884.4 764L1885.4 760.1L1886.4 760.5L1887.4 757.7L1888.4 758.4L1889.4 756.1L1890.4 756.7L1891.4 753.9L1892.4 754.8L1893.4 752.3L1894.4 753.5L1895.4 751.2L1896.4 751.3L1897.4 748.4L1898.4 749.1L1899.4 746.9L1900.4 747.4L1901.4 744.8L1902.4 745L1903.4 742.2L1904.4 742.6L1905.4 740.5L1906.4 740.9L1907.4 738.6L1908.4 739L1909.4 736.7L1910.4 737.1L1911.4 735L1912.4 736.2L1913.4 733.4L1914.4 734.3L1915.4 732.6L1916.4 733.5L1917.4 731.5L1918.4 732.4L1919.4 730.5L1920.4 731.5L1921.4 730L1922.4 731.2L1923.4 729L1924.4 730.6L1925.4 728.3L1926.4 728.7L1927.4 727.3L1928.4 728.5L1929.4 727.4L1930.4 728.7L1931.4 727.2L1932.4 728.2L1933.4 726.3L1934.4 727.1L1935.4 724.6L1936.4 725L1937.4 723.6L1938.4 724.4L1939.4 722.8L1940.4 724.3L1941.4 721.9L1942.4 723.3L1943.4 722.2L1944.4 724.2L1945.4 722.4L1946.4 723.8L1947.4 722.5L1948.4 723.8L1949.4 722.8L1950.4 724.6L1951.4 722.9L1952.4 724.3L1953.4 722.5L1954.4 724.1L1955.4 722.9L1956.4 723.9L1957.4 722.1L1958.4 724L1959.4 722.8L1960.4 723.9L1961.4 721.9L1962.4 722.6L1963.4 720.8L1964.4 721.7L1965.4 719.7L1966.4 720.5L1967.4 717.7L1968.4 718.6L1969.4 716.3L1970.4 717.3L1971.4 715.3L1972.4 716.7L1973.4 715.8L1974.4 717.8L1975.4 716.5L1976.4 717.9L1977.4 716.3L1978.4 717.9L1979.4 715.9L1980.4 716.7L1981.4 714.5L1982.4 715.5L1983.4 713.5L1984.4 714.5L1985.4 712.5L1986.4 713.5L1987.4 712L1988.4 712.8L1989.4 711.6L1990.4 713L1991.4 711.8L1992.4 713.5L1993.4 712.4L1994.4 713.9L1995.4 712.5L1996.4 714.4L1997.4 713.3L1998.4 714.3L1999.4 713.4L2000.4 715L2001.4 713.9L2002.4 714.9L2003.4 713.7L2004.4 715L2005.4 713.1L2006.4 714.6L2007.4 713.1L2008.4 715.3L2009.4 714L2010.4 716.1L2011.4 715.4L2012.4 717.3L2013.4 716.8L2014.4 718.9L2015.4 718.5L2016.4 720L2017.4 718.9L2018.4 721.3L2019.4 720.2L2020.4 722.4L2021.4 721.7L2022.4 724L2023.4 723.3L2024.4 725.2L2025.4 724.7L2026.4 727.4L2027.4 727L2028.4 729.1L2029.4 728.9L2030.4 731.2L2031.4 730.3L2032.4 733L2033.4 732.2L2034.4 734.1L2035.4 733.7L2036.4 736.1L2037.4 735.5L2038.4 738.5L2039.4 737.4L2040.4 739.6L2041.4 738.9L2042.4 741.5L2043.4 741.1L2044.4 743.9L2045.4 743.3L2046.4 745.5L2047.4 744.9L2048.4 746.9L2049.4 746.3L2050.4 749.2L2051.4 748.2L2052.4 750.5L2053.4 749.9L2054.4 752.8L2055.4 752L2056.4 754.8L2057.4 753.6L2058.4 756.6L2059.4 756L2060.4 758.5L2061.4 758.2L2062.4 761.3L2063.4 760.5L2064.4 763.3L2065.4 763.1L2066.4 765.9L2067.4 765.3L2068.4 768.1L2069.4 767.7L2070.4 770.3L2071.4 769.7L2072.4 772.3L2073.4 772.1L2074.4 775.2L2075.4 774.6L2076.4 777.1L2077.4 776.2L2078.4 779.2L2079.4 778.1L2080.4 781L2081.4 780.1L2082.4 782.7L2083.4 782.4L2084.4 785.4L2085.4 786L2086.4 789.9L2087.4 790.5L2088.4 793.2L2089.4 792.6L2090.4 795.9L2091.4 794.6L2092.4 796.5L2093.4 796.4L2094.4 799.2L2095.4 798.8L2096.4 801.6L2097.4 800.9L2098.4 803.9L2099.4 803.6L2100.4 806.2L2101.4 806L2102.4 809.2L2103.4 808.8L2104.4 812.1L2105.4 811.9L2106.4 815L2107.4 814.4L2108.4 817.2L2109.4 816.3L2110.4 818.1L2111.4 818.1L2112.4 820.8L2113.4 820.1L2114.4 823.1L2115.4 822.3L2116.4 824.5L2117.4 824.8L2118.4 827.5L2119.4 827.1L2120.4 830.1L2121.4 829.4L2122.4 832L2123.4 831L2124.4 834.5L2125.4 833.9L2126.4 836.8L2127.4 836.4L2128.4 839.2L2129.4 838.8L2130.4 841.3L2131.4 840.8L2132.4 843.7L2133.4 843.3L2134.4 846L2135.4 846L2136.4 848.5L2137.4 848L2138.4 850.5L2139.4 849.9L2140.4 853.2L2141.4 852.6L2142.4 855.4L2143.4 855.5L2144.4 858.2L2145.4 857.8L2146.4 860.5L2147.4 859.9L2148.4 862.9L2149.4 863.4L2150.4 866.6L2151.4 866.3L2152.4 869.4L2153.4 869.5L2154.4 871.9L2155.4 871.5L2156.4 874.2L2157.4 873.9L2158.4 876.9L2159.4 876.4L2160.4 878.6L2161.4 878.3L2162.4 880.6L2163.4 879.9L2164.4 881.7L2165.4 881.9L2166.4 885.4L2167.4 885.1L2168.4 888.8L2169.4 888.3L2170.4 891.9L2171.4 892L2172.4 895.3L2173.4 894.7L2174.4 898.2L2175.4 897.3L2176.4 899.4L2177.4 899.3L2178.4 901.3L2179.4 900.4L2180.4 902.8L2181.4 901.9L2182.4 904.5L2183.4 904.1L2184.4 907L2185.4 907L2186.4 910.7L2187.4 912L2188.4 915.4L2189.4 916.6L2190.4 920.5L2191.4 920.7L2192.4 923.9L2193.4 924.5L2194.4 927.4L2195.4 927.2L2196.4 931L2197.4 930.3L2198.4 932.9L2199.4 932.9L2200.4 935.3L2201.4 933.9L2202.4 936.9L2203.4 936.3L2204.4 938.8L2205.4 937.6L2206.4 940.8L2207.4 940.2L2208.4 944.1L2209.4 944.1L2210.4 947.7L2211.4 947.1L2212.4 949.6L2213.4 948.1L2214.4 950.4L2215.4 948.6L2216.4 951.2L2217.4 949.8L2218.4 952.7L2219.4 951.9L2220.4 954.9L2221.4 952.5L2222.4 955.7L2223.4 952.7L2224.4 953.7L2225.4 951.9L2226.4 956L2227.4 953.1L2228.4 956.6L2229.4 953.5L2230.4 955.8L2231.4 953.9L2232.4 956.4L2233.4 953.1L2234.4 956L2235.4 954L2236.4 957.3L2237.4 955.5L2238.4 957.9L2239.4 955.1L2240.4 957.9L2241.4 955.3L2242.4 958.8L2243.4 957.8L2244.4 964L2245.4 963.7L2246.4 973L2247.4 974.7L2248.4 980.7L2249.4 970.7L2250.4 969L2251.4 962.2L2252.4 962.6L2253.4 956.2L2254.4 960.1L2255.4 958L2256.4 961.3L2257.4 956.4L2258.4 961.1L2259.4 956.6L2260.4 962.2L2261.4 957.5L2262.4 960.3L2263.4 956.9L2264.4 960.7L2265.4 957.7L2266.4 960.6L2267.4 957.7L2268.4 961.5L2269.4 958.1L2270.4 960.5L2271.4 957.5L2272.4 961.4L2273.4 957.7L2274.4 961.8L2275.4 958.1L2276.4 962L2277.4 957.6L2278.4 961L2279.4 957.7L2280.4 963.2L2281.4 959.9L2282.4 963.1L2283.4 959.5L2284.4 964.8L2285.4 961.2L2286.4 965.1L2287.4 961.7L2288.4 965.5L2289.4 961.1L2290.4 965.2L2291.4 961.7L2292.4 966.7L2293.4 963.7L2294.4 967.7L2295.4 966.3L2296.4 969.4L2297.4 964.9L2298.4 967.1L2299.4 963L2300.4 966.2L2301.4 959.7L2302.4 961.9L2303.4 956.9L2304.4 961.5L2305.4 956.8L2306.4 960.9L2307.4 957.8L2308.4 962.6L2309.4 959.3L2310.4 962.3L2311.4 957.1L2312.4 961.7L2313.4 958.5L2314.4 963.6L2315.4 961.5L2316.4 966.2L2317.4 963.2L2318.4 970.1L2319.4 969.7L2320.4 978L2321.4 976.3L2322.4 976.1L2323.4 967.5L2324.4 969.8L2325.4 965.8L2326.4 968.4L2327.4 963.2L2328.4 964.7L2329.4 961.2L2330.4 964.6L2331.4 961.2L2332.4 965.5L2333.4 961.3L2334.4 964.1L2335.4 960.4L2336.4 964.9L2337.4 960L2338.4 964.3L2339.4 959.8L2340.4 963.7L2341.4 960.3L2342.4 963.6L2343.4 959.2L2344.4 963.6L2345.4 958.9L2346.4 963.2L2347.4 959L2348.4 962.4L2349.4 959.7L2350.4 962.8L2351.4 958.8L2352.4 963.1L2353.4 959.6L2354.4 962.6L2355.4 957.7L2356.4 962.3L2357.4 958L2358.4 962.7L2359.4 960.3L2360.4 963.6L2361.4 959.4L2362.4 963.2L2363.4 958.9L2364.4 961.6L2365.4 958.4L2366.4 961.5L2367.4 957.4L2368.4 960.8L2369.4 957.6L2370.4 960.7L2371.4 957.3L2372.4 961.9L2373.4 959.3L2374.4 962.5L2375.4 959.7L2376.4 964.3L2377.4 959.5L2378.4 963.5L2379.4 960.5L2380.4 964.1L2381.4 961.5L2382.4 964.7L2383.4 960.6L2384.4 962.8L2385.4 959L2386.4 963.8L2387.4 960.6L2388.4 963.4L2389.4 958.9L2390.4 963.2L2391.4 960L2392.4 964.2L2393.4 960.7L2394.4 964L2395.4 959.6L2396.4 964L2397.4 959.8L2398.4 964.5L2399.4 960.9L2400.4 964.2L2401.4 960.3L2402.4 961.6L2403.4 957.9L2404.4 961.8L2405.4 959L2406.4 963.8L2407.4 960.6L2408.4 963.9L2409.4 960.7L2410.4 963.5L2411.4 959.8L2412.4 963.5L2413.4 959.8L2414.4 963.2L2415.4 959.9L2416.4 963.2L2417.4 960.2L2418.4 964.3L2419.4 959.3L2420 959.3" fill="none" stroke="#A900BD" stroke-width="12" stroke-linejoin="round" stroke-linecap="butt"/>
</g>
<g stroke="#000" stroke-width="2.3" fill="none" shape-rendering="crispEdges">
<path d="M249.4 690.5 H1132.3 V39.6"/>
<line x1="302.3" y1="690.5" x2="302.3" y2="678.0" stroke-linecap="round"/>
<line x1="385.4" y1="690.5" x2="385.4" y2="683.5" stroke-linecap="round"/>
<line x1="468.5" y1="690.5" x2="468.5" y2="678.0" stroke-linecap="round"/>
<line x1="551.5" y1="690.5" x2="551.5" y2="683.5" stroke-linecap="round"/>
<line x1="634.6" y1="690.5" x2="634.6" y2="678.0" stroke-linecap="round"/>
<line x1="717.7" y1="690.5" x2="717.7" y2="683.5" stroke-linecap="round"/>
<line x1="800.8" y1="690.5" x2="800.8" y2="678.0" stroke-linecap="round"/>
<line x1="883.9" y1="690.5" x2="883.9" y2="683.5" stroke-linecap="round"/>
<line x1="967.0" y1="690.5" x2="967.0" y2="678.0" stroke-linecap="round"/>
<line x1="1050.1" y1="690.5" x2="1050.1" y2="683.5" stroke-linecap="round"/>
</g>
<g clip-path="url(#ci)" shape-rendering="crispEdges">
<path d="M246 633.3L247.2 633.3L248.2 630.9L249.2 631.4L250.2 629.2L251.2 629.7L252.2 628.1L253.2 628.1L254.2 625.8L255.2 625.7L256.2 625.2L257.2 627.6L258.2 627.6L259.2 629.6L260.2 629.6L261.2 630.6L262.2 628.9L263.2 629L264.2 627L265.2 627.2L266.2 625.5L267.2 625.7L268.2 623.9L269.2 624.5L270.2 622.5L271.2 623.3L272.2 621.9L273.2 622.7L274.2 621.3L275.2 622.1L276.2 620.6L277.2 621.3L278.2 620.1L279.2 621.2L280.2 618L281.2 617L282.2 613.4L283.2 612.3L284.2 609.7L285.2 609.3L286.2 607.3L287.2 607L288.2 604.3L289.2 604.2L290.2 601.8L291.2 601.4L292.2 599.4L293.2 599.7L294.2 597.8L295.2 597.8L296.2 595.8L297.2 595.9L298.2 593.9L299.2 594.2L300.2 591.9L301.2 592.4L302.2 590.7L303.2 591L304.2 589.3L305.2 589.8L306.2 588.4L307.2 589.3L308.2 587.9L309.2 589L310.2 587.7L311.2 588.8L312.2 588L313.2 589.1L314.2 587.7L315.2 588.8L316.2 587.1L317.2 588.3L318.2 587.1L319.2 587.2L320.2 584.8L321.2 584.6L322.2 582.1L323.2 582.1L324.2 581.7L325.2 583.9L326.2 584L327.2 586.2L328.2 585.2L329.2 586.2L330.2 584.5L331.2 584.8L332.2 583.4L333.2 584.1L334.2 582.4L335.2 582.9L336.2 581.1L337.2 581.7L338.2 581.2L339.2 583.4L340.2 583.2L341.2 584.9L342.2 583.1L343.2 583.6L344.2 581.8L345.2 582.1L346.2 580.2L347.2 580.9L348.2 579.7L349.2 580.3L350.2 579.3L351.2 580.1L352.2 578.5L353.2 579.6L354.2 578.2L355.2 577.3L356.2 574.3L357.2 573.9L358.2 570.6L359.2 570.1L360.2 567.3L361.2 567.6L362.2 565.6L363.2 566.7L364.2 564.7L365.2 564.9L366.2 563.6L367.2 565.1L368.2 564.5L369.2 566.2L370.2 565.5L371.2 567.4L372.2 566.6L373.2 568.8L374.2 569.6L375.2 573L376.2 573.9L377.2 576.9L378.2 577.8L379.2 579.4L380.2 579.2L381.2 581.4L382.2 581.3L383.2 583.2L384.2 583L385.2 584.6L386.2 584.2L387.2 585.9L388.2 586.1L389.2 588.2L390.2 587.8L391.2 590.1L392.2 590.2L393.2 592.7L394.2 593.3L395.2 595.8L396.2 595.8L397.2 597.3L398.2 596.9L399.2 598.6L400.2 597.7L401.2 599.4L402.2 599.3L403.2 601.3L404.2 601L405.2 602.8L406.2 601.9L407.2 602.9L408.2 602.1L409.2 603.7L410.2 602.7L411.2 604L412.2 603.1L413.2 604.8L414.2 603.9L415.2 606L416.2 605.6L417.2 607L418.2 606.5L419.2 608.3L420.2 608L421.2 610.2L422.2 610.7L423.2 613L424.2 613.5L425.2 616.1L426.2 616.7L427.2 619.4L428.2 620.5L429.2 623.4L430.2 624.1L431.2 626.9L432.2 627.2L433.2 629L434.2 628.4L435.2 629.7L436.2 629.5L437.2 630.8L438.2 630.2L439.2 631.7L440.2 630.9L441.2 632.5L442.2 631.8L443.2 633L444.2 631.8L445.2 633.2L446.2 632.1L447.2 633.2L448.2 632L449.2 633.5L450.2 632.6L451.2 633.6L452.2 632.4L453.2 633.6L454.2 632.7L455.2 634L456.2 633.4L457.2 634.9L458.2 634.3L459.2 635.9L460.2 635.1L461.2 636.1L462.2 634.9L463.2 636.1L464.2 634.6L465.2 635.9L466.2 634.8L467.2 635.8L468.2 634.4L469.2 635.4L470.2 634.4L471.2 635.9L472.2 635.5L473.2 637L474.2 635.9L475.2 637.7L476.2 636.8L477.2 637.4L478.2 635.5L479.2 636.5L480.2 634.9L481.2 636L482.2 634.1L483.2 634.6L484.2 633.7L485.2 635.1L486.2 634.2L487.2 635.5L488.2 634.5L489.2 636L490.2 635L491.2 636.2L492.2 634.9L493.2 635.8L494.2 634.3L495.2 635L496.2 633.3L497.2 633.9L498.2 632.9L499.2 633.6L500.2 632.7L501.2 634.3L502.2 633.4L503.2 634.5L504.2 633.4L505.2 634.7L506.2 633.5L507.2 633.9L508.2 631.9L509.2 632.2L510.2 630.4L511.2 630.8L512.2 629.5L513.2 630.5L514.2 629.9L515.2 631L516.2 629.6L517.2 630.8L518.2 630.2L519.2 631.7L520.2 630.4L521.2 631.8L522.2 630.9L523.2 631.7L524.2 630.9L525.2 632.1L526.2 631.3L527.2 632.7L528.2 631.7L529.2 633L530.2 632.1L531.2 633.4L532.2 632.4L533.2 633.8L534.2 633.2L535.2 634.6L536.2 633.7L537.2 635.1L538.2 633.9L539.2 635.5L540.2 635L541.2 636.1L542.2 635L543.2 635L544.2 633.3L545.2 633.7L546.2 632L547.2 632.2L548.2 630.2L549.2 630.8L550.2 629.2L551.2 629.8L552.2 628.2L553.2 628.6L554.2 627.2L555.2 627.8L556.2 626.3L557.2 626.9L558.2 625.4L559.2 626L560.2 624.8L561.2 625.3L562.2 623.9L563.2 624.8L564.2 623.1L565.2 623.9L566.2 622.3L567.2 622.9L568.2 621.5L569.2 622.1L570.2 620.5L571.2 621.1L572.2 619.7L573.2 620.4L574.2 619.3L575.2 620.1L576.2 619L577.2 619.7L578.2 617.9L579.2 619.1L580.2 618.2L581.2 618.6L582.2 617.3L583.2 618.4L584.2 616.9L585.2 617.7L586.2 616.6L587.2 617.7L588.2 616.4L589.2 617.3L590.2 615.7L591.2 616.4L592.2 614.8L593.2 616L594.2 614.4L595.2 615.3L596.2 614.1L597.2 614.8L598.2 613.5L599.2 613.9L600.2 612.3L601.2 612.9L602.2 611.6L603.2 612.4L604.2 610.5L605.2 611.2L606.2 609.1L607.2 609.9L608.2 608.7L609.2 609.2L610.2 607.8L611.2 608.5L612.2 606.7L613.2 607.3L614.2 605.8L615.2 605.9L616.2 604.4L617.2 604.7L618.2 603.1L619.2 603.8L620.2 603L621.2 603.9L622.2 602.8L623.2 603.9L624.2 602.7L625.2 603.5L626.2 602.4L627.2 604.5L628.2 604.6L629.2 606.9L630.2 606.7L631.2 608.8L632.2 608.3L633.2 610.1L634.2 610.2L635.2 612L636.2 611.2L637.2 612.6L638.2 611.3L639.2 612.7L640.2 611.8L641.2 613.6L642.2 612.5L643.2 614.1L644.2 613.1L645.2 614L646.2 613.3L647.2 614.6L648.2 613.6L649.2 614.4L650.2 613.7L651.2 615L652.2 613.9L653.2 613.8L654.2 611.6L655.2 611.5L656.2 609.2L657.2 609.3L658.2 607.2L659.2 607.3L660.2 605.3L661.2 605.7L662.2 604.5L663.2 605.7L664.2 604.3L665.2 605.6L666.2 604.7L667.2 605.7L668.2 604L669.2 604.4L670.2 602.3L671.2 602.6L672.2 600.3L673.2 600.3L674.2 598.7L675.2 600.4L676.2 599.8L677.2 601.7L678.2 601.3L679.2 603L680.2 601.5L681.2 601.9L682.2 600.8L683.2 601.6L684.2 600.4L685.2 601.5L686.2 600.2L687.2 600.4L688.2 598.8L689.2 599.2L690.2 597.7L691.2 598.2L692.2 596.8L693.2 597.3L694.2 595.5L695.2 596.7L696.2 595.2L697.2 596.4L698.2 594.6L699.2 595.8L700.2 594.6L701.2 594.6L702.2 593.3L703.2 593.2L704.2 591.5L705.2 592L706.2 590.2L707.2 590.5L708.2 588.4L709.2 588.5L710.2 586.7L711.2 587L712.2 585L713.2 585.9L714.2 584.4L715.2 584.7L716.2 583.1L717.2 584.1L718.2 582L719.2 582.8L720.2 581.4L721.2 582.4L722.2 580.9L723.2 582L724.2 580.2L725.2 581.4L726.2 581.1L727.2 583L728.2 582.7L729.2 584.7L730.2 584.5L731.2 586.6L732.2 586.8L733.2 588.9L734.2 589.2L735.2 591.6L736.2 591.1L737.2 593.3L738.2 594L739.2 596.1L740.2 595.7L741.2 597.3L742.2 597.2L743.2 599.2L744.2 598.6L745.2 600.5L746.2 600.4L747.2 602.2L748.2 602L749.2 604L750.2 603.5L751.2 605.9L752.2 605.6L753.2 608.2L754.2 607.9L755.2 610.2L756.2 609.9L757.2 611.8L758.2 611.9L759.2 613.7L760.2 613.5L761.2 614.5L762.2 613.7L763.2 615.4L764.2 614.4L765.2 615.6L766.2 615L767.2 616.8L768.2 616.1L769.2 617.6L770.2 616.7L771.2 618.3L772.2 617.9L773.2 619.9L774.2 619.7L775.2 621.2L776.2 621L777.2 622.5L778.2 621.9L779.2 623.7L780.2 623.3L781.2 624.6L782.2 623.5L783.2 624.4L784.2 623.8L785.2 624.7L786.2 623.7L787.2 624.9L788.2 623.9L789.2 625.4L790.2 624.3L791.2 625.5L792.2 624.6L793.2 625.8L794.2 625.3L795.2 627.1L796.2 626L797.2 628L798.2 627.3L799.2 629L800.2 627.9L801.2 628.8L802.2 627.5L803.2 628.7L804.2 627.5L805.2 628.4L806.2 627L807.2 628L808.2 627.1L809.2 628.4L810.2 627.9L811.2 629.8L812.2 628.9L813.2 631.1L814.2 629.1L815.2 629.7L816.2 627.9L817.2 628.3L818.2 627.3L819.2 627.6L820.2 626L821.2 626.1L822.2 624.5L823.2 626L824.2 624.9L825.2 626.7L826.2 625.8L827.2 626.9L828.2 625.9L829.2 627L830.2 626.1L831.2 627L832.2 625.4L833.2 625.8L834.2 624.4L835.2 625.2L836.2 623.6L837.2 624.2L838.2 622.9L839.2 623.9L840.2 622.2L841.2 623L842.2 621.8L843.2 622.3L844.2 620.5L845.2 621.3L846.2 619.5L847.2 620.7L848.2 618.7L849.2 620L850.2 619L851.2 619.9L852.2 619.1L853.2 620.4L854.2 619.2L855.2 620.3L856.2 619.2L857.2 620.5L858.2 618.9L859.2 619L860.2 617.6L861.2 620.8L862.2 621.8L863.2 624.1L864.2 625.2L865.2 628L866.2 624.7L867.2 624.4L868.2 621.7L869.2 621.5L870.2 620.2L871.2 621.1L872.2 619.5L873.2 620.5L874.2 619.1L875.2 620.5L876.2 619.3L877.2 620.2L878.2 619.1L879.2 620.1L880.2 618.5L881.2 619.3L882.2 617.3L883.2 618.4L884.2 616.9L885.2 617.3L886.2 615.7L887.2 616.2L888.2 614.9L889.2 616.5L890.2 615.8L891.2 617.2L892.2 616.6L893.2 618.3L894.2 617.5L895.2 618.4L896.2 617L897.2 617.5L898.2 616L899.2 616.6L900.2 615.3L901.2 616L902.2 614.5L903.2 614.9L904.2 612.9L905.2 612.9L906.2 610.6L907.2 610.7L908.2 608.6L909.2 608.4L910.2 606.5L911.2 606.7L912.2 603.6L913.2 603.2L914.2 600.5L915.2 599.9L916.2 597.2L917.2 596.3L918.2 592.3L919.2 591.2L920.2 587.9L921.2 586.7L922.2 583.3L923.2 581.9L924.2 577.4L925.2 575.9L926.2 571.4L927.2 569.6L928.2 565.4L929.2 563.3L930.2 558.9L931.2 556.6L932.2 551.5L933.2 548.6L934.2 543.7L935.2 541.5L936.2 537.2L937.2 535.3L938.2 531L939.2 529.1L940.2 525.4L941.2 523.4L942.2 519.8L943.2 518.7L944.2 515.2L945.2 513.9L946.2 510.6L947.2 509.4L948.2 506.7L949.2 507.2L950.2 505.5L951.2 506.1L952.2 504.2L953.2 504.7L954.2 502.9L955.2 503.8L956.2 502.6L957.2 503.5L958.2 502L959.2 502.6L960.2 501.5L961.2 502L962.2 500.5L963.2 501.2L964.2 500L965.2 501L966.2 500.7L967.2 502.8L968.2 502.5L969.2 504.5L970.2 504.2L971.2 505.7L972.2 505.6L973.2 507.9L974.2 507.8L975.2 510.2L976.2 510.5L977.2 512.5L978.2 512.9L979.2 515.2L980.2 515.3L981.2 517.8L982.2 518.2L983.2 520.7L984.2 520.9L985.2 523.2L986.2 523.8L987.2 526L988.2 526.3L989.2 529.2L990.2 529.6L991.2 532.5L992.2 533.1L993.2 536.1L994.2 537.2L995.2 540.3L996.2 541.3L997.2 544L998.2 544.3L999.2 546.4L1000.2 546.8L1001.2 549.7L1002.2 549.9L1003.2 552.5L1004.2 553L1005.2 555.2L1006.2 556.3L1007.2 559.3L1008.2 560.3L1009.2 563.4L1010.2 564.3L1011.2 567.7L1012.2 568.9L1013.2 571.8L1014.2 572.5L1015.2 575.4L1016.2 576.3L1017.2 578.9L1018.2 579.9L1019.2 582.8L1020.2 583.6L1021.2 586.5L1022.2 587L1023.2 589.2L1024.2 589.8L1025.2 591.9L1026.2 591.7L1027.2 593.9L1028.2 593.4L1029.2 595.8L1030.2 595.8L1031.2 598L1032.2 598.3L1033.2 600.3L1034.2 599.9L1035.2 602.2L1036.2 601.9L1037.2 603.8L1038.2 603.7L1039.2 606.4L1040.2 607L1041.2 609.4L1042.2 609.4L1043.2 612.2L1044.2 612.3L1045.2 614.5L1046.2 615.2L1047.2 616.9L1048.2 616.5L1049.2 618.2L1050.2 617.6L1051.2 619.2L1052.2 618.4L1053.2 620.2L1054.2 619.6L1055.2 620.8L1056.2 620.5L1057.2 622.2L1058.2 621.8L1059.2 623.4L1060.2 623.2L1061.2 625.3L1062.2 625.2L1063.2 626.5L1064.2 626L1065.2 627.6L1066.2 627.1L1067.2 628.8L1068.2 627.3L1069.2 627.9L1070.2 626.1L1071.2 626.9L1072.2 625.6L1073.2 626.2L1074.2 624.8L1075.2 626.2L1076.2 625.5L1077.2 627.3L1078.2 627L1079.2 628.9L1080.2 628.4L1081.2 629.7L1082.2 629.2L1083.2 630.4L1084.2 630L1085.2 631.7L1086.2 630.3L1087.2 631.7L1088.2 631.3L1089.2 633.2L1090.2 632.6L1091.2 634.5L1092.2 633.3L1093.2 635L1094.2 634.3L1095.2 635.5L1096.2 634.5L1097.2 636.1L1098.2 634.7L1099.2 635.9L1100.2 634.9L1101.2 636.3L1102.2 634.6L1103.2 635.7L1104.2 634.5L1105.2 635.4L1106.2 634.2L1107.2 635.7L1108.2 634.9L1109.2 636.1L1110.2 635.5L1111.2 636.6L1112.2 635.7L1113.2 636.8L1114.2 636L1115.2 637.6L1116.2 636.6L1117.2 638L1118.2 637.6L1119.2 638.5L1120.2 637.4L1121.2 638.8L1122.2 637.4L1123.2 638.3L1124.2 636.9L1125.2 638.1L1126.2 637L1127.2 638.5L1128.2 637.2L1129.2 638L1130.2 636.8L1131.2 637.7L1132.2 636.7L1133 636.7" fill="none" stroke="#00D0FA" stroke-width="4.5" stroke-linejoin="round" stroke-linecap="butt"/>
<path d="M246 488.2L247.2 488.2L248.2 487.4L249.2 488.7L250.2 487.8L251.2 489.1L252.2 488.2L253.2 489.5L254.2 488.8L255.2 489.9L256.2 489.1L257.2 490.4L258.2 489.5L259.2 491.1L260.2 489.8L261.2 490.7L262.2 488.9L263.2 490L264.2 488.8L265.2 489.7L266.2 488.5L267.2 489.3L268.2 487.5L269.2 488.1L270.2 486.6L271.2 487.1L272.2 485.1L273.2 485.7L274.2 484L275.2 484.7L276.2 483.1L277.2 483.5L278.2 481.4L279.2 481.1L280.2 478.9L281.2 479.2L282.2 476.5L283.2 476.4L284.2 474.5L285.2 475L286.2 473.1L287.2 473.3L288.2 471.6L289.2 471.7L290.2 470.1L291.2 470.3L292.2 468.5L293.2 468.9L294.2 466.9L295.2 466.7L296.2 465.3L297.2 465.5L298.2 463.5L299.2 464.2L300.2 462.2L301.2 462.4L302.2 460.5L303.2 460.7L304.2 458.7L305.2 459.2L306.2 457.2L307.2 457.5L308.2 455.4L309.2 455.4L310.2 453.3L311.2 453.5L312.2 451.5L313.2 451.7L314.2 449.1L315.2 449.2L316.2 447L317.2 447.8L318.2 446.2L319.2 446.7L320.2 445.6L321.2 446L322.2 444.6L323.2 445.3L324.2 443.8L325.2 444.7L326.2 443L327.2 443.6L328.2 442L329.2 442.8L330.2 440.8L331.2 441.2L332.2 439.5L333.2 440.1L334.2 438L335.2 438.4L336.2 436.8L337.2 437.5L338.2 435.4L339.2 435.6L340.2 434.1L341.2 436L342.2 436.1L343.2 438.1L344.2 437.5L345.2 439.7L346.2 440L347.2 441.4L348.2 441.1L349.2 442.6L350.2 442.7L351.2 444.7L352.2 444.1L353.2 445.8L354.2 445.4L355.2 447.2L356.2 446.8L357.2 448L358.2 447L359.2 448.7L360.2 447.7L361.2 449.3L362.2 448.4L363.2 450.2L364.2 449.6L365.2 451.7L366.2 451L367.2 453.1L368.2 452.3L369.2 453.6L370.2 453L371.2 454.9L372.2 454.9L373.2 457.2L374.2 457.6L375.2 460.2L376.2 460.5L377.2 463.3L378.2 463.3L379.2 465.6L380.2 466.1L381.2 468.5L382.2 468.8L383.2 472L384.2 472.4L385.2 475.3L386.2 475.7L387.2 477.5L388.2 477.7L389.2 479.7L390.2 479.6L391.2 481.6L392.2 481.4L393.2 484L394.2 483.7L395.2 485.5L396.2 485.4L397.2 487L398.2 486.6L399.2 488.4L400.2 488.4L401.2 490.3L402.2 489.9L403.2 491.8L404.2 491.4L405.2 492.7L406.2 491.8L407.2 493.4L408.2 492.8L409.2 494.5L410.2 494L411.2 495.7L412.2 494.6L413.2 496.4L414.2 495.6L415.2 497.2L416.2 496.5L417.2 497.6L418.2 496.9L419.2 497.8L420.2 497.9L421.2 499.9L422.2 500L423.2 501.9L424.2 502L425.2 504.2L426.2 504.5L427.2 506.8L428.2 506.8L429.2 509.1L430.2 509.1L431.2 511.6L432.2 511.7L433.2 513.9L434.2 513.2L435.2 515L436.2 514.4L437.2 515.8L438.2 514.7L439.2 516L440.2 515.8L441.2 517.2L442.2 516.3L443.2 517.7L444.2 517L445.2 518.4L446.2 517.5L447.2 518.9L448.2 518.2L449.2 519.7L450.2 518.6L451.2 519.8L452.2 518.4L453.2 519.8L454.2 518.7L455.2 520.2L456.2 519.2L457.2 520.5L458.2 519.8L459.2 520.9L460.2 519.9L461.2 520.6L462.2 519.7L463.2 521.1L464.2 520L465.2 521.3L466.2 520.8L467.2 522.2L468.2 520.8L469.2 522.1L470.2 521.3L471.2 522.5L472.2 521.2L473.2 522.5L474.2 521.7L475.2 522.9L476.2 521.9L477.2 523L478.2 521.7L479.2 522.4L480.2 521L481.2 521.7L482.2 520.5L483.2 521.7L484.2 520.5L485.2 521.5L486.2 520.1L487.2 521.5L488.2 520.4L489.2 521.6L490.2 520.5L491.2 521.6L492.2 520.1L493.2 521.4L494.2 520.2L495.2 520.8L496.2 519.6L497.2 520.7L498.2 519.7L499.2 521L500.2 519.2L501.2 520.1L502.2 518.7L503.2 519.6L504.2 518.5L505.2 519.4L506.2 518L507.2 518.8L508.2 517.8L509.2 518.9L510.2 517.8L511.2 519.5L512.2 518.1L513.2 519.6L514.2 518.5L515.2 519.4L516.2 518.3L517.2 519.4L518.2 518.3L519.2 519.4L520.2 518.2L521.2 519.1L522.2 518.1L523.2 519.2L524.2 518.5L525.2 519.5L526.2 518.7L527.2 520.3L528.2 519.3L529.2 520.4L530.2 519L531.2 520.4L532.2 519.7L533.2 520.9L534.2 519.5L535.2 520.6L536.2 518.9L537.2 520.2L538.2 519.2L539.2 520.4L540.2 519L541.2 520.1L542.2 518.7L543.2 519.9L544.2 518.8L545.2 520.2L546.2 519.5L547.2 520.4L548.2 518.9L549.2 519.8L550.2 518.4L551.2 519.1L552.2 517.8L553.2 518.6L554.2 517.4L555.2 518.3L556.2 516.5L557.2 517.2L558.2 515.6L559.2 516.7L560.2 515.1L561.2 516L562.2 514.5L563.2 515L564.2 513.8L565.2 514.9L566.2 513.8L567.2 514.4L568.2 513L569.2 513.7L570.2 512.2L571.2 512.8L572.2 511.4L573.2 512.2L574.2 511L575.2 511.5L576.2 510.7L577.2 511.4L578.2 509.8L579.2 510.8L580.2 509.4L581.2 510.1L582.2 509.2L583.2 510.4L584.2 508.7L585.2 509.2L586.2 507.4L587.2 508.2L588.2 506.8L589.2 507.2L590.2 505.7L591.2 506L592.2 504L593.2 504L594.2 502L595.2 502.1L596.2 500.1L597.2 500.5L598.2 498.8L599.2 498.6L600.2 496.7L601.2 497.2L602.2 495.4L603.2 496L604.2 494.2L605.2 494.7L606.2 493.3L607.2 494.2L608.2 492.5L609.2 493.3L610.2 491.6L611.2 492.2L612.2 491.3L613.2 492.5L614.2 491.4L615.2 492.2L616.2 491.1L617.2 492L618.2 490.2L619.2 490.6L620.2 489.3L621.2 490.2L622.2 488.2L623.2 490.2L624.2 490.1L625.2 491.9L626.2 491.8L627.2 493.9L628.2 493.1L629.2 494.6L630.2 493.9L631.2 495.1L632.2 494.2L633.2 495.8L634.2 495.1L635.2 496.8L636.2 495.8L637.2 496.7L638.2 495.7L639.2 496.9L640.2 495.4L641.2 496.4L642.2 495.3L643.2 496.7L644.2 496.3L645.2 497.6L646.2 496.5L647.2 497.7L648.2 496.6L649.2 497.6L650.2 496.2L651.2 496.6L652.2 495.2L653.2 495.3L654.2 493.4L655.2 494.4L656.2 492.9L657.2 493.1L658.2 491.5L659.2 491.8L660.2 489.9L661.2 490L662.2 488.4L663.2 488.7L664.2 486.7L665.2 487.4L666.2 485.7L667.2 485.7L668.2 483.8L669.2 484L670.2 482.3L671.2 482.5L672.2 480.9L673.2 481.3L674.2 479.4L675.2 479.4L676.2 477.6L677.2 478.1L678.2 475.7L679.2 476.2L680.2 474.1L681.2 474.5L682.2 473L683.2 473.1L684.2 471.6L685.2 472.4L686.2 470.7L687.2 471.3L688.2 469.8L689.2 470.3L690.2 468.9L691.2 470.8L692.2 470.7L693.2 472.6L694.2 472.2L695.2 474L696.2 473.7L697.2 475.7L698.2 475.4L699.2 477.1L700.2 476.2L701.2 477.6L702.2 476.9L703.2 478.3L704.2 477.6L705.2 479.1L706.2 478L707.2 479.7L708.2 479.1L709.2 480.8L710.2 479.9L711.2 481.1L712.2 480.6L713.2 481.8L714.2 480.6L715.2 482.3L716.2 481.3L717.2 482.4L718.2 481.8L719.2 483L720.2 482.3L721.2 483.6L722.2 482.7L723.2 484.7L724.2 484.1L725.2 485.5L726.2 484.8L727.2 486.5L728.2 486.3L729.2 488.4L730.2 488.1L731.2 490L732.2 490.2L733.2 492.7L734.2 492.5L735.2 494.5L736.2 494.2L737.2 495.8L738.2 495.6L739.2 497.5L740.2 497L741.2 498.9L742.2 498.9L743.2 500.7L744.2 500.2L745.2 501.5L746.2 500.6L747.2 502.7L748.2 502L749.2 503.9L750.2 502.8L751.2 504.2L752.2 503.5L753.2 504.8L754.2 504.2L755.2 506.1L756.2 505L757.2 506.8L758.2 506.5L759.2 508.4L760.2 507.9L761.2 509.5L762.2 508.3L763.2 510L764.2 509.5L765.2 510.8L766.2 510L767.2 511.3L768.2 510.8L769.2 512.2L770.2 511.5L771.2 513.3L772.2 512.9L773.2 514.3L774.2 513.5L775.2 515.1L776.2 514.1L777.2 516L778.2 515.4L779.2 516.9L780.2 516.2L781.2 517.5L782.2 517.2L783.2 518.3L784.2 517.3L785.2 518.2L786.2 517L787.2 517.2L788.2 515L789.2 515.8L790.2 515.6L791.2 518.3L792.2 518.2L793.2 520.4L794.2 519.5L795.2 520.5L796.2 519.1L797.2 520.2L798.2 518.9L799.2 520.2L800.2 518.9L801.2 520.2L802.2 518.7L803.2 519.6L804.2 518.1L805.2 518.9L806.2 516.9L807.2 516.6L808.2 514.3L809.2 513.9L810.2 513.5L811.2 516.1L812.2 516.3L813.2 519L814.2 517.8L815.2 518.9L816.2 517.5L817.2 518.3L818.2 517.3L819.2 518.1L820.2 516.5L821.2 517.4L822.2 516.1L823.2 516.8L824.2 515.8L825.2 516.9L826.2 515.7L827.2 516.8L828.2 515.5L829.2 516.9L830.2 515.6L831.2 517.1L832.2 515.8L833.2 516.9L834.2 515.9L835.2 517L836.2 516.6L837.2 517.4L838.2 516.2L839.2 517.3L840.2 516.7L841.2 517.8L842.2 516.8L843.2 516.4L844.2 514L845.2 513.6L846.2 511L847.2 510.7L848.2 509L849.2 510.6L850.2 509.9L851.2 511.2L852.2 510.5L853.2 511.9L854.2 509.8L855.2 510.5L856.2 508.7L857.2 509.7L858.2 507.8L859.2 508.3L860.2 506.7L861.2 507.3L862.2 506.2L863.2 507.5L864.2 506.5L865.2 508L866.2 507L867.2 505.8L868.2 501.4L869.2 500L870.2 497.9L871.2 497.4L872.2 494.5L873.2 494.5L874.2 492.3L875.2 492.3L876.2 489.8L877.2 489.5L878.2 487.1L879.2 487L880.2 484.1L881.2 483.7L882.2 481.3L883.2 481L884.2 478L885.2 477.7L886.2 475L887.2 474.9L888.2 472.7L889.2 472.6L890.2 470.1L891.2 470.1L892.2 468L893.2 467.7L894.2 465.9L895.2 466.3L896.2 464.1L897.2 464.5L898.2 462.5L899.2 462.8L900.2 461.1L901.2 461.3L902.2 459.8L903.2 460.5L904.2 459.3L905.2 460L906.2 458.3L907.2 459.2L908.2 458.2L909.2 459.5L910.2 457.9L911.2 459.7L912.2 459.3L913.2 461L914.2 460.5L915.2 461.6L916.2 460.9L917.2 462.2L918.2 461.4L919.2 463L920.2 463.1L921.2 465.2L922.2 464.7L923.2 466.7L924.2 466L925.2 467.7L926.2 467.5L927.2 469.1L928.2 468.4L929.2 469.3L930.2 468.4L931.2 470L932.2 469.3L933.2 470.5L934.2 469.7L935.2 471.4L936.2 470.7L937.2 472.2L938.2 471.8L939.2 473L940.2 472.3L941.2 474.2L942.2 473.5L943.2 475L944.2 474L945.2 475.1L946.2 474.1L947.2 475L948.2 474L949.2 475.1L950.2 474L951.2 475L952.2 474.2L953.2 475.8L954.2 474.8L955.2 476.2L956.2 475.2L957.2 476.4L958.2 475.6L959.2 476.8L960.2 475.7L961.2 476.9L962.2 475.9L963.2 477.2L964.2 477.5L965.2 480L966.2 480L967.2 482.3L968.2 482.7L969.2 483.9L970.2 482.7L971.2 483.4L972.2 481.7L973.2 482.6L974.2 481.5L975.2 482.7L976.2 482.2L977.2 483.4L978.2 482.8L979.2 484.8L980.2 484.1L981.2 485.8L982.2 485.2L983.2 486.7L984.2 485.9L985.2 487.7L986.2 487.2L987.2 488.5L988.2 487.8L989.2 489L990.2 488.4L991.2 490.1L992.2 489.7L993.2 491.4L994.2 491.3L995.2 493.1L996.2 492.6L997.2 494.7L998.2 493.6L999.2 494.3L1000.2 493.3L1001.2 494.6L1002.2 493.3L1003.2 494.3L1004.2 493.9L1005.2 495.7L1006.2 495.1L1007.2 496.9L1008.2 496.6L1009.2 498.5L1010.2 498.1L1011.2 500.2L1012.2 499.3L1013.2 501.1L1014.2 500.6L1015.2 502L1016.2 501.7L1017.2 503.5L1018.2 502.9L1019.2 505.1L1020.2 504.4L1021.2 505.7L1022.2 504.4L1023.2 505.1L1024.2 504.6L1025.2 505.9L1026.2 504.9L1027.2 506.2L1028.2 505.4L1029.2 506.6L1030.2 505.6L1031.2 506.4L1032.2 504.9L1033.2 506.2L1034.2 505.1L1035.2 506.2L1036.2 505L1037.2 505.9L1038.2 504.5L1039.2 506.2L1040.2 506L1041.2 507.7L1042.2 507.3L1043.2 509.1L1044.2 509L1045.2 510.7L1046.2 510.1L1047.2 511.3L1048.2 510.4L1049.2 511.9L1050.2 511L1051.2 512.6L1052.2 511.5L1053.2 513.1L1054.2 512.3L1055.2 513.6L1056.2 512.9L1057.2 514.4L1058.2 513.7L1059.2 515.1L1060.2 514.3L1061.2 516L1062.2 515.4L1063.2 516.7L1064.2 515.6L1065.2 517L1066.2 515.9L1067.2 516.9L1068.2 515.3L1069.2 516.2L1070.2 515.6L1071.2 516.9L1072.2 515.3L1073.2 516.5L1074.2 515.3L1075.2 516.2L1076.2 515.5L1077.2 517L1078.2 516.6L1079.2 517.9L1080.2 517.2L1081.2 519.2L1082.2 518.4L1083.2 520L1084.2 519.2L1085.2 520.8L1086.2 519.6L1087.2 520.8L1088.2 519.8L1089.2 521L1090.2 520.4L1091.2 521.6L1092.2 521L1093.2 521.8L1094.2 520.7L1095.2 522.6L1096.2 521.2L1097.2 522.6L1098.2 520.9L1099.2 522.1L1100.2 521.4L1101.2 522.7L1102.2 521.4L1103.2 522L1104.2 520.9L1105.2 522.3L1106.2 521.6L1107.2 522.7L1108.2 521.5L1109.2 522.7L1110.2 521.7L1111.2 522.7L1112.2 521.9L1113.2 523.1L1114.2 521.9L1115.2 522.7L1116.2 521.7L1117.2 523.1L1118.2 522L1119.2 523.1L1120.2 521.9L1121.2 522.6L1122.2 521.3L1123.2 522.3L1124.2 521.3L1125.2 522.3L1126.2 521.2L1127.2 522L1128.2 520.9L1129.2 521.7L1130.2 520.6L1131.2 521.6L1132.2 520.5L1133 520.5" fill="none" stroke="#008CAF" stroke-width="4.5" stroke-linejoin="round" stroke-linecap="butt"/>
<path d="M246 321.6L247.2 321.6L248.2 320L249.2 320.5L250.2 319L251.2 320L252.2 318.7L253.2 319.5L254.2 318L255.2 319L256.2 317.7L257.2 319.3L258.2 318.5L259.2 320L260.2 319.5L261.2 320.5L262.2 319.1L263.2 319.8L264.2 318.4L265.2 319.1L266.2 317.4L267.2 318.2L268.2 316.8L269.2 317.5L270.2 315.9L271.2 316.7L272.2 315.1L273.2 315.7L274.2 314.1L275.2 314.7L276.2 313.3L277.2 313.9L278.2 311.6L279.2 311.7L280.2 309.5L281.2 309.3L282.2 307L283.2 307.2L284.2 305L285.2 305.1L286.2 303L287.2 302.7L288.2 300.3L289.2 300.1L290.2 298.3L291.2 297.9L292.2 295.6L293.2 295.8L294.2 293.8L295.2 293.7L296.2 291.5L297.2 291.4L298.2 289.5L299.2 289.7L300.2 287.9L301.2 288.7L302.2 287.3L303.2 287.4L304.2 285.8L305.2 286.2L306.2 284.6L307.2 285.1L308.2 283.6L309.2 284.1L310.2 282.4L311.2 282.8L312.2 281.1L313.2 281.7L314.2 280.1L315.2 281L316.2 279.3L317.2 279.8L318.2 278.1L319.2 278.2L320.2 276.6L321.2 277.3L322.2 276L323.2 276.3L324.2 274.8L325.2 275.4L326.2 274.1L327.2 274.9L328.2 273.6L329.2 274.2L330.2 272.3L331.2 273.1L332.2 272.4L333.2 273.7L334.2 272.9L335.2 274.2L336.2 273.5L337.2 274.1L338.2 272.9L339.2 273.1L340.2 271.6L341.2 272.1L342.2 270.2L343.2 270.5L344.2 268.7L345.2 269.3L346.2 268.2L347.2 269.7L348.2 268.5L349.2 270.4L350.2 269.5L351.2 270.7L352.2 268.2L353.2 268.3L354.2 266L355.2 266.1L356.2 263.9L357.2 263.9L358.2 262.3L359.2 263L360.2 261.5L361.2 262.2L362.2 261L363.2 261.7L364.2 260.2L365.2 260.8L366.2 259.9L367.2 261.2L368.2 260.6L369.2 261.7L370.2 261L371.2 262.2L372.2 262L373.2 264.6L374.2 264.7L375.2 267.8L376.2 268.6L377.2 271.6L378.2 272.2L379.2 274.2L380.2 274.2L381.2 276.7L382.2 276.5L383.2 278.7L384.2 278.7L385.2 280.5L386.2 280.5L387.2 282.3L388.2 281.9L389.2 284.1L390.2 283.6L391.2 285.7L392.2 285.9L393.2 288.1L394.2 288.2L395.2 290.6L396.2 291.2L397.2 292.8L398.2 291.9L399.2 293.7L400.2 292.7L401.2 294.1L402.2 293.2L403.2 295L404.2 294.5L405.2 295.9L406.2 295.7L407.2 297.5L408.2 297.1L409.2 298.9L410.2 298.2L411.2 299.7L412.2 299.1L413.2 300.8L414.2 299.5L415.2 301L416.2 299.8L417.2 301.6L418.2 300.3L419.2 301.7L420.2 302.3L421.2 304.9L422.2 305.2L423.2 307.4L424.2 307L425.2 309.5L426.2 310L427.2 312.8L428.2 313.2L429.2 315.8L430.2 316.4L431.2 319.5L432.2 319.3L433.2 320.9L434.2 320.1L435.2 321.6L436.2 321L437.2 322.3L438.2 321.9L439.2 323.4L440.2 322.7L441.2 324.5L442.2 323.9L443.2 325.3L444.2 324.2L445.2 325.7L446.2 324.9L447.2 326.4L448.2 325.2L449.2 326.5L450.2 325.6L451.2 326.7L452.2 325.5L453.2 327.1L454.2 325.6L455.2 327L456.2 326.3L457.2 327L458.2 325.9L459.2 327.1L460.2 325.9L461.2 327.4L462.2 326.4L463.2 327.6L464.2 326.8L465.2 327.6L466.2 326.9L467.2 328.3L468.2 327.4L469.2 328.5L470.2 327.3L471.2 328.8L472.2 327.8L473.2 329.2L474.2 328.2L475.2 329.3L476.2 327.7L477.2 328.4L478.2 327L479.2 327.4L480.2 325.6L481.2 326.3L482.2 325L483.2 326.4L484.2 325.4L485.2 326.6L486.2 325.4L487.2 326.5L488.2 325.6L489.2 326.8L490.2 325.5L491.2 326.9L492.2 325.7L493.2 326.6L494.2 326L495.2 326.9L496.2 326L497.2 326.3L498.2 325.2L499.2 325.6L500.2 324.3L501.2 325.3L502.2 323.9L503.2 324.3L504.2 322.7L505.2 323.7L506.2 322.6L507.2 324.1L508.2 322.4L509.2 323.8L510.2 322.3L511.2 323.1L512.2 321.9L513.2 322.9L514.2 321.5L515.2 323.4L516.2 322.4L517.2 323.6L518.2 322.8L519.2 324.3L520.2 323.7L521.2 324.8L522.2 324.5L523.2 325.5L524.2 324.4L525.2 325.8L526.2 324.8L527.2 326.3L528.2 325.1L529.2 326.6L530.2 325.4L531.2 326.3L532.2 325L533.2 325.7L534.2 324.6L535.2 325.9L536.2 324.8L537.2 326.2L538.2 325L539.2 326L540.2 325L541.2 326L542.2 324.6L543.2 325.5L544.2 324.4L545.2 325.5L546.2 324L547.2 324.5L548.2 323.1L549.2 324.5L550.2 322.8L551.2 323.9L552.2 322.8L553.2 323.7L554.2 322.1L555.2 323L556.2 321.5L557.2 322.2L558.2 320.6L559.2 321.3L560.2 319.4L561.2 320L562.2 318.4L563.2 319.2L564.2 317.3L565.2 318L566.2 316.3L567.2 316.9L568.2 315.4L569.2 315.9L570.2 314.6L571.2 315.3L572.2 313.6L573.2 314.7L574.2 313.3L575.2 313.8L576.2 312.3L577.2 313L578.2 311.8L579.2 312.7L580.2 311.3L581.2 312.4L582.2 311L583.2 311.4L584.2 309.9L585.2 310.3L586.2 309L587.2 309.9L588.2 308.3L589.2 309.1L590.2 307.5L591.2 308.8L592.2 307.4L593.2 308.2L594.2 306.9L595.2 307.7L596.2 306.4L597.2 307.1L598.2 306L599.2 306.7L600.2 305L601.2 305.5L602.2 304.2L603.2 305L604.2 303.1L605.2 303.9L606.2 302.5L607.2 302.9L608.2 301.1L609.2 301.6L610.2 300L611.2 300.5L612.2 298.7L613.2 299.6L614.2 298L615.2 298.5L616.2 297.2L617.2 297.6L618.2 296.3L619.2 297.2L620.2 296L621.2 297L622.2 296L623.2 297L624.2 296L625.2 297L626.2 295.3L627.2 296.1L628.2 296L629.2 297.6L630.2 297.2L631.2 299.2L632.2 299.2L633.2 301L634.2 300.7L635.2 302.6L636.2 302L637.2 303.6L638.2 302.6L639.2 304.2L640.2 303.3L641.2 304.7L642.2 304L643.2 305.5L644.2 305L645.2 305.9L646.2 304.9L647.2 306L648.2 304.9L649.2 306.1L650.2 305.2L651.2 306.1L652.2 305L653.2 306.3L654.2 305.3L655.2 305.8L656.2 303.6L657.2 304.1L658.2 302.4L659.2 302.9L660.2 300.8L661.2 301L662.2 299.2L663.2 299.7L664.2 298L665.2 298.3L666.2 296.5L667.2 296.8L668.2 295.1L669.2 295.9L670.2 294.6L671.2 294.9L672.2 293.1L673.2 294L674.2 293.6L675.2 294.7L676.2 293.8L677.2 295.4L678.2 294.7L679.2 295.8L680.2 294.6L681.2 295.6L682.2 294.3L683.2 295L684.2 293.3L685.2 294L686.2 292.3L687.2 293.2L688.2 291.6L689.2 292.2L690.2 290.5L691.2 291.5L692.2 289.7L693.2 290.3L694.2 288.5L695.2 289L696.2 287.8L697.2 288.7L698.2 287.1L699.2 288L700.2 286.6L701.2 287.1L702.2 285.6L703.2 286L704.2 284.6L705.2 285.2L706.2 283.2L707.2 283.8L708.2 282.4L709.2 283.3L710.2 281.3L711.2 282.2L712.2 280.2L713.2 281.4L714.2 279.9L715.2 280.7L716.2 279.5L717.2 280.2L718.2 278.9L719.2 279.1L720.2 278L721.2 278.3L722.2 277.1L723.2 277.9L724.2 276.9L725.2 277.7L726.2 277.4L727.2 279.6L728.2 279.1L729.2 281L730.2 280.8L731.2 282.8L732.2 282.7L733.2 285.4L734.2 285.2L735.2 286.7L736.2 287L737.2 289.5L738.2 289.4L739.2 291.7L740.2 291.3L741.2 293.7L742.2 293.6L743.2 295.3L744.2 295.5L745.2 297.2L746.2 297.2L747.2 299.5L748.2 299.3L749.2 301L750.2 301L751.2 302.7L752.2 302.5L753.2 304L754.2 303.4L755.2 305.5L756.2 305.3L757.2 306.9L758.2 306.1L759.2 307.5L760.2 307.1L761.2 308.8L762.2 308.3L763.2 310.2L764.2 309.2L765.2 310.7L766.2 310.4L767.2 311.9L768.2 311.6L769.2 313.4L770.2 312.8L771.2 314.8L772.2 314L773.2 315.6L774.2 314.9L775.2 316.7L776.2 315.9L777.2 317.8L778.2 317.4L779.2 318.9L780.2 317.7L781.2 319.2L782.2 318.7L783.2 319.8L784.2 319.2L785.2 320.8L786.2 319.9L787.2 321.3L788.2 320.5L789.2 321.9L790.2 320.6L791.2 322.2L792.2 321.5L793.2 322.9L794.2 322L795.2 323.3L796.2 322.3L797.2 323.3L798.2 322.6L799.2 323.9L800.2 322.8L801.2 324.2L802.2 323.1L803.2 324.3L804.2 323.1L805.2 324.4L806.2 323.8L807.2 325L808.2 323.9L809.2 324.9L810.2 324.1L811.2 325.3L812.2 323.9L813.2 324.6L814.2 322.7L815.2 324.3L816.2 322.8L817.2 323.1L818.2 322.2L819.2 322.9L820.2 321.8L821.2 322.2L822.2 320.4L823.2 321.4L824.2 320L825.2 320.9L826.2 319.4L827.2 320.5L828.2 319.1L829.2 320L830.2 319L831.2 319.8L832.2 318.3L833.2 319.5L834.2 317.8L835.2 319.1L836.2 317.7L837.2 318.4L838.2 317.2L839.2 318.3L840.2 316.7L841.2 317.6L842.2 316.2L843.2 316.8L844.2 315.1L845.2 315.8L846.2 314.2L847.2 315.6L848.2 314.3L849.2 315L850.2 314L851.2 315.1L852.2 314L853.2 315.2L854.2 313.5L855.2 314.1L856.2 312.4L857.2 313.5L858.2 311.8L859.2 312.3L860.2 310.8L861.2 313.1L862.2 313L863.2 314.9L864.2 314.5L865.2 316.8L866.2 314.7L867.2 315.1L868.2 313.2L869.2 313.6L870.2 311.6L871.2 312.2L872.2 310.4L873.2 310.9L874.2 309.1L875.2 309.3L876.2 308.1L877.2 308.5L878.2 306.4L879.2 307.1L880.2 305.8L881.2 306.6L882.2 304.9L883.2 305.7L884.2 304.4L885.2 305.7L886.2 303.9L887.2 304.8L888.2 303.5L889.2 304.5L890.2 303.3L891.2 304.2L892.2 302.8L893.2 303.7L894.2 302.2L895.2 302.6L896.2 301.6L897.2 302L898.2 300.9L899.2 301.2L900.2 299.9L901.2 300.7L902.2 299.5L903.2 300.4L904.2 298.6L905.2 299.1L906.2 297.8L907.2 298.4L908.2 296.6L909.2 297.2L910.2 295.5L911.2 296.2L912.2 294.2L913.2 294L914.2 291.5L915.2 291.1L916.2 288.7L917.2 288.5L918.2 285.9L919.2 285.6L920.2 282.8L921.2 281.9L922.2 278.6L923.2 277.8L924.2 274.4L925.2 273.3L926.2 269.9L927.2 269L928.2 265.6L929.2 264.5L930.2 260.9L931.2 260.1L932.2 257.1L933.2 256.2L934.2 253.3L935.2 252.3L936.2 249.1L937.2 248L938.2 244.4L939.2 243.1L940.2 239.4L941.2 238.5L942.2 235.2L943.2 234.1L944.2 230.9L945.2 230.8L946.2 228L947.2 227.6L948.2 224.4L949.2 224L950.2 221.9L951.2 222.5L952.2 220.5L953.2 221.2L954.2 219.5L955.2 220.1L956.2 218.8L957.2 220L958.2 219.1L959.2 220L960.2 219.2L961.2 220.6L962.2 218.8L963.2 219.8L964.2 218.9L965.2 220.6L966.2 220.4L967.2 222.2L968.2 221.7L969.2 223.4L970.2 223.1L971.2 224.5L972.2 223.7L973.2 225.8L974.2 225.4L975.2 227.6L976.2 227.9L977.2 229.8L978.2 229.5L979.2 231.2L980.2 230.9L981.2 232.7L982.2 232.9L983.2 234.8L984.2 234.2L985.2 236.5L986.2 235.9L987.2 237.9L988.2 237.9L989.2 239.8L990.2 240.4L991.2 243.2L992.2 243.4L993.2 246.4L994.2 247.1L995.2 250.4L996.2 250.7L997.2 253.4L998.2 254.1L999.2 256.7L1000.2 257.4L1001.2 259.9L1002.2 259.8L1003.2 261.7L1004.2 262.1L1005.2 264.3L1006.2 264.3L1007.2 266.7L1008.2 267L1009.2 268.9L1010.2 268.8L1011.2 271.1L1012.2 271.2L1013.2 273.9L1014.2 273.7L1015.2 276.1L1016.2 275.9L1017.2 277.8L1018.2 277.9L1019.2 280.1L1020.2 280.4L1021.2 282.9L1022.2 282.8L1023.2 285.3L1024.2 284.8L1025.2 287.4L1026.2 287.3L1027.2 289.5L1028.2 289.3L1029.2 291.6L1030.2 291.5L1031.2 293.9L1032.2 294L1033.2 296.2L1034.2 296.5L1035.2 298.2L1036.2 298L1037.2 299.7L1038.2 299.6L1039.2 301.1L1040.2 300.6L1041.2 302.3L1042.2 302.3L1043.2 304.2L1044.2 303.9L1045.2 306.2L1046.2 305.9L1047.2 308.1L1048.2 307.7L1049.2 310L1050.2 309.5L1051.2 311.4L1052.2 311.1L1053.2 313.4L1054.2 313.3L1055.2 315L1056.2 314.8L1057.2 316.5L1058.2 316.1L1059.2 317.3L1060.2 317.1L1061.2 318.8L1062.2 318.3L1063.2 319.4L1064.2 318.9L1065.2 319.9L1066.2 319.4L1067.2 320.7L1068.2 320.2L1069.2 321.8L1070.2 321.3L1071.2 322.9L1072.2 321.7L1073.2 323.2L1074.2 322.3L1075.2 323.8L1076.2 322.6L1077.2 324L1078.2 323.2L1079.2 324.5L1080.2 323.7L1081.2 325L1082.2 324.1L1083.2 325.5L1084.2 324.4L1085.2 325.6L1086.2 324.7L1087.2 326.2L1088.2 324.9L1089.2 326L1090.2 325L1091.2 326.8L1092.2 325.7L1093.2 327.1L1094.2 326.3L1095.2 328L1096.2 327.3L1097.2 328.3L1098.2 327.1L1099.2 328L1100.2 327.3L1101.2 328.7L1102.2 327.8L1103.2 328.6L1104.2 327.6L1105.2 329L1106.2 328.1L1107.2 328.9L1108.2 327.9L1109.2 329.1L1110.2 327.8L1111.2 329.1L1112.2 327.9L1113.2 329.3L1114.2 328L1115.2 329.1L1116.2 328.1L1117.2 329.1L1118.2 328.2L1119.2 329.1L1120.2 327.8L1121.2 329L1122.2 327.8L1123.2 329L1124.2 328L1125.2 328.9L1126.2 327.5L1127.2 328.9L1128.2 327.9L1129.2 329L1130.2 327.8L1131.2 328.2L1132.2 327.6L1133 327.6" fill="none" stroke="#FA48FF" stroke-width="4.5" stroke-linejoin="round" stroke-linecap="butt"/>
<path d="M246 248.6L247.2 248.6L248.2 247.3L249.2 248.6L250.2 247.5L251.2 248.1L252.2 247.1L253.2 248.2L254.2 246.9L255.2 248.1L256.2 247L257.2 247.9L258.2 246.8L259.2 247.7L260.2 246.7L261.2 247.6L262.2 246.8L263.2 247.7L264.2 246.3L265.2 247L266.2 245.8L267.2 246.4L268.2 245.2L269.2 246L270.2 244.5L271.2 245.2L272.2 243.8L273.2 244.9L274.2 243.6L275.2 244.6L276.2 242.3L277.2 242.8L278.2 241.2L279.2 241.5L280.2 239.3L281.2 239.4L282.2 237.4L283.2 237.4L284.2 236L285.2 236.2L286.2 234.2L287.2 235L288.2 233.1L289.2 233.4L290.2 231.4L291.2 231.9L292.2 230.3L293.2 230.9L294.2 229.4L295.2 230.1L296.2 228.8L297.2 229.6L298.2 227.9L299.2 228.9L300.2 227.5L301.2 228.4L302.2 227L303.2 227.7L304.2 226.5L305.2 227.3L306.2 226.1L307.2 226.6L308.2 225.5L309.2 226.4L310.2 224.9L311.2 226L312.2 224.5L313.2 225.1L314.2 223.7L315.2 224.7L316.2 223.2L317.2 223.6L318.2 222.1L319.2 222.8L320.2 221.8L321.2 222.7L322.2 221.3L323.2 221.9L324.2 220.5L325.2 221.9L326.2 220.6L327.2 222.1L328.2 220.9L329.2 221.9L330.2 220.8L331.2 221.8L332.2 220.5L333.2 221.5L334.2 220.3L335.2 221.8L336.2 220.5L337.2 221.5L338.2 220.8L339.2 221.8L340.2 220.5L341.2 221.7L342.2 220.5L343.2 222L344.2 221.7L345.2 223.3L346.2 222.4L347.2 223.4L348.2 223.1L349.2 224.7L350.2 224L351.2 224.5L352.2 223L353.2 223.6L354.2 222.2L355.2 222.8L356.2 221.4L357.2 222.2L358.2 220.3L359.2 221L360.2 219.7L361.2 220.4L362.2 218.7L363.2 219.3L364.2 217.9L365.2 218.5L366.2 217L367.2 218.5L368.2 217.8L369.2 219.4L370.2 219L371.2 220.6L372.2 219.3L373.2 220.9L374.2 220.2L375.2 221.9L376.2 221L377.2 222.5L378.2 222L379.2 223.8L380.2 223.5L381.2 225.1L382.2 225.1L383.2 226.9L384.2 226.9L385.2 228.2L386.2 227.7L387.2 229.1L388.2 228.4L389.2 230.5L390.2 230L391.2 231.6L392.2 231.4L393.2 232.7L394.2 232.1L395.2 233.9L396.2 233.1L397.2 234.8L398.2 234L399.2 235.8L400.2 235.5L401.2 236.6L402.2 235.8L403.2 237.3L404.2 236.6L405.2 238.3L406.2 237.1L407.2 238.4L408.2 237.9L409.2 239.5L410.2 237.6L411.2 238.4L412.2 237.1L413.2 238L414.2 236.2L415.2 237.3L416.2 236.1L417.2 237.1L418.2 235.3L419.2 236.2L420.2 235.7L421.2 237.8L422.2 237.8L423.2 239.7L424.2 239.1L425.2 241L426.2 241.1L427.2 243L428.2 243L429.2 245L430.2 245.3L431.2 247.1L432.2 246.5L433.2 248.2L434.2 247.1L435.2 248.7L436.2 248.1L437.2 249.2L438.2 248L439.2 249.7L440.2 248.6L441.2 249.6L442.2 248.7L443.2 250.1L444.2 249.5L445.2 250.9L446.2 249.8L447.2 251L448.2 250L449.2 251.4L450.2 250.7L451.2 251.8L452.2 250.9L453.2 252.4L454.2 251.4L455.2 252.5L456.2 251.7L457.2 252.9L458.2 251.8L459.2 253.3L460.2 252.5L461.2 253.6L462.2 252.9L463.2 254.3L464.2 253.5L465.2 255L466.2 253.5L467.2 254.8L468.2 253.9L469.2 254.8L470.2 254.4L471.2 255.5L472.2 254.7L473.2 255.4L474.2 254.4L475.2 255.5L476.2 254.5L477.2 255.4L478.2 254.8L479.2 256.1L480.2 254.9L481.2 256.3L482.2 255L483.2 256.1L484.2 255.2L485.2 256.2L486.2 255.2L487.2 256L488.2 255.1L489.2 256.1L490.2 255.1L491.2 256.2L492.2 255.2L493.2 256.2L494.2 255.3L495.2 256.2L496.2 255.1L497.2 256.1L498.2 255L499.2 256L500.2 254.9L501.2 256.2L502.2 255.1L503.2 256.4L504.2 255L505.2 256.3L506.2 255.1L507.2 256.2L508.2 254.9L509.2 256.3L510.2 255.1L511.2 256L512.2 254.9L513.2 256.2L514.2 254.9L515.2 255.8L516.2 255L517.2 255.8L518.2 254.6L519.2 255.8L520.2 254.8L521.2 256.3L522.2 254.5L523.2 255.6L524.2 254.4L525.2 255.4L526.2 254.1L527.2 255.1L528.2 253.6L529.2 254.4L530.2 253.3L531.2 254.5L532.2 253.3L533.2 254.3L534.2 253.3L535.2 254.6L536.2 253.8L537.2 254.9L538.2 253.9L539.2 254.6L540.2 253.1L541.2 253.9L542.2 253L543.2 254.4L544.2 253.2L545.2 254.5L546.2 253.5L547.2 254.6L548.2 253.1L549.2 254.2L550.2 252.9L551.2 254.1L552.2 252.1L553.2 253.1L554.2 251.8L555.2 252.5L556.2 250.9L557.2 251.9L558.2 250.3L559.2 250.9L560.2 249.3L561.2 250.3L562.2 248.8L563.2 249.7L564.2 248L565.2 248.9L566.2 247.3L567.2 248.3L568.2 246.4L569.2 247.5L570.2 246.1L571.2 247L572.2 245.3L573.2 246.4L574.2 244.6L575.2 245.3L576.2 243.7L577.2 244.4L578.2 243.3L579.2 243.5L580.2 242.5L581.2 243L582.2 241.3L583.2 241.8L584.2 239.6L585.2 240L586.2 237.8L587.2 238L588.2 236L589.2 236.9L590.2 234.9L591.2 235.4L592.2 233.5L593.2 233.5L594.2 231.8L595.2 232.4L596.2 230.4L597.2 230.7L598.2 228.8L599.2 230.1L600.2 229.1L601.2 230.2L602.2 228.8L603.2 230.1L604.2 229.1L605.2 230.5L606.2 228.9L607.2 229.5L608.2 227.9L609.2 228L610.2 226.6L611.2 227.6L612.2 226.4L613.2 227.3L614.2 225.6L615.2 226.4L616.2 225L617.2 225.6L618.2 224L619.2 225.3L620.2 223.4L621.2 224.2L622.2 224L623.2 226.3L624.2 226.1L625.2 228.8L626.2 228.1L627.2 229.7L628.2 229.4L629.2 230.7L630.2 230.1L631.2 231.6L632.2 231.1L633.2 232.7L634.2 232L635.2 233.8L636.2 233.1L637.2 234.7L638.2 233.5L639.2 234.8L640.2 234.1L641.2 235.1L642.2 233.8L643.2 234.4L644.2 233.1L645.2 234.2L646.2 232.9L647.2 233.5L648.2 232.6L649.2 233.6L650.2 232.8L651.2 234.1L652.2 232.9L653.2 234.2L654.2 233.2L655.2 233L656.2 230.5L657.2 230.8L658.2 228.8L659.2 228.7L660.2 226.5L661.2 227.1L662.2 225.1L663.2 225.7L664.2 223.9L665.2 224.3L666.2 222.7L667.2 223.5L668.2 221.7L669.2 222.3L670.2 220.6L671.2 221.5L672.2 220.1L673.2 220.4L674.2 219.1L675.2 219.9L676.2 218.2L677.2 218.6L678.2 216.7L679.2 216.8L680.2 214.7L681.2 215L682.2 212.7L683.2 213.1L684.2 211.5L685.2 212.1L686.2 210.6L687.2 211.2L688.2 209.8L689.2 210.2L690.2 208.3L691.2 208.9L692.2 207.2L693.2 207.9L694.2 206.2L695.2 207L696.2 205.8L697.2 206.4L698.2 205L699.2 206.5L700.2 205.4L701.2 206.9L702.2 205.8L703.2 207.2L704.2 206.3L705.2 207.8L706.2 206.8L707.2 208L708.2 207L709.2 208.7L710.2 207.7L711.2 209.1L712.2 208.6L713.2 210.7L714.2 210.1L715.2 211.7L716.2 211.2L717.2 212.2L718.2 210.9L719.2 212.2L720.2 211.6L721.2 212.8L722.2 211.5L723.2 212.6L724.2 211.5L725.2 213.1L726.2 212.8L727.2 214.6L728.2 214.5L729.2 216.1L730.2 216.1L731.2 218.1L732.2 217.8L733.2 219.9L734.2 219.7L735.2 221.5L736.2 220.4L737.2 222.4L738.2 221.9L739.2 223.2L740.2 222.8L741.2 224.4L742.2 223.4L743.2 225.6L744.2 225.2L745.2 226.6L746.2 225.9L747.2 227.5L748.2 226.8L749.2 228.5L750.2 227.5L751.2 228.9L752.2 228.5L753.2 230.4L754.2 230L755.2 232L756.2 231.8L757.2 233.7L758.2 233.8L759.2 236.5L760.2 235.7L761.2 237L762.2 236.6L763.2 237.6L764.2 236.7L765.2 238.3L766.2 237.6L767.2 238.9L768.2 237.9L769.2 239.2L770.2 238.3L771.2 240L772.2 239.6L773.2 241.3L774.2 240.6L775.2 242.8L776.2 242.3L777.2 243.7L778.2 243L779.2 244.9L780.2 244L781.2 245.2L782.2 244L783.2 244.6L784.2 243.5L785.2 244.5L786.2 242.8L787.2 243.8L788.2 243.1L789.2 245L790.2 244.9L791.2 246.9L792.2 246.6L793.2 248.6L794.2 248.3L795.2 250.1L796.2 249.3L797.2 250.2L798.2 249.1L799.2 250.3L800.2 249.4L801.2 250.6L802.2 249.2L803.2 250.6L804.2 249.8L805.2 250.8L806.2 247.6L807.2 246.6L808.2 243.5L809.2 242.7L810.2 241.5L811.2 244.2L812.2 244.6L813.2 247.1L814.2 246.3L815.2 247.4L816.2 245.9L817.2 246.8L818.2 245.5L819.2 246.9L820.2 245.5L821.2 246.4L822.2 245.6L823.2 246.7L824.2 245.4L825.2 246.5L826.2 245.5L827.2 246.8L828.2 246.3L829.2 247.5L830.2 246.2L831.2 247.2L832.2 246.4L833.2 247.4L834.2 246.3L835.2 247.8L836.2 246.3L837.2 247.5L838.2 246.5L839.2 247.8L840.2 246.9L841.2 248.1L842.2 246.7L843.2 246L844.2 242.7L845.2 241.5L846.2 238.2L847.2 238.3L848.2 237.6L849.2 238.9L850.2 238.3L851.2 239.6L852.2 238.8L853.2 240.5L854.2 239.8L855.2 241.2L856.2 239.7L857.2 240.7L858.2 239.2L859.2 239.8L860.2 238.7L861.2 239.2L862.2 237.7L863.2 238.5L864.2 237.2L865.2 238.2L866.2 235.8L867.2 235.2L868.2 232.8L869.2 232.3L870.2 229.5L871.2 229L872.2 227L873.2 227.6L874.2 226L875.2 225.9L876.2 223.9L877.2 224.1L878.2 221.9L879.2 221.8L880.2 219.7L881.2 220.2L882.2 218.6L883.2 218.6L884.2 216.6L885.2 217L886.2 215.3L887.2 215.6L888.2 213.9L889.2 214.9L890.2 213.9L891.2 214.9L892.2 213.8L893.2 215L894.2 213.8L895.2 214.9L896.2 214L897.2 215.4L898.2 214.4L899.2 215.6L900.2 214.4L901.2 215.9L902.2 214.5L903.2 215.8L904.2 214.5L905.2 215.9L906.2 215.2L907.2 216.3L908.2 215.2L909.2 216.3L910.2 215L911.2 216.4L912.2 215.5L913.2 216.3L914.2 214.9L915.2 216L916.2 215.1L917.2 216L918.2 214.9L919.2 216L920.2 214.6L921.2 215.5L922.2 214.4L923.2 215.5L924.2 214.2L925.2 215.3L926.2 214.2L927.2 215.1L928.2 212.9L929.2 213.1L930.2 211L931.2 211.3L932.2 208.9L933.2 209.2L934.2 206.9L935.2 207.3L936.2 205.5L937.2 206L938.2 203.9L939.2 204L940.2 202.2L941.2 203L942.2 201.4L943.2 202.1L944.2 200.4L945.2 201.4L946.2 200L947.2 200.9L948.2 199.2L949.2 199.9L950.2 198.2L951.2 198.5L952.2 196.7L953.2 197.9L954.2 196.5L955.2 197.4L956.2 195.8L957.2 196.7L958.2 195.4L959.2 196.4L960.2 195.3L961.2 196.2L962.2 194.9L963.2 195.2L964.2 194.6L965.2 197.7L966.2 198.4L967.2 201.8L968.2 202.8L969.2 206.3L970.2 204.1L971.2 204.3L972.2 202.2L973.2 202.6L974.2 200.7L975.2 202.4L976.2 202L977.2 204.4L978.2 204.3L979.2 206.5L980.2 206.2L981.2 207.9L982.2 207.6L983.2 208.7L984.2 207.9L985.2 209.4L986.2 208.7L987.2 210.5L988.2 209.7L989.2 211.5L990.2 211.8L991.2 214.5L992.2 214.3L993.2 216.3L994.2 216.8L995.2 218.5L996.2 217.3L997.2 218.4L998.2 217.2L999.2 217.9L1000.2 217.8L1001.2 219.3L1002.2 219.1L1003.2 221L1004.2 220.3L1005.2 222.2L1006.2 221.8L1007.2 223.7L1008.2 223.8L1009.2 226.1L1010.2 226L1011.2 228.4L1012.2 228.1L1013.2 230.6L1014.2 230.4L1015.2 231.8L1016.2 230.6L1017.2 231.8L1018.2 231.2L1019.2 232.5L1020.2 232.5L1021.2 235.3L1022.2 235.9L1023.2 238.7L1024.2 238.5L1025.2 239.6L1026.2 237.7L1027.2 238.4L1028.2 237.3L1029.2 238.3L1030.2 236.8L1031.2 237.9L1032.2 236.5L1033.2 238.5L1034.2 237.9L1035.2 239.8L1036.2 239.3L1037.2 241.1L1038.2 240.6L1039.2 242.1L1040.2 241.7L1041.2 244L1042.2 243.9L1043.2 246.2L1044.2 246.4L1045.2 248.9L1046.2 248.4L1047.2 249.9L1048.2 248.9L1049.2 249.8L1050.2 249.2L1051.2 250.7L1052.2 249.8L1053.2 251.1L1054.2 250.3L1055.2 252.2L1056.2 251.8L1057.2 253.7L1058.2 253.1L1059.2 255L1060.2 254.7L1061.2 256L1062.2 254.3L1063.2 254.7L1064.2 253L1065.2 254.1L1066.2 252.3L1067.2 253L1068.2 250.9L1069.2 251.3L1070.2 249.6L1071.2 250L1072.2 248.4L1073.2 249.2L1074.2 248.2L1075.2 249L1076.2 248.3L1077.2 250.2L1078.2 250.2L1079.2 251.8L1080.2 251.5L1081.2 253.4L1082.2 252.7L1083.2 253.7L1084.2 252.8L1085.2 254L1086.2 253L1087.2 253.8L1088.2 252.9L1089.2 253.9L1090.2 253.1L1091.2 254.6L1092.2 254L1093.2 254.6L1094.2 253.9L1095.2 254.8L1096.2 253.9L1097.2 255.2L1098.2 254.1L1099.2 255.1L1100.2 253.9L1101.2 255.2L1102.2 254.2L1103.2 255.3L1104.2 254.3L1105.2 255.4L1106.2 254.3L1107.2 255.3L1108.2 254.5L1109.2 255.6L1110.2 254.7L1111.2 255.8L1112.2 254.6L1113.2 255.7L1114.2 254.9L1115.2 255.9L1116.2 254.8L1117.2 255.6L1118.2 254.3L1119.2 255.4L1120.2 254.4L1121.2 255.8L1122.2 254.1L1123.2 254.9L1124.2 253.9L1125.2 255.2L1126.2 253.9L1127.2 255.3L1128.2 254.1L1129.2 255.5L1130.2 254.5L1131.2 255.6L1132.2 254.4L1133 254.4" fill="none" stroke="#A900BD" stroke-width="4.5" stroke-linejoin="round" stroke-linecap="butt"/>
</g>
<text transform="translate(346.5 1743.4) scale(1 1.045)" font-size="67.8" text-anchor="middle" stroke="#000" stroke-width="0.60" stroke-linejoin="round">900</text>
<text transform="translate(547.0 1743.4) scale(1 1.045)" font-size="67.8" text-anchor="middle" stroke="#000" stroke-width="0.60" stroke-linejoin="round">1200</text>
<text transform="translate(747.5 1743.4) scale(1 1.045)" font-size="67.8" text-anchor="middle" stroke="#000" stroke-width="0.60" stroke-linejoin="round">1500</text>
<text transform="translate(948.0 1743.4) scale(1 1.045)" font-size="67.8" text-anchor="middle" stroke="#000" stroke-width="0.60" stroke-linejoin="round">1800</text>
<text transform="translate(1148.5 1743.4) scale(1 1.045)" font-size="67.8" text-anchor="middle" stroke="#000" stroke-width="0.60" stroke-linejoin="round">2100</text>
<text transform="translate(1349.0 1743.4) scale(1 1.045)" font-size="67.8" text-anchor="middle" stroke="#000" stroke-width="0.60" stroke-linejoin="round">2400</text>
<text transform="translate(1549.5 1743.4) scale(1 1.045)" font-size="67.8" text-anchor="middle" stroke="#000" stroke-width="0.60" stroke-linejoin="round">2700</text>
<text transform="translate(1750.0 1743.4) scale(1 1.045)" font-size="67.8" text-anchor="middle" stroke="#000" stroke-width="0.60" stroke-linejoin="round">3000</text>
<text transform="translate(1950.5 1743.4) scale(1 1.045)" font-size="67.8" text-anchor="middle" stroke="#000" stroke-width="0.60" stroke-linejoin="round">3300</text>
<text transform="translate(2151.0 1743.4) scale(1 1.045)" font-size="67.8" text-anchor="middle" stroke="#000" stroke-width="0.60" stroke-linejoin="round">3600</text>
<text transform="translate(2351.5 1743.4) scale(1 1.045)" font-size="67.8" text-anchor="middle" stroke="#000" stroke-width="0.60" stroke-linejoin="round">3900</text>
<text transform="translate(302.7 725.0) scale(1 1.060)" font-size="26.8" text-anchor="middle" stroke="#000" stroke-width="0.25" stroke-linejoin="round">1050</text>
<text transform="translate(468.9 725.0) scale(1 1.060)" font-size="26.8" text-anchor="middle" stroke="#000" stroke-width="0.25" stroke-linejoin="round">1200</text>
<text transform="translate(635.0 725.0) scale(1 1.060)" font-size="26.8" text-anchor="middle" stroke="#000" stroke-width="0.25" stroke-linejoin="round">1350</text>
<text transform="translate(801.2 725.0) scale(1 1.060)" font-size="26.8" text-anchor="middle" stroke="#000" stroke-width="0.25" stroke-linejoin="round">1500</text>
<text transform="translate(967.4 725.0) scale(1 1.060)" font-size="26.8" text-anchor="middle" stroke="#000" stroke-width="0.25" stroke-linejoin="round">1650</text>
<text transform="translate(1133.5 725.0) scale(1 1.060)" font-size="26.8" text-anchor="middle" stroke="#000" stroke-width="0.25" stroke-linejoin="round">1800</text>
<text transform="translate(969.8 1886.8)" font-size="83.5" text-anchor="start" stroke="#000" stroke-width="0.70" stroke-linejoin="round">Wavenumber (cm<tspan font-size="46.5" dy="-43" dx="0.5">-1</tspan><tspan dy="43" dx="5.3">)</tspan></text>
<text transform="translate(544.8 784.6)" font-size="33.3" text-anchor="start" stroke="#000" stroke-width="0.30" stroke-linejoin="round">Wavenumber (cm<tspan font-size="18.6" dy="-16.1" dx="1.2">-1</tspan><tspan dy="16.1" dx="3.2">)</tspan></text>
<text transform="translate(93.2 931.5) rotate(-90) scale(1 1.020)" font-size="83.2" text-anchor="start" stroke="#000" stroke-width="0.70" stroke-linejoin="round">Abs</text>
<text transform="translate(727.4 200.4) rotate(-90) scale(1 1.045)" font-size="67.8" text-anchor="start" stroke="#000" stroke-width="0.60" stroke-linejoin="round">1400</text>
<text transform="translate(914.0 204.6) rotate(-90) scale(1 1.045)" font-size="67.8" text-anchor="start" stroke="#000" stroke-width="0.60" stroke-linejoin="round">1585</text>
<text transform="translate(361.6 436.6) rotate(-90) scale(1 1.045)" font-size="67.8" text-anchor="start" stroke="#000" stroke-width="0.60" stroke-linejoin="round">1084</text>
<text transform="translate(717.2 469.5) rotate(-90) scale(1 1.045)" font-size="67.8" text-anchor="start" stroke="#000" stroke-width="0.60" stroke-linejoin="round">1397</text>
<text transform="translate(934.2 451.6) rotate(-90) scale(1 1.045)" font-size="67.8" text-anchor="start" stroke="#000" stroke-width="0.60" stroke-linejoin="round">1598</text>
<g stroke-width="12" stroke-linecap="round" fill="none" shape-rendering="crispEdges">
<line x1="1281.5" y1="152.8" x2="1468.0" y2="152.8" stroke="#A900BD"/>
<line x1="1281.5" y1="256.0" x2="1468.0" y2="256.0" stroke="#008CAF"/>
<line x1="1983.0" y1="152.8" x2="2169.0" y2="152.8" stroke="#FA48FF"/>
<line x1="1983.0" y1="256.0" x2="2169.0" y2="256.0" stroke="#00D0FA"/>
</g>
<text transform="translate(1490.5 182.3)" font-size="83.2" text-anchor="start" stroke="#000" stroke-width="0.70" stroke-linejoin="round">C3 post appl</text>
<text transform="translate(1490.5 284.7)" font-size="83.2" text-anchor="start" stroke="#000" stroke-width="0.70" stroke-linejoin="round">C2 post appl</text>
<text transform="translate(2192.0 182.3) scale(1 1.040)" font-size="83.2" text-anchor="start" stroke="#000" stroke-width="0.70" stroke-linejoin="round">C3</text>
<text transform="translate(2192.0 284.7) scale(1 1.040)" font-size="83.2" text-anchor="start" stroke="#000" stroke-width="0.70" stroke-linejoin="round">C2</text>
</svg></body></html>
